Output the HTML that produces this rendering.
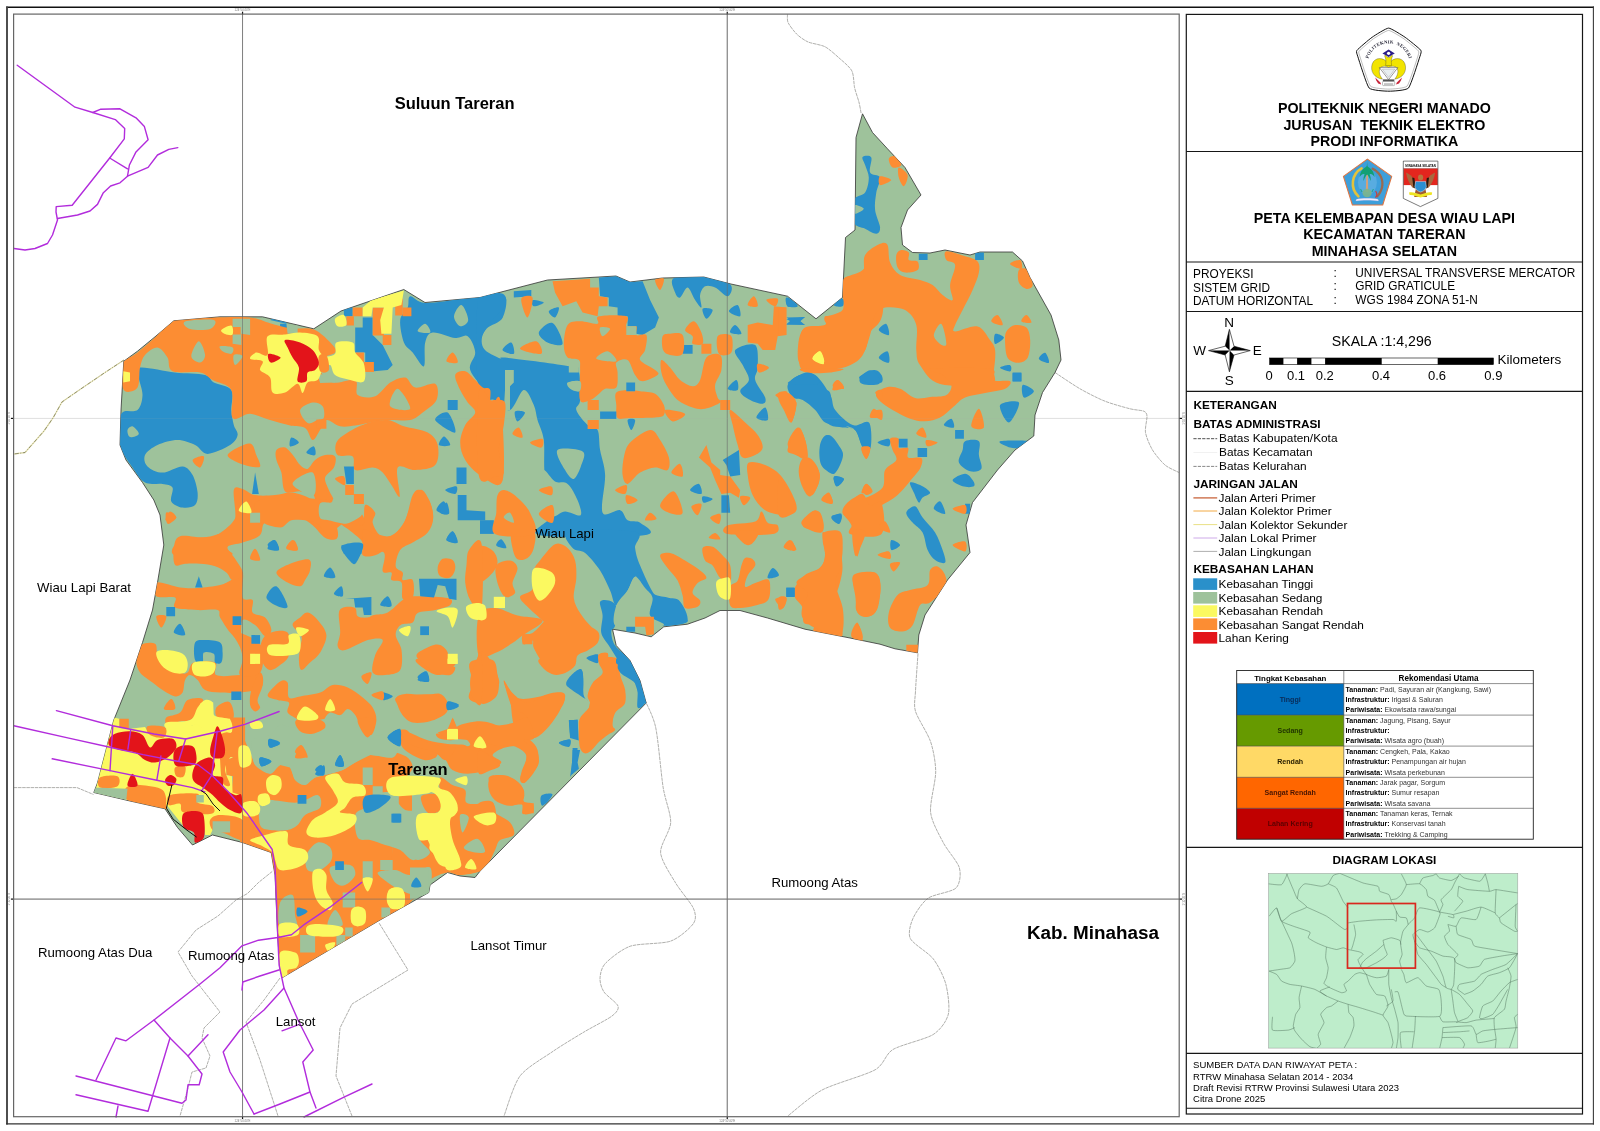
<!DOCTYPE html>
<html lang="id"><head><meta charset="utf-8"><title>Peta Kelembapan Desa Wiau Lapi</title>
<style>
html,body{margin:0;padding:0;background:#fff;}
body{width:1600px;height:1131px;position:relative;overflow:hidden;font-family:"Liberation Sans",sans-serif;color:#000;}
svg{position:absolute;left:0;top:0;will-change:transform;}
.t{position:absolute;white-space:pre;line-height:1;margin:0;padding:0;}
.b{font-weight:bold;}
.tl{position:absolute;left:0;top:0;width:1600px;height:1131px;will-change:transform;}
</style></head><body>
<svg width="1600" height="1131" viewBox="0 0 1600 1131">
<line x1="242.55" y1="14" x2="242.55" y2="1116.7" stroke="#959595" stroke-width="0.9"/>
<line x1="242.55" y1="11.7" x2="242.55" y2="14.6" stroke="#111" stroke-width="1.2"/>
<line x1="242.55" y1="1116.2" x2="242.55" y2="1119" stroke="#111" stroke-width="1.2"/>
<text x="242.55" y="11" font-family="Liberation Sans, sans-serif" font-size="2.9" fill="#777" text-anchor="middle">124°50'40"E</text>
<text x="242.55" y="1122" font-family="Liberation Sans, sans-serif" font-size="2.9" fill="#777" text-anchor="middle">124°50'40"E</text>
<line x1="727.25" y1="14" x2="727.25" y2="1116.7" stroke="#959595" stroke-width="0.9"/>
<line x1="727.25" y1="11.7" x2="727.25" y2="14.6" stroke="#111" stroke-width="1.2"/>
<line x1="727.25" y1="1116.2" x2="727.25" y2="1119" stroke="#111" stroke-width="1.2"/>
<text x="727.25" y="11" font-family="Liberation Sans, sans-serif" font-size="2.9" fill="#777" text-anchor="middle">124°50'40"E</text>
<text x="727.25" y="1122" font-family="Liberation Sans, sans-serif" font-size="2.9" fill="#777" text-anchor="middle">124°50'40"E</text>
<line x1="13" y1="418.4" x2="1179" y2="418.4" stroke="#e2e2e2" stroke-width="0.9"/>
<line x1="13" y1="899.1" x2="1179" y2="899.1" stroke="#808080" stroke-width="0.8"/>
<line x1="10.9" y1="418.4" x2="13.8" y2="418.4" stroke="#111" stroke-width="1.2"/>
<line x1="1179" y1="418.4" x2="1182" y2="418.4" stroke="#111" stroke-width="1.2"/>
<text transform="translate(10,418.4) rotate(-90)" font-family="Liberation Sans, sans-serif" font-size="2.9" fill="#888" text-anchor="middle">1°10'20"N</text>
<text transform="translate(1185,418.4) rotate(-90)" font-family="Liberation Sans, sans-serif" font-size="2.9" fill="#888" text-anchor="middle">1°10'20"N</text>
<line x1="10.9" y1="899.1" x2="13.8" y2="899.1" stroke="#111" stroke-width="1.2"/>
<line x1="1179" y1="899.1" x2="1182" y2="899.1" stroke="#111" stroke-width="1.2"/>
<text transform="translate(10,899.1) rotate(-90)" font-family="Liberation Sans, sans-serif" font-size="2.9" fill="#888" text-anchor="middle">1°10'20"N</text>
<text transform="translate(1185,899.1) rotate(-90)" font-family="Liberation Sans, sans-serif" font-size="2.9" fill="#888" text-anchor="middle">1°10'20"N</text>
<g fill="none" stroke="#6c6c66" stroke-width="0.55" stroke-dasharray="3.5 0.7">
<path d="M124,360L105,372.5L80,389.5L62,402L53,418L44,431L29,448L25,452.5L14,454" stroke="#e9e6b8" stroke-width="1.4" stroke-dasharray="none"/>
<path d="M124,360L105,372.5L80,389.5L62,402L53,418L44,431L29,448L25,452.5L14,454" stroke="#55553a" stroke-width="0.6" stroke-dasharray="4 1.5 1 1.5"/>
<path d="M787.5,14.2C787.6,15.3 786.9,20 788.1,22.6C789.3,25.2 794,31.4 796.6,34C799.2,36.6 804.1,40.2 807.9,41.9C811.7,43.6 820.7,44.6 824.9,46.7C829.1,48.8 835.5,54.8 839.1,58C842.7,61.2 849.7,66.8 851.8,70.8C853.9,74.8 853.7,83.6 854.6,87.7C855.5,91.8 858,98.5 858.9,101.9C859.8,105.3 860.8,111.7 861.1,113.2"/>
<path d="M1055,372.5C1058.3,374.7 1073.3,384.9 1080,388.8C1086.7,392.6 1098.3,398.6 1105,401.2C1111.7,403.9 1124.8,407.4 1130,408.8C1135.2,410.1 1141.5,410.2 1143.8,411.2C1146,412.2 1146.8,413.4 1147,416.2C1147.2,419.1 1144.8,428 1145.5,432.5C1146.2,437 1149.9,445.7 1152.5,450C1155.1,454.3 1161.5,462 1165,465C1168.5,468 1177.1,471.5 1179,472.5"/>
<path d="M918,653.4C917.7,658.4 915.8,683.5 915.5,691.2C915.2,698.9 913.5,704.7 915.5,711.4C917.5,718.1 927.9,733.6 930.6,741.7C933.3,749.8 935.7,762.6 935.7,772C935.7,781.4 929.6,803 930.6,812.4C931.6,821.8 939.5,835.3 943.3,842.7C947.1,850.1 957.7,861.8 959.4,867.9C961.1,874 960.1,884.1 955.9,888.1C951.7,892.1 933.8,894.2 928.1,898.2C922.4,902.2 915.4,913 913,918.4C910.6,923.8 907.7,933.2 910.4,938.6C913.1,944 928.5,952.7 933.2,958.8C937.9,964.9 943.8,976.6 945.8,984C947.8,991.4 950,1007.6 948.3,1014.3C946.6,1021 940.6,1029.8 933.2,1034.5C925.8,1039.2 900.5,1044.9 892.8,1049.6C885.1,1054.3 884.5,1064.4 875.1,1069.8C865.7,1075.2 833.7,1083.8 822.1,1090C810.5,1096.2 792.4,1112.5 787.8,1116"/>
<path d="M642.9,696.3C644.6,700.3 652.8,714.5 655.5,726.6C658.2,738.7 661.1,774.4 663.1,787.2C665.1,800 671,813.8 670.7,822.5C670.4,831.2 659.9,844.7 660.6,852.8C661.3,860.9 671.3,875.7 675.7,883.1C680.1,890.5 691,902.9 693.4,908.3C695.8,913.7 696.4,919.1 693.4,923.5C690.4,927.9 679.1,938.1 670.7,941.1C662.3,944.1 639.1,943.2 630.3,946.2C621.5,949.2 609,959.4 605,963.8C601,968.2 600.1,975.2 600,979C599.9,982.8 601.6,988.4 604,992C606.4,995.6 616.9,1002.8 618,1006C619.1,1009.2 616.5,1012.5 612,1016C607.5,1019.5 592,1027.2 584,1032C576,1036.8 560.5,1046.1 552,1052C543.5,1057.9 526.4,1067.5 520,1076C513.6,1084.5 506.1,1110.7 504,1116"/>
<path d="M13.8,787.6L77,787.6L93.5,794.5"/>
<path d="M272.2,871.5L258.5,882.5L247.5,893.5L236,900L218,916L196,930L178,952L192,976L220,1012L204,1028L202,1038L210,1056L206,1068L192,1072L188,1088L180,1116"/>
<path d="M280,978L264,1000L246,1022L260,1060L278,1116"/>
<path d="M379.2,923.2L408,970L352,1004L340,1028L336,1076L352,1116"/>
</g>
<clipPath id="mapclip"><path d="M123.8,361.2L137.5,351.2L156,336L173.8,320.8L220,316.8L262.5,316.8L313.8,328.8L341,311L403.8,289.5L425,302.5L480,297.5L547.5,280L616,276L630,282L662.5,278L703.8,277L730,283.8L787.5,296.2L816,318.8L842.5,297.5L845.5,237.5L855,230L856,137.5L862.5,113.8L872.5,132.5L887.5,148.8L905,167.5L921,195L907.5,210L901,227.5L902.5,245L912.5,252.5L930,253L945,250L970,255L980,252L1012.5,252L1022.5,261L1030,277.5L1051,315L1058.8,340L1061,360L1055,372.5L1042.5,392.5L1035,415L1033.8,436L1015,450L997.5,470L972.5,502.5L966,525L970,552.5L947.5,580L925,615L918.8,635L917.5,652.8L895,648.8L880,644.2L850,638L805,629.2L767.5,618L740,610.5L720,610.5L705,618L687.5,624.2L663.8,626.8L651.2,636.8L635,633L612.5,629.2L616.2,645.5L630,660.5L640,680.5L646.2,703L480,871.2L475,877.5L460,876L447.5,872.5L430,885L428.8,892.5L380,920L282.5,977.5L280,970L277.5,932.5L275,875L271.2,852.5L242.5,842.5L212.5,835L192.5,845L177.5,827.5L165,808.8L130,801L93.8,792.5L97.5,782.8L113.8,720L130,680L142.5,642.5L152.5,610L157.5,582.5L163.8,545L160,515L153.8,500L142.5,482.5L126,460L120,445L121,410Z"/></clipPath>
<path d="M123.8,361.2L137.5,351.2L156,336L173.8,320.8L220,316.8L262.5,316.8L313.8,328.8L341,311L403.8,289.5L425,302.5L480,297.5L547.5,280L616,276L630,282L662.5,278L703.8,277L730,283.8L787.5,296.2L816,318.8L842.5,297.5L845.5,237.5L855,230L856,137.5L862.5,113.8L872.5,132.5L887.5,148.8L905,167.5L921,195L907.5,210L901,227.5L902.5,245L912.5,252.5L930,253L945,250L970,255L980,252L1012.5,252L1022.5,261L1030,277.5L1051,315L1058.8,340L1061,360L1055,372.5L1042.5,392.5L1035,415L1033.8,436L1015,450L997.5,470L972.5,502.5L966,525L970,552.5L947.5,580L925,615L918.8,635L917.5,652.8L895,648.8L880,644.2L850,638L805,629.2L767.5,618L740,610.5L720,610.5L705,618L687.5,624.2L663.8,626.8L651.2,636.8L635,633L612.5,629.2L616.2,645.5L630,660.5L640,680.5L646.2,703L480,871.2L475,877.5L460,876L447.5,872.5L430,885L428.8,892.5L380,920L282.5,977.5L280,970L277.5,932.5L275,875L271.2,852.5L242.5,842.5L212.5,835L192.5,845L177.5,827.5L165,808.8L130,801L93.8,792.5L97.5,782.8L113.8,720L130,680L142.5,642.5L152.5,610L157.5,582.5L163.8,545L160,515L153.8,500L142.5,482.5L126,460L120,445L121,410Z" fill="#9EC29B" stroke="#333" stroke-width="0.8"/>
<g clip-path="url(#mapclip)">
<path d="M140,367.6C146.1,366.7 164.2,371.3 175,372.6C185.9,373.8 198.6,373.4 205.1,375.1C211.5,376.7 209.4,380.1 213.8,382.6C218.2,385.1 228.4,385.5 231.3,390.1C234.3,394.7 230.9,404.3 231.3,410.1C231.7,415.9 232.8,420.9 233.8,425.1C234.9,429.3 238.2,431.8 237.6,435.1C237,438.4 235.1,442 230.1,445.1C225.1,448.2 213.4,453.9 207.6,453.9C201.7,453.9 200.1,447.4 195.1,445.1C190.1,442.8 183.8,440.1 177.5,440.1C171.3,440.1 163,442.6 157.5,445.1C152.1,447.6 146.7,451.6 145,455.1C143.4,458.7 144.6,463.5 147.5,466.4C150.4,469.3 156.7,472.6 162.5,472.6C168.4,472.6 177.5,466 182.6,466.4C187.6,466.8 190.1,470.8 192.6,475.1C195.1,479.5 197.1,487.6 197.6,492.6C198,497.6 197.6,502.6 195.1,505.1C192.6,507.6 186.5,508.3 182.6,507.6C178.6,507 173,504.7 171.3,501.4C169.6,498.1 174,490.6 172.5,487.6C171.1,484.7 167.1,484.7 162.5,483.9C158,483 150,485.3 145,482.6C140,479.9 136.7,473.9 132.5,467.6C128.4,461.4 121.9,454.1 120,445.1C118.1,436.1 118.3,419.7 121.3,413.8C124.2,408 134,413.2 137.5,410.1C141.1,407 142.3,400.5 142.5,395.1C142.7,389.7 139.2,382.2 138.8,377.6C138.4,373 134,368.4 140,367.6Z" fill="#2A90CA"/>
<path d="M410.2,296.3C413.1,295.5 416.4,302.6 425.2,303C434,303.4 449.8,300.3 462.7,298.8C475.7,297.2 496.1,290.6 502.8,293.8C509.4,296.9 505.5,311.7 502.8,317.5C500,323.4 490.5,324.2 486.5,328.8C482.5,333.4 479.8,339.8 479,345C478.2,350.3 477.9,355.9 481.5,360.1C485,364.2 496.7,363 500.3,370.1C503.8,377.2 504.8,398.8 502.8,402.6C500.7,406.3 493.2,398 487.7,392.6C482.3,387.2 472.3,376.7 470.2,370.1C468.1,363.4 475.7,358.2 475.2,352.6C474.8,346.9 471.1,338.7 467.7,336.3C464.4,333.9 461.1,338.7 455.2,338C449.4,337.4 437.7,331.8 432.7,332.5C427.7,333.3 426.7,336.9 425.2,342.5C423.7,348.2 426,364.6 424,366.3C421.9,368 416,356.5 412.7,352.6C409.4,348.6 406,348 403.9,342.5C401.9,337.1 399.6,325.9 400.2,320C400.8,314.2 406,311.5 407.7,307.5C409.4,303.6 407.3,297 410.2,296.3Z" fill="#2A90CA"/>
<path d="M362.7,317.5L372.7,317.5L372.7,335L382.7,345L392.7,365.1L387.7,370.1L373.9,371.3L365.2,362.6L365.2,352.6L355.2,352.6L355.2,327.5L362.7,327.5Z" fill="#2A90CA"/>
<path d="M343.9,307.5L352.7,307.5L352.7,316.3L343.9,316.3Z" fill="#2A90CA"/>
<path d="M232.6,327L240.6,327L240.6,334.5L232.6,334.5Z" fill="#2A90CA"/>
<path d="M280.1,323.8L287.6,323.8L287.6,333.8L280.1,333.8Z" fill="#2A90CA"/>
<path d="M270.1,320L286.4,323.8L286.4,321.3L272.6,318.8Z" fill="#2A90CA"/>
<path d="M255.1,472.6L258.8,493.9L252.1,493.9Z" fill="#2A90CA"/>
<path d="M478.7,297.5C482.9,281.9 499.6,294.6 503.8,296.3C507.9,297.9 506.1,303.2 503.8,307.5C501.5,311.9 493.6,317.5 490,322.5C486.4,327.5 482.8,333 482,337.6C481.2,342.1 481.6,346.4 485,350.1C488.4,353.7 499.2,358.3 502.5,359.6C505.8,360.8 493.8,356.4 505,357.6C516.3,358.7 557.8,364 570.1,366.3C582.4,368.6 577.1,365.7 578.8,371.3C580.5,377 580.5,393.6 580.1,400.1C579.6,406.6 575.1,405.9 576.3,410.1C577.6,414.3 584,421.8 587.6,425.1C591.1,428.4 595.5,425.9 597.6,430.1C599.7,434.3 598.8,442.6 600.1,450.1C601.3,457.6 604.7,464.7 605.1,475.1C605.5,485.6 600.1,506.8 602.6,512.7C605.1,518.5 615.9,508.9 620.1,510.2C624.3,511.4 624.3,518.1 627.6,520.2C630.9,522.3 637.4,520.2 640.1,522.7C642.8,525.2 660.5,533.1 643.9,535.2C627.2,537.3 555.3,538.5 540,535.2C524.8,531.8 550,522.7 552.5,515.2C555,507.7 556.3,496.8 555,490.2C553.8,483.5 546.9,483.5 545,475.1C543.2,466.8 545,449.3 543.8,440.1C542.5,430.9 539.2,425.9 537.5,420.1C535.9,414.3 536.1,410.1 533.8,405.1C531.5,400.1 527.7,389.3 523.8,390.1C519.8,390.9 514.8,408.4 510,410.1C505.2,411.8 500.2,403.4 495,400.1C489.8,396.8 481.5,407.2 478.7,390.1C476,373 474.6,313.2 478.7,297.5Z" fill="#2A90CA"/>
<path d="M598.8,277.5L616.3,276.3L630.1,282L642.6,281.3L650.1,300L658.9,317.5L655.1,327.5L642.6,335.1L636.3,333.8L636.3,326.3L627.6,326.3L627.6,316.3L617.6,316.3L617.6,307.5L608.8,306.3L608.8,297.5L600.1,296.3Z" fill="#2A90CA"/>
<path d="M673.9,278C678.7,275.4 694.5,275.9 703.9,277C713.3,278.1 726.2,281.3 730.2,284.5C734.1,287.7 730.2,295.8 727.7,296.3C725.2,296.8 718.9,289.2 715.1,287.5C711.4,285.9 707.6,285 705.1,286.3C702.6,287.5 700.8,291.5 700.1,295C699.5,298.6 702.2,306.7 701.4,307.5C700.6,308.4 697.4,303.4 695.1,300C692.8,296.7 690.1,287.9 687.6,287.5C685.1,287.1 682.2,296.7 680.1,297.5C678,298.4 676.2,295.8 675.1,292.5C674.1,289.3 669.1,280.6 673.9,278Z" fill="#2A90CA"/>
<path d="M862.6,157C863.6,155.8 870.1,155 871.3,157.5C872.6,160.1 868.6,169.2 870.1,172.5C871.5,175.9 879,174.2 880.1,177.5C881.1,180.9 877.1,187.1 876.3,192.6C875.5,198 874.4,204.2 875.1,210.1C875.7,215.9 879.9,223.6 880.1,227.6C880.3,231.5 878.8,233.6 876.3,233.8C873.8,234 868.8,230.7 865.1,228.8C861.3,227 855.7,227.4 853.8,222.6C851.9,217.8 851.9,205.1 853.8,200.1C855.7,195.1 862.6,196.3 865.1,192.6C867.6,188.8 868.8,182.1 868.8,177.5C868.8,173 866.1,168.5 865.1,165C864,161.6 861.5,158.3 862.6,157Z" fill="#2A90CA"/>
<path d="M790,382.5C790.8,379.2 796.3,376 800,375C803.8,374 809.2,374.2 812.5,376.3C815.9,378.3 817.1,384.8 820,387.5C822.9,390.2 827.9,388.8 830,392.5C832.1,396.3 830.4,404.8 832.5,410C834.6,415.2 838.8,420.7 842.5,423.8C846.3,426.9 850.9,428.8 855,428.8C859.2,428.8 865.1,421.1 867.6,423.8C870.1,426.5 870.9,441.3 870.1,445C869.2,448.8 865.1,448.8 862.6,446.3C860.1,443.8 858.4,433.2 855,430C851.7,426.9 846.7,428.4 842.5,427.5C838.4,426.7 833.8,427.1 830,425C826.3,422.9 822.9,418.8 820,415C817.1,411.3 816.7,405.9 812.5,402.5C808.4,399.2 798.8,398.4 795,395C791.3,391.7 789.2,385.8 790,382.5Z" fill="#2A90CA"/>
<path d="M570.1,531.7C580.5,529 624.3,529 635.1,531.7C645.9,534.5 634.3,542.4 635.1,548C635.9,553.6 636.8,557.6 640.1,565.5C643.4,573.4 650.1,588.9 655.1,595.5C660.1,602.2 665.9,602.6 670.1,605.5C674.3,608.5 677.2,610.3 680.1,613.1C683,615.8 689.3,619.7 687.6,621.8C686,623.9 674.1,625.1 670.1,625.6C666.2,626 667.2,626 663.9,624.3C660.5,622.6 652,619.9 650.1,615.6C648.2,611.2 653.9,603.5 652.6,598C651.4,592.6 645.5,586.6 642.6,583C639.7,579.5 637.6,575.5 635.1,576.8C632.6,578 630.7,585.7 627.6,590.5C624.5,595.3 619.3,605.5 616.3,605.5C613.4,605.5 612.8,596.4 610.1,590.5C607.4,584.7 604.2,576.8 600.1,570.5C595.9,564.3 589.7,556.8 585.1,553C580.5,549.3 575.1,551.6 572.6,548C570.1,544.5 559.6,534.5 570.1,531.7Z" fill="#2A90CA"/>
<path d="M600.1,601.8C601.1,599.3 606.1,599.7 608.8,600.5C611.5,601.4 615.3,602.6 616.3,606.8C617.4,611 615.9,621.4 615.1,625.6C614.3,629.7 611.3,628.5 611.3,631.8C611.3,635.1 612,640.8 615.1,645.6C618.2,650.4 625.9,654.7 630.1,660.6C634.3,666.4 637.4,673.5 640.1,680.6C642.8,687.7 646.4,700.2 646.4,703.1C646.4,706 642.4,702.3 640.1,698.1C637.8,693.9 635.9,683.9 632.6,678.1C629.3,672.3 624,668.5 620.1,663.1C616.1,657.7 612,650.6 608.8,645.6C605.7,640.6 602.4,638.1 601.3,633.1C600.3,628.1 602.8,620.8 602.6,615.6C602.4,610.3 599,604.3 600.1,601.8Z" fill="#2A90CA"/>
<path d="M637.5,572.6C639.8,568.7 646.3,588.5 651.3,592.6C656.3,596.8 662.7,596.2 667.5,597.6C672.3,599.1 676.7,597.6 680,601.4C683.4,605.1 688.8,616.2 687.5,620.2C686.3,624.1 677.9,624.4 672.5,625.2C667.1,625.9 660.8,626.1 655,624.7C649.2,623.2 640.4,625.1 637.5,616.4C634.6,607.7 635.2,576.6 637.5,572.6Z" fill="#2A90CA"/>
<path d="M122.5,363.1C125.2,358.9 131.9,357 137.5,352.6C143.2,348.1 150.2,341.6 156.3,336.3C162.3,331 164.2,323.9 173.8,320.8C183.4,317.7 201.1,318.1 213.8,317.5C226.5,317 240.7,316.6 250.1,317.5C259.5,318.5 263.4,321.5 270.1,323.3C276.8,325.1 282.8,327.2 290.1,328.3C297.4,329.3 306.8,326.7 313.9,329.5C321,332.3 329.1,341.2 332.6,345C336.2,348.9 336.4,350.5 335.1,352.6C333.9,354.6 327.6,354.6 325.1,357.6C322.6,360.5 318.9,365.9 320.1,370.1C321.4,374.2 326.8,380.9 332.6,382.6C338.5,384.2 351,378 355.2,380.1C359.3,382.2 354.3,392.4 357.7,395.1C361,397.8 369.8,398.4 375.2,396.3C380.6,394.2 385.2,385.7 390.2,382.6C395.2,379.4 401,376.7 405.2,377.6C409.4,378.4 410.2,386.5 415.2,387.6C420.2,388.6 431.7,381.7 435.2,383.8C438.8,385.9 438.5,395.3 436.5,400.1C434.4,404.9 427.1,409.3 422.7,412.6C418.3,415.9 416,418.8 410.2,420.1C404.4,421.3 394.8,419.6 387.7,420.1C380.6,420.6 373.1,422.2 367.7,423.1C362.2,424 359.7,425.1 355.2,425.6C350.6,426.1 344.9,427.3 340.2,426.3C335.4,425.4 329.7,419.5 326.4,420.1C323.1,420.7 322.4,426.8 320.1,430.1C317.8,433.4 315.1,440.4 312.6,440.1C310.1,439.8 308.9,430.5 305.1,428.1C301.4,425.7 296,426.9 290.1,425.6C284.3,424.3 276.8,422.1 270.1,420.1C263.4,418.1 256.3,414.2 250.1,413.8C243.8,413.5 235.7,422.1 232.6,418.1C229.5,414.1 234.7,396.4 231.3,390.1C228,383.7 217.8,383 212.6,380.1C207.4,377.2 206.7,374 200.1,372.6C193.4,371.1 178,373.8 172.5,371.3C167.1,368.8 170,361.5 167.5,357.6C165,353.6 161.3,348 157.5,347.5C153.8,347.1 147.9,351.7 145,355.1C142.1,358.4 141.3,362.1 140,367.6C138.8,373 140,383.6 137.5,387.6C135,391.5 127.7,393 125,391.3C122.3,389.7 121.7,382.3 121.3,377.6C120.8,372.9 119.8,367.2 122.5,363.1Z" fill="#FC8D33"/>
<path d="M403.9,426.3C410.6,428.4 422.1,429.5 427.7,432.6C433.3,435.7 436.5,439.7 437.7,445.1C439,450.5 439,461 435.2,465.1C431.5,469.3 421.5,469.7 415.2,470.1C408.9,470.5 400.3,463.2 397.7,467.6C395.1,472 400.7,493.5 399.7,496.4C398.6,499.3 394.3,489.1 391.4,485.1C388.6,481.2 385.8,475.5 382.7,472.6C379.5,469.7 377.3,468 372.7,467.6C368.1,467.2 358.5,472 355.2,470.1C351.8,468.2 355.6,458.9 352.7,456.4C349.7,453.9 340.4,457.4 337.6,455.1C334.9,452.8 334.7,446.4 336.4,442.6C338.1,438.9 342.4,435.9 347.7,432.6C352.9,429.3 361,425.2 367.7,423.1C374.3,421 381.6,419.6 387.7,420.1C393.7,420.6 397.3,424.3 403.9,426.3Z" fill="#FC8D33"/>
<path d="M455.2,375.1C456.1,371.9 461.9,370.5 465.2,371.3C468.6,372.1 472.3,377.4 475.2,380.1C478.2,382.8 480.2,385.9 482.7,387.6C485.2,389.2 489,386.3 490.2,390.1C491.5,393.8 488.6,408.4 490.2,410.1C491.9,411.8 498.2,388.4 500.3,400.1C502.3,411.8 506.1,467.6 502.8,480.1C499.4,492.6 486.5,478.5 480.2,475.1C474,471.8 468.6,465.5 465.2,460.1C461.9,454.7 460.2,448.4 460.2,442.6C460.2,436.8 462.7,430.1 465.2,425.1C467.7,420.1 474.8,416.3 475.2,412.6C475.7,408.8 470.2,406.3 467.7,402.6C465.2,398.8 462.3,394.7 460.2,390.1C458.1,385.5 454.4,378.2 455.2,375.1Z" fill="#FC8D33"/>
<path d="M192.6,460.1C193.2,458.2 202.6,455.1 203.8,456.4C205.1,457.6 201.9,467 200.1,467.6C198.2,468.2 191.9,462 192.6,460.1Z" fill="#FC8D33"/>
<path d="M165.5,520.2C164.5,519.1 168.3,511.8 170,511.4C171.8,511 177,516.2 176.3,517.7C175.5,519.1 166.6,521.2 165.5,520.2Z" fill="#FC8D33"/>
<path d="M227.6,455.1C228,452.4 236.1,448.2 240.1,446.4C244,444.5 248.6,442.4 251.3,443.9C254.1,445.3 254.9,451.4 256.3,455.1C257.8,458.9 261.1,464.5 260.1,466.4C259.1,468.2 253.8,467 250.1,466.4C246.3,465.7 241.3,464.5 237.6,462.6C233.8,460.7 227.2,457.8 227.6,455.1Z" fill="#FC8D33"/>
<path d="M276.4,450.1C277.8,448 282.2,446.6 285.1,447.6C288,448.7 291.4,453.4 293.9,456.4C296.4,459.3 297.8,463 300.1,465.1C302.4,467.2 305.1,469.7 307.6,468.9C310.1,468 312.2,462.4 315.1,460.1C318.1,457.8 321.8,455.7 325.1,455.1C328.5,454.5 333.7,454.3 335.1,456.4C336.6,458.5 335.6,464.1 333.9,467.6C332.2,471.2 326,473.9 325.1,477.6C324.3,481.4 327.4,486.2 328.9,490.1C330.4,494.1 334.5,499.1 333.9,501.4C333.3,503.7 328.1,503.9 325.1,503.9C322.2,503.9 318.5,503.1 316.4,501.4C314.3,499.7 315.3,495.6 312.6,493.9C309.9,492.2 304.7,491.8 300.1,491.4C295.5,491 288.2,494.5 285.1,491.4C282,488.3 282.8,477.8 281.4,472.6C279.9,467.4 277.2,463.9 276.4,460.1C275.5,456.4 274.9,452.2 276.4,450.1Z" fill="#FC8D33"/>
<path d="M233.8,490.1C235.1,484.9 239,488.1 242.6,488.9C246.1,489.7 249.7,494.1 255.1,495.1C260.5,496.2 268.9,495.6 275.1,495.1C281.4,494.7 286.4,491.8 292.6,492.6C298.9,493.5 308.5,497.2 312.6,500.1C316.8,503.1 314.3,506.8 317.6,510.2C321,513.5 329.3,516.8 332.6,520.2C336,523.5 337,527 337.6,530.2C338.3,533.3 338.5,537.7 336.4,538.9C334.3,540.2 329.1,540 325.1,537.7C321.2,535.4 316.8,528.5 312.6,525.2C308.5,521.8 303.9,518.5 300.1,517.7C296.4,516.8 293.5,518.9 290.1,520.2C286.8,521.4 284.3,524.7 280.1,525.2C275.9,525.6 268.4,521.4 265.1,522.7C261.8,523.9 262.6,530 260.1,532.7C257.6,535.4 253.4,538.5 250.1,538.9C246.8,539.3 244.3,536.2 240.1,535.2C235.9,534.1 230.1,532.5 225.1,532.7C220.1,532.9 215.1,535.6 210.1,536.4C205.1,537.3 200.1,537.3 195.1,537.7C190.1,538.1 183.4,536 180.1,538.9C176.7,541.8 166.7,552.5 175,555.2C183.4,557.9 221.7,556.8 230.1,555.2C238.4,553.5 224.2,551 225.1,545.2C225.9,539.3 233.6,529.3 235.1,520.2C236.5,511 232.6,495.3 233.8,490.1Z" fill="#FC8D33"/>
<path d="M412.7,495.1C415.2,490.1 417.3,488.9 420.2,490.1C423.1,491.4 428.1,497.6 430.2,502.6C432.3,507.6 434,515.6 432.7,520.2C431.5,524.7 428.1,527.2 422.7,530.2C417.3,533.1 406,534.7 400.2,537.7C394.4,540.6 391.8,544.8 387.7,547.7C383.5,550.6 379.3,553.9 375.2,555.2C371,556.4 364.7,557.3 362.7,555.2C360.6,553.1 364.3,546.4 362.7,542.7C361,538.9 356.4,536 352.7,532.7C348.9,529.3 340.6,524.7 340.2,522.7C339.7,520.6 346.4,520.2 350.2,520.2C353.9,520.2 360.2,525.2 362.7,522.7C365.2,520.2 363.1,506.8 365.2,505.1C367.3,503.5 373.9,509.7 375.2,512.7C376.4,515.6 371.8,518.9 372.7,522.7C373.5,526.4 376.8,533.1 380.2,535.2C383.5,537.3 388.5,537.7 392.7,535.2C396.9,532.7 401.9,526.8 405.2,520.2C408.5,513.5 410.2,500.1 412.7,495.1Z" fill="#FC8D33"/>
<path d="M552.5,281.3L590.1,278.8L590.1,287.5L598.8,287.5L598.8,296.3L607.6,297.5L607.6,306.3L598.8,306.3L597.6,316.3L582.6,312.5L576.3,301.3L562.6,306.3L555,292.5Z" fill="#FC8D33"/>
<path d="M567.6,325C570.3,321.1 575.1,321.5 580.1,321.3C585.1,321.1 594.4,324.6 597.6,323.8C600.7,323 594,317.5 598.8,316.3C603.6,315 621.8,314.6 626.3,316.3C630.9,318 624.7,324.6 626.3,326.3C628,328 634.7,324.8 636.3,326.3C638,327.8 634.7,333.6 636.3,335.1C638,336.5 644.9,332.6 646.4,335.1C647.8,337.6 646.1,345.9 645.1,350.1C644.1,354.2 638.4,356.7 640.1,360.1C641.8,363.4 652.2,367.6 655.1,370.1C658,372.6 659.7,373.2 657.6,375.1C655.5,377 646.4,381.3 642.6,381.3C638.8,381.3 637.6,378.6 635.1,375.1C632.6,371.5 630.7,362.2 627.6,360.1C624.5,358 618,360.5 616.3,362.6C614.7,364.7 617.6,368.4 617.6,372.6C617.6,376.7 618.4,384.9 616.3,387.6C614.3,390.3 608.2,387.6 605.1,388.8C602,390.1 600.1,393.2 597.6,395.1C595.1,397 593,399.3 590.1,400.1C587.2,400.9 581.7,405.1 580.1,400.1C578.4,395.1 580.3,376.7 580.1,370.1C579.9,363.4 580.9,362.2 578.8,360.1C576.7,358 570.1,360.1 567.6,357.6C565.1,355.1 563.8,350.5 563.8,345.1C563.8,339.6 564.8,329 567.6,325Z" fill="#FC8D33"/>
<path d="M616.3,392.6C618.6,390.1 626.1,390.3 630.1,390.1C634.1,389.9 635.9,390.7 640.1,391.3C644.3,392 651.1,391.5 655.1,393.8C659.1,396.1 662.4,401.6 663.9,405.1C665.3,408.6 665.3,413 663.9,415.1C662.4,417.2 660.7,417.1 655.1,417.6C649.5,418.1 636.3,418 630.1,418.1C623.8,418.2 619.9,420.3 617.6,418.1C615.3,415.9 616.5,409.3 616.3,405.1C616.1,400.8 614,395.1 616.3,392.6Z" fill="#FC8D33"/>
<path d="M661.4,360.1C662.8,359.2 667,364.2 670.1,367.6C673.2,370.9 676.4,377 680.1,380.1C683.9,383.2 689.3,386.3 692.6,386.3C696,386.3 697.8,384.9 700.1,380.1C702.4,375.3 703.1,361.7 706.4,357.6C709.7,353.4 717.6,353 720.2,355.1C722.7,357.2 722.2,365.1 721.4,370.1C720.6,375.1 715.8,380.5 715.1,385.1C714.5,389.7 716.8,394.7 717.6,397.6C718.5,400.5 722.2,400.7 720.2,402.6C718.1,404.5 709.7,408 705.1,408.8C700.6,409.7 697.2,409.1 692.6,407.6C688,406.1 682,403.8 677.6,400.1C673.2,396.3 669.1,389.7 666.4,385.1C663.7,380.5 662.2,376.7 661.4,372.6C660.5,368.4 659.9,360.9 661.4,360.1Z" fill="#FC8D33"/>
<path d="M844,278.8C847.3,275 856.3,275 862.7,270C869.2,265 879.4,241.7 882.8,248.7C886.1,255.8 884.8,298.6 882.8,312.5C880.7,326.5 873.2,326.3 870.2,332.6C867.3,338.8 867.7,345.5 865.2,350.1C862.7,354.6 860.2,356.9 855.2,360.1C850.2,363.2 841.9,366.9 835.2,368.8C828.6,370.7 820.6,371.5 815.2,371.3C809.8,371.1 805.6,370.3 802.7,367.6C799.8,364.9 797.7,361.3 797.7,355.1C797.7,348.8 798.1,335.1 802.7,330.1C807.3,325 821.5,327.3 825.2,325C829,322.8 822.3,317.8 825.2,316.3C828.1,314.8 839.8,320.3 842.7,316.3C845.6,312.3 842.5,298.8 842.7,292.5C842.9,286.3 840.6,282.5 844,278.8Z" fill="#FC8D33"/>
<path d="M845,277.6C848.4,274.7 859.2,278.9 862.6,275.1C865.9,271.4 862.1,260.3 865.1,255.1C868,249.9 876.3,245.5 880.1,243.8C883.8,242.2 885.9,242 887.6,245.1C889.2,248.2 888,257.6 890.1,262.6C892.2,267.6 895.1,272.2 900.1,275.1C905.1,278 914.7,278.4 920.1,280.1C925.5,281.8 928.8,282.6 932.6,285.1C936.3,287.6 939.3,292.6 942.6,295.1C945.9,297.6 951.4,301.8 952.6,300.1C953.9,298.5 949.7,291 950.1,285.1C950.5,279.3 955.7,269.3 955.1,265.1C954.5,260.9 947.8,262.4 946.4,260.1C944.9,257.8 943.2,252 946.4,251.3C949.5,250.7 959.9,254.7 965.1,256.3C970.3,258 975.3,258.6 977.6,261.4C979.9,264.1 979.7,267.8 978.9,272.6C978,277.4 975.3,283.9 972.6,290.1C969.9,296.4 965.5,304.3 962.6,310.1C959.7,316 956.4,321.6 955.1,325.1C953.9,328.7 951.4,331.2 955.1,331.4C958.9,331.6 971.8,324.9 977.6,326.4C983.5,327.9 987.2,336.2 990.1,340.2C993,344.1 994.5,345.2 995.1,350.2C995.8,355.2 994.7,364.5 993.9,370.2C993,375.8 999.1,381.6 990.1,383.9C981.2,386.2 951.8,387.1 940.1,383.9C928.4,380.8 924,370.8 920.1,365.2C916.1,359.5 917,356.8 916.3,350.2C915.7,343.5 918.2,331.8 916.3,325.1C914.5,318.5 910.3,313 905.1,310.1C899.9,307.2 890.1,306.8 885.1,307.6C880.1,308.5 877.6,310.5 875.1,315.1C872.6,319.7 872.1,328.5 870.1,335.1C868,341.8 865.9,350.2 862.6,355.2C859.2,360.2 855.5,362.7 850,365.2C844.6,367.7 837.5,369.1 830,370.2C822.5,371.2 810.2,373.1 805,371.4C799.8,369.8 799.6,365.4 798.8,360.2C797.9,355 799,345.6 800,340.2C801.1,334.7 800.8,330.1 805,327.6C809.2,325.1 821.7,326.8 825,325.1C828.4,323.5 822.1,320.1 825,317.6C827.9,315.1 839.6,314.3 842.5,310.1C845.5,306 842.1,298 842.5,292.6C843,287.2 841.7,280.5 845,277.6Z" fill="#FC8D33"/>
<path d="M876.3,393.8C877.6,391.4 883.6,387.8 887.6,387C891.5,386.2 895.5,386.9 900.1,388.8C904.7,390.6 910.1,396.6 915.1,398C920.1,399.4 924.9,397.5 930.1,397C935.3,396.5 942.8,397 946.4,395C949.9,393 952,388.3 951.4,385C950.7,381.7 946.1,377.7 942.6,375C939.1,372.3 922.2,369.8 930.1,368.7C938,367.7 979.7,366.9 990.1,368.7C1000.6,370.6 989.3,377.9 992.6,380C996,382.1 1008.1,379.8 1010.1,381.3C1012.2,382.7 1009.3,386.8 1005.1,388.8C1001,390.7 991.8,391.6 985.1,393C978.5,394.5 970.5,395.1 965.1,397.5C959.7,399.9 956.8,404.2 952.6,407.5C948.4,410.9 944.7,415.2 940.1,417.5C935.5,419.8 930.1,421.1 925.1,421.3C920.1,421.5 915.5,420.7 910.1,418.8C904.7,416.9 897.6,412.9 892.6,410C887.6,407.1 882.8,404 880.1,401.3C877.4,398.6 875.1,396.1 876.3,393.8Z" fill="#FC8D33"/>
<path d="M801.3,368.7C806.7,368 837.7,368.1 842.5,368.7C847.3,369.4 835.5,371.8 830,372.5C824.6,373.2 814.8,373.6 810,373C805.2,372.4 795.8,369.5 801.3,368.7Z" fill="#FC8D33"/>
<path d="M890.1,438.8C891.1,436.9 897.4,437.3 898.8,438.8C900.3,440.3 897.3,446.5 898.8,448C900.4,449.6 906.5,446.5 908.1,448C909.6,449.6 905.9,455.9 908.1,457.6C910.3,459.2 919.3,456.4 921.3,458.1C923.4,459.7 922,464.2 920.6,467.6C919.1,470.9 916.4,473.5 912.6,478.1C908.7,482.7 903,490.4 897.6,495.1C892.2,499.8 884.2,503.8 880.1,506.3C875.9,508.8 874.9,507.8 872.6,510.1C870.3,512.4 868,515.9 866.3,520.1C864.6,524.3 864,529.1 862.6,535.1C861.1,541.1 859,555.1 857.5,556.4C856.1,557.6 854.8,547.8 853.8,542.6C852.8,537.4 853.2,530.1 851.3,525.1C849.4,520.1 843.2,516.3 842.5,512.6C841.9,508.8 844.6,505.5 847.5,502.6C850.5,499.7 856.9,495.9 860.1,495.1C863.2,494.2 862.6,498.8 866.3,497.6C870.1,496.3 879.4,492.2 882.6,487.6C885.7,483 882.8,474.6 885.1,470.1C887.4,465.5 895.1,463.4 896.3,460.1C897.6,456.7 893.6,453.6 892.6,450.1C891.5,446.5 889,440.7 890.1,438.8Z" fill="#FC8D33"/>
<path d="M822.5,532.6C823.8,530.1 829.6,537.2 832.5,540.1C835.5,543 838.4,545.5 840,550.1C841.7,554.7 842.5,562.2 842.5,567.6C842.5,573 841.3,577.2 840,582.6C838.8,588.1 835.5,594.7 835,600.1C834.6,605.6 836.3,610.2 837.5,615.2C838.8,620.2 842.3,626.4 842.5,630.2C842.7,633.9 843.4,637.3 838.8,637.7C834.2,638.1 819.2,634.7 815,632.7C810.9,630.6 815.6,626.8 813.8,625.2C811.9,623.5 805.6,625.6 803.8,622.7C801.9,619.7 804,611.8 802.5,607.6C801.1,603.5 796.3,601 795,597.6C793.8,594.3 793.3,591.4 795,587.6C796.7,583.9 800.8,578.5 805,575.1C809.2,571.8 816.7,571 820,567.6C823.4,564.3 824.6,561 825,555.1C825.4,549.3 821.3,535.1 822.5,532.6Z" fill="#FC8D33"/>
<path d="M852.5,577.6C853.2,573.9 856.3,573.5 860.1,572.6C863.8,571.8 871.7,571 875.1,572.6C878.4,574.3 879.2,578.9 880.1,582.6C880.9,586.4 880.9,590.1 880.1,595.1C879.2,600.1 877.6,609.1 875.1,612.7C872.6,616.2 868.2,616.8 865.1,616.4C861.9,616 857.8,613.7 856.3,610.2C854.8,606.6 856.9,600.6 856.3,595.1C855.7,589.7 851.9,581.4 852.5,577.6Z" fill="#FC8D33"/>
<path d="M888.8,612.7C890.1,607.2 894,598.9 897.6,595.1C901.1,591.4 905.1,591.8 910.1,590.1C915.1,588.5 924.3,588.5 927.6,585.1C930.9,581.8 928.4,573.3 930.1,570.1C931.8,567 935.1,565.5 937.6,566.4C940.1,567.2 943.9,571.6 945.1,575.1C946.4,578.7 947.6,583 945.1,587.6C942.6,592.2 934.3,599.7 930.1,602.6C925.9,605.6 923,601.4 920.1,605.1C917.2,608.9 915.5,620.8 912.6,625.2C909.7,629.5 906.3,631 902.6,631.4C898.8,631.8 892.4,630.8 890.1,627.7C887.8,624.5 887.6,618.1 888.8,612.7Z" fill="#FC8D33"/>
<path d="M156.3,582.6C160.3,581.1 173.2,586.6 180.1,587.6C186.9,588.5 190.9,588.5 197.6,588.1C204.2,587.6 214.5,586.4 220.1,585.1C225.7,583.7 227.6,582.1 231.3,580.1C235.1,578 240.7,569.6 242.6,572.5C244.5,575.5 240.9,593 242.6,597.6C244.3,602.1 250.9,597.6 252.6,600.1C254.3,602.6 250.5,609.7 252.6,612.6C254.7,615.5 262,614.7 265.1,617.6C268.2,620.5 271.4,627 271.4,630.1C271.4,633.2 267.8,637.2 265.1,636.3C262.4,635.5 258.9,627.8 255.1,625.1C251.4,622.4 245.1,617.6 242.6,620.1C240.1,622.6 242.2,638 240.1,640.1C238,642.2 233.4,636.3 230.1,632.6C226.8,628.8 222.2,621.3 220.1,617.6C218,613.8 221.3,611.3 217.6,610.1C213.8,608.8 204.7,610.5 197.6,610.1C190.5,609.7 178.8,609.7 175.1,607.6C171.3,605.5 178.2,599.4 175.1,597.6C171.9,595.7 159.4,598.8 156.3,596.3C153.2,593.8 152.3,584 156.3,582.6Z" fill="#FC8D33"/>
<path d="M175.1,565C173.2,562.7 173,554.8 173.8,550C174.6,545.2 174,538.4 180.1,536.3C186.1,534.2 201.7,539.4 210.1,537.5C218.4,535.6 224.7,529.6 230.1,525C235.5,520.4 237.6,510.8 242.6,510C247.6,509.2 257.2,515.8 260.1,520C263,524.2 263,531.3 260.1,535C257.2,538.8 248,540.5 242.6,542.5C237.2,544.5 228.8,544.3 227.6,547C226.3,549.7 232.5,554.3 235.1,558.8C237.7,563.2 243.5,570.3 243.1,573.8C242.7,577.3 235.4,580.3 232.6,580.1C229.8,579.8 229.3,574.8 226.3,572.5C223.4,570.3 219.5,567.8 215.1,566.3C210.7,564.8 205.1,564.2 200.1,563.8C195.1,563.4 189.2,563.6 185.1,563.8C180.9,564 176.9,567.3 175.1,565Z" fill="#FC8D33"/>
<path d="M260.1,520C263.4,524.6 274.7,527.5 280.1,527.5C285.5,527.5 286.8,520.8 292.6,520C298.5,519.2 308.9,519.6 315.1,522.5C321.4,525.4 326.4,536.7 330.2,537.5C333.9,538.4 334.7,530 337.7,527.5C340.6,525 343.5,522.9 347.7,522.5C351.8,522.1 360.6,526.7 362.7,525C364.8,523.3 365.6,516.7 360.2,512.5C354.8,508.3 346.8,502.1 330.2,500C313.5,497.9 271.8,496.7 260.1,500C248.4,503.3 256.8,515.4 260.1,520Z" fill="#FC8D33"/>
<path d="M420.2,490C423.3,488.7 426.8,495.3 429,500C431.1,504.7 433.4,512.6 433.2,518C433,523.4 431.1,528.4 427.7,532.5C424.3,536.6 417.3,539.6 412.7,542.5C408.1,545.4 403,546.1 400.2,550C397.4,554 395.3,562.5 395.7,566.3C396.1,570 401.5,570.3 402.7,572.5C403.9,574.8 401,578.8 402.7,580.1C404.4,581.3 411,577.1 412.7,580.1C414.4,583 414.4,594.4 412.7,597.6C411,600.7 404.6,601.3 402.7,598.8C400.8,596.3 403.3,585.7 401.5,582.6C399.6,579.4 393.1,581.7 391.4,580.1C389.8,578.4 392.9,574 391.4,572.5C390,571.1 383.9,574.6 382.7,571.3C381.4,568 386.9,556.1 383.9,552.5C381,549 368.6,553.8 365.2,550C361.7,546.3 361.5,532.7 363.2,530C364.8,527.3 370.7,532.8 375.2,533.8C379.7,534.8 385.6,537.5 390.2,536C394.8,534.6 399.4,529.8 402.7,525C406,520.3 407.3,513.3 410.2,507.5C413.1,501.7 417.1,491.2 420.2,490Z" fill="#FC8D33"/>
<path d="M338.9,612.6C339.7,608.3 342.5,607.8 345.2,607.1C347.9,606.3 353.1,606.5 355.2,608.1C357.3,609.6 355.6,614.7 357.7,616.3C359.8,617.9 365,617.8 367.7,617.6C370.4,617.4 370.6,615.9 373.9,615.1C377.3,614.2 382.9,615.1 387.7,612.6C392.5,610.1 398.5,602.8 402.7,600.1C406.9,597.4 405.2,596.6 412.7,596.3C420.2,596 441.5,596.6 447.7,598.1C454,599.5 452.3,603.1 450.2,605.1C448.1,607.1 440.6,608.7 435.2,610.1C429.8,611.4 421.5,611 417.7,613.1C414,615.2 415.5,620.6 412.7,622.6C409.9,624.6 403.5,623 400.7,625.1C397.9,627.2 395.6,630.9 395.7,635.1C395.8,639.3 400.7,644.3 401.5,650.1C402.2,655.9 402.9,665.9 400.2,670.1C397.5,674.3 389.8,674.7 385.2,675.1C380.6,675.5 374.4,675.9 372.7,672.6C371,669.3 373.5,660.5 375.2,655.1C376.9,649.7 383.9,642.6 382.7,640.1C381.4,637.6 373.9,638.4 367.7,640.1C361.4,641.8 350.2,649.1 345.2,650.1C340.2,651.1 338.5,649.3 337.7,646.3C336.8,643.4 340,638.2 340.2,632.6C340.4,627 338.1,616.8 338.9,612.6Z" fill="#FC8D33"/>
<path d="M141.3,645.1C144.4,642.4 152.3,642.2 155,643.8C157.8,645.5 155.9,651.6 157.5,655.1C159.2,658.6 161.3,662.2 165.1,665.1C168.8,668 176.3,671.4 180.1,672.6C183.8,673.9 185.3,674.3 187.6,672.6C189.9,670.9 189.2,664.3 193.8,662.6C198.4,660.9 211.3,660.5 215.1,662.6C218.8,664.7 212.2,673 216.3,675.1C220.5,677.2 232.8,675.5 240.1,675.1C247.4,674.7 256.4,670.9 260.1,672.6C263.9,674.3 263.4,682.2 262.6,685.1C261.8,688 258.9,688.9 255.1,690.1C251.4,691.4 245.9,692.2 240.1,692.6C234.3,693 225.9,693 220.1,692.6C214.3,692.2 208.8,692.2 205.1,690.1C201.3,688 200.1,682.6 197.6,680.1C195.1,677.6 192.2,675.1 190.1,675.1C188,675.1 186.3,677.2 185.1,680.1C183.8,683 184.2,689.9 182.6,692.6C180.9,695.3 178.4,696.8 175.1,696.4C171.7,696 166.3,692.4 162.6,690.1C158.8,687.8 156.3,685.5 152.5,682.6C148.8,679.7 142.7,676.4 140,672.6C137.3,668.9 136.1,664.7 136.3,660.1C136.5,655.5 138.2,647.8 141.3,645.1Z" fill="#FC8D33"/>
<path d="M232.6,632.6C233,630.3 238.8,632.6 242.6,633.8C246.4,635.1 251.8,637.4 255.1,640.1C258.4,642.8 261.8,644.7 262.6,650.1C263.4,655.5 263.9,668.4 260.1,672.6C256.4,676.8 243,677.2 240.1,675.1C237.2,673 242.6,664.7 242.6,660.1C242.6,655.5 241.8,652.2 240.1,647.6C238.4,643 232.2,634.9 232.6,632.6Z" fill="#FC8D33"/>
<path d="M267.6,695.1C268,692 276.8,683.4 280.1,681.4C283.5,679.3 286.2,679.9 287.6,682.6C289.1,685.3 286.8,695.3 288.9,697.6C291,699.9 294.9,697.2 300.1,696.4C305.3,695.5 314.7,694.5 320.2,692.6C325.6,690.7 328.1,685.9 332.7,685.1C337.2,684.3 342.7,685.5 347.7,687.6C352.7,689.7 358.5,694.3 362.7,697.6C366.8,701 370.4,703.9 372.7,707.6C375,711.4 376.6,715.6 376.4,720.1C376.2,724.7 373.7,733.5 371.4,735.1C369.1,736.8 365.4,733.5 362.7,730.1C360,726.8 357.7,718.7 355.2,715.1C352.7,711.6 350.2,708.9 347.7,708.9C345.2,708.9 343.1,714.5 340.2,715.1C337.2,715.8 332.9,711.8 330.2,712.6C327.4,713.5 325.6,717.2 323.9,720.1C322.2,723.1 324.1,728.5 320.2,730.1C316.2,731.8 303.9,731.8 300.1,730.1C296.4,728.5 299.7,723.1 297.6,720.1C295.6,717.2 289.1,715.6 287.6,712.6C286.2,709.7 290.5,704.7 288.9,702.6C287.2,700.5 281.2,701.4 277.6,700.1C274.1,698.9 267.2,698.2 267.6,695.1Z" fill="#FC8D33"/>
<path d="M396.4,697.6C397.3,695.3 400.4,694.3 405.2,693.9C410,693.5 419.4,695.1 425.2,695.1C431.1,695.1 436.5,692.6 440.2,693.9C444,695.1 446.7,699.5 447.7,702.6C448.8,705.8 448.6,709.9 446.5,712.6C444.4,715.3 439.6,717.4 435.2,718.9C430.8,720.3 425.2,721.6 420.2,721.4C415.2,721.2 408.5,719.9 405.2,717.6C401.9,715.3 401.7,711 400.2,707.6C398.7,704.3 395.6,699.9 396.4,697.6Z" fill="#FC8D33"/>
<path d="M400.2,730.1C402.3,729.3 408.1,732.2 412.7,733.9C417.3,735.6 421.9,738.5 427.7,740.2C433.6,741.8 441.5,743.1 447.7,743.9C454,744.7 461.5,743.7 465.2,745.2C469,746.6 471.9,751 470.2,752.7C468.6,754.3 460.2,755.2 455.2,755.2C450.2,755.2 443.6,752.2 440.2,752.7C436.9,753.1 437.7,756.4 435.2,757.7C432.7,758.9 429,760.6 425.2,760.2C421.5,759.7 416.5,757.2 412.7,755.2C409,753.1 404.8,750.4 402.7,747.7C400.6,744.9 400.6,741.8 400.2,738.9C399.8,736 398.1,731 400.2,730.1Z" fill="#FC8D33"/>
<path d="M251.4,690.1C253,684.7 258.2,673.4 260.1,672.6C262,671.8 263,680.5 262.6,685.1C262.2,689.7 258,696.4 257.6,700.1C257.2,703.9 260.5,705.8 260.1,707.6C259.7,709.5 256.8,711.8 255.1,711.4C253.4,711 250.7,708.7 250.1,705.1C249.5,701.6 249.7,695.5 251.4,690.1Z" fill="#FC8D33"/>
<path d="M187.6,700.1C191.3,697.8 200.5,697.2 202.6,698.9C204.7,700.5 202.2,706.6 200.1,710.1C198,713.7 193.4,718.3 190.1,720.1C186.7,722 183.8,720.6 180.1,721.4C176.3,722.2 169.8,725.8 167.6,725.1C165.3,724.5 164.2,719.7 166.3,717.6C168.4,715.6 176.5,715.6 180.1,712.6C183.6,709.7 183.8,702.4 187.6,700.1Z" fill="#FC8D33"/>
<path d="M216.3,707.6C218,704.9 224.9,701.4 227.6,701.4C230.3,701.4 231.8,704.7 232.6,707.6C233.4,710.5 235.1,717.2 232.6,718.9C230.1,720.6 220.3,719.5 217.6,717.6C214.9,715.8 214.7,710.3 216.3,707.6Z" fill="#FC8D33"/>
<path d="M242.6,735L255.1,765L270.1,773.8L280.1,765L290.1,767.5L295.1,780L305.1,785L315.1,777.5L330.2,773.8L342.7,770L355.2,762.5L370.2,755L392.7,757.5L392.7,1005.2L240.1,1005.2L240.1,795L232.6,785L240.1,770Z" fill="#FC8D33"/>
<path d="M417.5,658.7C422.9,657.3 449.6,656.9 455,658.7C460.5,660.6 453,667.3 450,670C447.1,672.7 442.1,675.4 437.5,675C432.9,674.6 425.9,670.2 422.5,667.5C419.2,664.8 412.1,660.2 417.5,658.7Z" fill="#FC8D33"/>
<path d="M470.1,662.5C473.4,658.7 488,657.9 492.6,660C497.2,662.1 496.5,670.8 497.6,675C498.6,679.2 500.1,681.3 498.8,685C497.6,688.8 493.6,694.6 490.1,697.5C486.5,700.4 481.1,702.5 477.6,702.5C474,702.5 469.6,700.9 468.8,697.5C468,694.2 472.3,688.4 472.6,682.5C472.8,676.7 466.7,666.3 470.1,662.5Z" fill="#FC8D33"/>
<path d="M540.1,658.7C544.7,657.3 565.9,656.9 570.1,658.7C574.3,660.6 568,667.5 565.1,670C562.2,672.5 556.4,674.2 552.6,673.8C548.9,673.3 544.7,670 542.6,667.5C540.5,665 535.5,660.2 540.1,658.7Z" fill="#FC8D33"/>
<path d="M396.3,697.5C399.2,695.9 408.6,695.4 415,695C421.5,694.6 429.6,693.8 435,695C440.5,696.3 445.9,699.4 447.5,702.5C449.2,705.7 448,710.7 445,713.8C442.1,716.9 435.5,719.8 430,721.3C424.6,722.7 417.1,723.6 412.5,722.5C407.9,721.5 405,718 402.5,715C400,712.1 398.6,707.9 397.5,705C396.5,702.1 393.3,699.2 396.3,697.5Z" fill="#FC8D33"/>
<path d="M503.8,681.3C504.9,680.8 511.1,694.8 516.3,697.5C521.5,700.2 528.6,698.4 535.1,697.5C541.6,696.7 550.1,692.9 555.1,692.5C560.1,692.1 564.3,692.1 565.1,695C565.9,697.9 562.6,705 560.1,710C557.6,715 553.4,720.9 550.1,725C546.8,729.2 542.9,733 540.1,735C537.3,737.1 534.8,738.8 533.1,737.5C531.4,736.3 531,730.7 530.1,727.5C529.2,724.4 529.1,718.8 527.6,718.8C526.1,718.8 523.2,725.2 521.3,727.5C519.5,729.8 517.8,733.8 516.3,732.5C514.9,731.3 513.6,725.5 512.6,720C511.5,714.6 511.5,706.5 510.1,700C508.6,693.6 502.8,681.7 503.8,681.3Z" fill="#FC8D33"/>
<path d="M457.5,726.3C460.5,724 473,721.3 480.1,721.3C487.2,721.3 494,724.4 500.1,726.3C506.1,728.2 511.3,730.3 516.3,732.5C521.3,734.8 526.5,737.1 530.1,740.1C533.6,743 536.3,745.9 537.6,750.1C538.8,754.2 538.8,760.5 537.6,765.1C536.3,769.7 532.6,774.6 530.1,777.6C527.6,780.6 524.3,783.1 522.6,783.1C520.9,783.1 519.7,780.6 520.1,777.6C520.5,774.6 524,769.2 525.1,765.1C526.1,760.9 527.2,755.7 526.3,752.6C525.5,749.4 523.6,747.1 520.1,746.3C516.5,745.5 509.7,746.1 505.1,747.6C500.5,749 493.2,752.6 492.6,755.1C491.9,757.6 502.2,760.1 501.3,762.6C500.5,765.1 493.2,768.2 487.6,770.1C481.9,771.9 473.4,773.8 467.6,773.8C461.7,773.8 456.2,772.4 452.5,770.1C448.9,767.8 448.3,763.2 445.5,760.1C442.8,756.9 434.7,753.3 436.3,751.3C437.9,749.3 449.4,749.1 455,748.1C460.7,747 468.8,747.2 470.1,745.1C471.3,742.9 464.6,738.2 462.6,735C460.5,731.9 454.6,728.6 457.5,726.3Z" fill="#FC8D33"/>
<path d="M400,731.3C399.8,729.2 404.2,729.4 406.3,730C408.4,730.7 409,733 412.5,735C416.1,737.1 422.9,740.7 427.5,742.6C432.1,744.4 435.5,745.4 440,746.3C444.6,747.2 454.1,745.8 455,748.1C456,750.3 448.9,759.3 445.5,760.1C442.2,760.8 439.3,754.6 435,752.6C430.8,750.6 424.6,749.7 420,748.1C415.4,746.4 410.9,745.3 407.5,742.6C404.2,739.8 400.2,733.4 400,731.3Z" fill="#FC8D33"/>
<path d="M436.3,733.8C437.5,732.8 444.8,735 447.5,732.5C450.3,730 450.9,718.8 452.5,718.8C454.2,718.8 456.3,729.8 457.5,732.5C458.8,735.3 460.9,733.8 460.1,735C459.2,736.3 455.9,739.4 452.5,740.1C449.2,740.7 442.7,739.8 440,738.8C437.3,737.8 435,734.8 436.3,733.8Z" fill="#FC8D33"/>
<path d="M488.8,777.6C490.1,775.1 495.7,774.7 500.1,775.1C504.5,775.5 511.1,777.6 515.1,780.1C519,782.6 522.4,786.5 523.8,790.1C525.3,793.6 522.4,799 523.8,801.3C525.3,803.6 531.1,802 532.6,803.8C534.1,805.7 534.3,810.9 532.6,812.6C530.9,814.3 524.3,815.1 522.6,813.8C520.9,812.6 524.7,806.5 522.6,805.1C520.5,803.6 513.8,805.9 510.1,805.1C506.3,804.3 503,802.6 500.1,800.1C497.2,797.6 494.4,793.8 492.6,790.1C490.7,786.3 487.6,780.1 488.8,777.6Z" fill="#FC8D33"/>
<path d="M590.1,702.5C591.8,699.2 595.1,700.4 597.6,697.5C600.1,694.6 603.9,689.6 605.1,685C606.4,680.4 606,674.4 605.1,670C604.3,665.6 598.1,660.6 600.1,658.7C602.2,656.9 614.3,656 617.6,658.7C621,661.5 618.9,669.8 620.2,675C621.4,680.2 624.5,685.4 625.2,690C625.8,694.6 625.6,699.2 623.9,702.5C622.2,705.9 617,706.3 615.1,710C613.3,713.8 612.6,721.7 612.6,725C612.6,728.4 616,728.4 615.1,730C614.3,731.7 610.6,733 607.6,735C604.7,737.1 601,740.5 597.6,742.6C594.3,744.6 590.5,747.6 587.6,747.6C584.7,747.6 581.4,746.3 580.1,742.6C578.9,738.8 578.9,729.2 580.1,725C581.4,720.9 586,721.3 587.6,717.5C589.3,713.8 588.5,705.9 590.1,702.5Z" fill="#FC8D33"/>
<path d="M440,777.6C442.1,775.9 448.4,783 452.5,785.1C456.7,787.2 462.8,787.2 465.1,790.1C467.3,793 463.8,800.3 466.3,802.6C468.8,804.9 475.7,803.8 480.1,803.8C484.4,803.8 490.1,801.1 492.6,802.6C495.1,804 492.2,809.3 495.1,812.6C498,815.9 507,818.8 510.1,822.6C513.2,826.4 515.5,832.2 513.8,835.1C512.2,838 503.2,837.6 500.1,840.1C496.9,842.6 497.2,845.9 495.1,850.1C493,854.3 490.1,861.6 487.6,865.1C485.1,868.7 484.6,869.7 480.1,871.4C475.5,873 465.5,874.9 460.1,875.1C454.6,875.3 452.5,871.8 447.5,872.6C442.5,873.5 435.9,875.6 430,880.1C424.2,884.7 418.8,894.7 412.5,900.2C406.3,905.6 395.8,921.8 392.5,912.7C389.2,903.5 392.1,856.8 392.5,845.1C392.9,833.4 392.5,841.8 395,842.6C397.5,843.4 403.8,847.2 407.5,850.1C411.3,853 413.8,859.7 417.5,860.1C421.3,860.5 429.6,856 430,852.6C430.4,849.3 422.1,844.7 420,840.1C417.9,835.5 416.9,828.4 417.5,825.1C418.1,821.8 420,822.6 423.8,820.1C427.5,817.6 437.3,814.3 440,810.1C442.7,805.9 440,800.5 440,795.1C440,789.7 438,779.2 440,777.6Z" fill="#FC8D33"/>
<path d="M392.5,755.1C392.9,750.5 392.5,752.1 395,752.6C397.5,753 404.6,755.1 407.5,757.6C410.4,760.1 412.9,764.2 412.5,767.6C412.1,770.9 408.4,775.5 405,777.6C401.7,779.7 394.6,783.8 392.5,780.1C390.4,776.3 392.1,759.6 392.5,755.1Z" fill="#FC8D33"/>
<path d="M398.8,795.1L412,795.1L412,810.8L398.8,810.8Z" fill="#FC8D33"/>
<path d="M421.3,796.3C423.2,793.4 435.7,792.8 438.8,795.1C441.9,797.4 441.9,807.2 440,810.1C438.2,813 430.7,814.9 427.5,812.6C424.4,810.3 419.4,799.3 421.3,796.3Z" fill="#FC8D33"/>
<path d="M407.5,813.8L417.5,813.8L417.5,832.1L407.5,832.1Z" fill="#FC8D33"/>
<path d="M478.7,548C481,543 489.4,548 492.5,550.5C495.6,553 497.9,558.8 497.5,563C497.1,567.2 493.1,572.6 490,575.5C486.9,578.4 480.6,585.1 478.7,580.5C476.9,575.9 476.5,553 478.7,548Z" fill="#FC8D33"/>
<path d="M496.3,565.5C498.3,561.8 506.5,560.1 510,560.5C513.6,560.9 517.1,564.3 517.5,568C517.9,571.8 512.9,578.9 512.5,583C512.1,587.2 516.3,590.7 515,593C513.8,595.3 507.9,598.5 505,596.8C502.1,595.1 499,588.2 497.5,583C496.1,577.8 494.2,569.3 496.3,565.5Z" fill="#FC8D33"/>
<path d="M512.5,531.7C516.1,529 530.2,529 533.8,531.7C537.3,534.5 534.8,543.6 533.8,548C532.7,552.4 530.2,556.1 527.5,558C524.8,559.9 520,560.9 517.5,559.3C515,557.6 513.4,552.6 512.5,548C511.7,543.4 509,534.5 512.5,531.7Z" fill="#FC8D33"/>
<path d="M520,596.8C520.7,593.7 530.2,593.7 532.5,589.3C534.8,584.9 532.5,575.3 533.8,570.5C535,565.7 536.5,564.9 540,560.5C543.6,556.1 550.5,546.3 555,544.3C559.6,542.2 564.2,545.3 567.6,548C570.9,550.7 573.6,555.5 575.1,560.5C576.5,565.5 576.5,571.8 576.3,578C576.1,584.3 573.2,592.2 573.8,598C574.4,603.9 577.4,608.5 580.1,613.1C582.8,617.6 586.9,622.2 590.1,625.6C593.2,628.9 597.6,630.1 598.8,633.1C600.1,636 599.4,640.2 597.6,643.1C595.7,646 590.9,648.5 587.6,650.6C584.2,652.7 579.6,653.1 577.6,655.6C575.5,658.1 577.1,662.7 575.1,665.6C573,668.5 568.8,671.6 565.1,673.1C561.3,674.5 556.3,676 552.5,674.3C548.8,672.7 545.7,667.5 542.5,663.1C539.4,658.7 535.5,651.8 533.8,648.1C532.1,644.3 534.2,641.2 532.5,640.6C530.9,639.9 525.4,645.2 523.8,644.3C522.1,643.5 521.1,637.4 522.5,635.6C524,633.7 529.2,635.1 532.5,633.1C535.9,631 540.9,625.1 542.5,623.1C544.2,621 544.8,623.1 542.5,620.6C540.2,618.1 532.5,612 528.8,608C525,604.1 519.4,599.9 520,596.8Z" fill="#FC8D33"/>
<path d="M478.7,615.6C481.5,607.6 488.5,608 495,608C501.5,608 509.6,613.5 517.5,615.6C525.4,617.6 541.7,617.2 542.5,620.6C543.4,623.9 527.5,631.8 522.5,635.6C517.5,639.3 517.1,640.2 512.5,643.1C507.9,646 500.6,651 495,653.1C489.4,655.2 481.5,661.8 478.7,655.6C476,649.3 476,623.5 478.7,615.6Z" fill="#FC8D33"/>
<path d="M478.7,653.1C481,646.8 489.2,658.1 492.5,663.1C495.8,668.1 498.3,677.3 498.8,683.1C499.2,688.9 498.3,695.2 495,698.1C491.7,701 481.5,708.1 478.7,700.6C476,693.1 476.5,659.3 478.7,653.1Z" fill="#FC8D33"/>
<path d="M503.8,680.6C503.8,678.1 508.6,689.3 512.5,693.1C516.5,696.9 522.1,702.7 527.5,703.1C532.9,703.5 539.2,697.3 545,695.6C550.9,693.9 559.4,691.8 562.6,693.1C565.7,694.4 565.5,698.9 563.8,703.1C562.1,707.3 556.9,713.1 552.5,718.1C548.2,723.1 540.9,729.8 537.5,733.1C534.2,736.5 534,740.2 532.5,738.1C531.1,736 530.4,724.8 528.8,720.6C527.1,716.4 525.2,715.2 522.5,713.1C519.8,711 515.6,713.5 512.5,708.1C509.4,702.7 503.8,683.1 503.8,680.6Z" fill="#FC8D33"/>
<path d="M478.7,723.1C481.5,721 489.4,725.6 495,725.6C500.6,725.6 507.1,724.4 512.5,723.1C517.9,721.9 524,715.6 527.5,718.1C531.1,720.6 534.4,734.4 533.8,738.1C533.2,741.9 523.4,738.5 523.8,740.6C524.2,742.7 533.8,746.9 536.3,750.6C538.8,754.4 539.4,759.4 538.8,763.1C538.2,766.9 535,769.8 532.5,773.2C530,776.5 525.7,783.2 523.8,783.2C521.9,783.2 520.9,777.7 521.3,773.2C521.7,768.6 527.7,760.2 526.3,755.6C524.8,751.1 517.7,747.3 512.5,745.6C507.3,744 500.6,746.9 495,745.6C489.4,744.4 481.5,741.9 478.7,738.1C476,734.4 476,725.2 478.7,723.1Z" fill="#FC8D33"/>
<path d="M478.7,750.6C481,748.1 489,755.6 492.5,758.1C496.1,760.6 500.4,763.6 500,765.6C499.6,767.7 493.6,769.4 490,770.6C486.5,771.9 480.6,776.5 478.7,773.2C476.9,769.8 476.5,753.1 478.7,750.6Z" fill="#FC8D33"/>
<path d="M488.8,780.7C490,777.7 494,776.3 497.5,775.7C501.1,775 506.1,775.2 510,776.9C514,778.6 519,782.1 521.3,785.7C523.6,789.2 525.2,794.8 523.8,798.2C522.3,801.5 516.9,805 512.5,805.7C508.1,806.3 501.3,804 497.5,801.9C493.8,799.8 491.5,796.7 490,793.2C488.5,789.6 487.5,783.6 488.8,780.7Z" fill="#FC8D33"/>
<path d="M478.7,803.2C481,800.7 489.8,799.6 492.5,801.9C495.2,804.2 497.3,814.4 495,816.9C492.7,819.4 481.5,819.2 478.7,816.9C476,814.6 476.5,805.7 478.7,803.2Z" fill="#FC8D33"/>
<path d="M230.1,717.5L245.1,717.5L245.1,797.5L231.3,795L233.1,776.3L226.3,775L225.6,760L233.1,757.5Z" fill="#FC8D33"/>
<path d="M113.8,717.5L119.4,718.7L119.4,728.1L130,728.8L145,726.9L148.8,733.1L165.1,735L166.3,727.5L177.6,726.3L193.8,725L197.6,715L200.1,703.7L206.3,700L213.2,702.5L213.8,717.5L230.1,718.7L232,730L231.3,740L232.6,757.5L225.7,760L226.3,775L232,776.3L232.6,792.5L240.1,795L242.6,820.1L230.1,825.1L212.6,830.1L210.1,835.1L205.1,835.1L202.6,815.1L185.1,815.1L182.6,825.1L167.6,806.3L127.5,800.1L95,792.5L102.5,760L110,730Z" fill="#FBF960"/>
<path d="M119.4,718.7L128.8,718.7L128.8,728L119.4,728.1Z" fill="#FC8D33"/>
<path d="M100,777.5C102.9,775.7 114.6,774.8 117.5,776.3C120.4,777.7 120.4,784.4 117.5,786.3C114.6,788.2 102.9,789 100,787.5C97.1,786.1 97.1,779.4 100,777.5Z" fill="#FC8D33"/>
<path d="M126.3,787.5C128.4,785 134,784.6 140,785C146.1,785.5 158.2,786.5 162.6,790C166.9,793.6 166.3,803.2 166.3,806.3C166.3,809.4 169,809.8 162.6,808.8C156.1,807.8 133.6,803.6 127.5,800.1C121.5,796.5 124.2,790 126.3,787.5Z" fill="#FC8D33"/>
<path d="M170.1,795C174.9,793.2 193,792.5 197.6,793.8C202.2,795 195.1,800.5 197.6,802.6C200.1,804.6 210.3,804.4 212.6,806.3C214.9,808.2 216.1,812.8 211.3,813.8C206.5,814.9 189,814.2 183.8,812.6C178.6,810.9 182.6,805.1 180.1,803.8C177.6,802.6 170.5,806.5 168.8,805.1C167.1,803.6 165.3,796.9 170.1,795Z" fill="#FC8D33"/>
<path d="M175.1,767.5C176.5,765.9 183.6,764.8 185.1,766.3C186.5,767.7 185.3,774.6 183.8,776.3C182.4,778 177.8,777.7 176.3,776.3C174.9,774.8 173.6,769.2 175.1,767.5Z" fill="#FC8D33"/>
<path d="M220.1,735C223.4,730.8 237.2,731.3 240.1,735C243,738.8 239.3,753.8 237.6,757.5C235.9,761.3 232.2,755.4 230.1,757.5C228,759.6 225.1,765.4 225.1,770C225.1,774.6 230.5,783 230.1,785C229.7,787.1 224.3,786.7 222.6,782.5C220.9,778.4 220.5,767.9 220.1,760C219.7,752.1 216.8,739.2 220.1,735Z" fill="#FC8D33"/>
<path d="M147.5,726.3C150,725 162.3,725.6 165.1,727.5C167.8,729.4 166.3,736.3 163.8,737.5C161.3,738.8 152.8,736.9 150,735C147.3,733.1 145,727.5 147.5,726.3Z" fill="#FC8D33"/>
<path d="M210.1,820.1C211.3,817.6 214.7,815.1 220.1,815.1C225.5,815.1 238.6,815.9 242.6,820.1C246.6,824.2 247.2,838 243.9,840.1C240.5,842.2 227.8,834.2 222.6,832.6C217.4,830.9 214.7,832.2 212.6,830.1C210.5,828 208.8,822.6 210.1,820.1Z" fill="#FC8D33"/>
<path d="M127.5,430.1C127.9,428.3 130.6,425.7 132.5,426.3C134.4,427 139.2,432.1 138.8,433.9C138.4,435.6 131.9,437.7 130,437.1C128.1,436.5 127.1,431.9 127.5,430.1Z" fill="#9EC29B"/>
<path d="M461.5,305C463.9,305.6 468.4,316.5 468.2,320C468,323.6 462.6,326.9 460.2,326.3C457.8,325.7 453.8,319.8 454,316.3C454.2,312.7 459.1,304.4 461.5,305Z" fill="#9EC29B"/>
<path d="M425.2,323.8C427.3,324 431.5,331.3 430.2,332.5C429,333.8 418.5,332.7 417.7,331.3C416.9,329.8 423.1,323.6 425.2,323.8Z" fill="#9EC29B"/>
<path d="M185.1,321.5C189,320 209.7,318.8 213.8,320C218,321.3 214,327.5 210.1,329C206.1,330.5 194.2,330.3 190.1,329C185.9,327.8 181.1,323 185.1,321.5Z" fill="#9EC29B"/>
<path d="M198.8,341.3C201.1,341.1 204.9,351.5 205.1,355.1C205.3,358.6 202.4,362.3 200.1,362.6C197.8,362.8 191.5,359.8 191.3,356.3C191.1,352.8 196.5,341.5 198.8,341.3Z" fill="#9EC29B"/>
<path d="M220.1,346.3C221.7,345.7 230.7,346.3 232.6,347.5C234.5,348.8 233,353.2 231.3,353.8C229.7,354.4 224.5,352.6 222.6,351.3C220.7,350.1 218.4,346.9 220.1,346.3Z" fill="#9EC29B"/>
<path d="M232.6,318.8L250.1,318.8L250.1,335L241.3,333.8L241.3,345L232.6,343.8L232.6,334.5L240.6,334.5L240.6,327L232.6,327Z" fill="#9EC29B"/>
<path d="M233.8,355.1C235.1,353.6 242.4,354.6 242.6,356.3C242.8,358 236.5,365.3 235.1,365.1C233.6,364.9 232.6,356.5 233.8,355.1Z" fill="#9EC29B"/>
<path d="M300.1,410.1C301,406.7 308.9,403.2 312.6,402.6C316.4,402 320.8,403.8 322.6,406.3C324.5,408.8 324.7,415.3 323.9,417.6C323.1,419.9 320.3,419.2 317.6,420.1C314.9,421 310.5,424.8 307.6,423.1C304.7,421.4 299.3,413.5 300.1,410.1Z" fill="#9EC29B"/>
<path d="M397.7,388.8C401,389.2 411.4,405.9 410.2,408.8C408.9,411.8 392.3,409.7 390.2,406.3C388.1,403 394.4,388.4 397.7,388.8Z" fill="#9EC29B"/>
<path d="M317.6,374.6L335.1,373.8L335.1,382.6L320.1,383.1Z" fill="#9EC29B"/>
<path d="M286.4,323.8L297.6,325.5L297.6,333.8L287.6,333.8Z" fill="#9EC29B"/>
<path d="M292.6,483.9C292.4,480.1 309.1,470.8 312.6,472.6C316.2,474.5 317.2,493.3 313.9,495.1C310.5,497 292.8,487.6 292.6,483.9Z" fill="#9EC29B"/>
<path d="M557.5,450.1C560.5,447 578.6,448.9 582.6,451.4C586.5,453.9 582.8,460.5 581.3,465.1C579.9,469.7 576.5,478.1 573.8,478.9C571.1,479.7 567.8,474.9 565.1,470.1C562.3,465.3 554.6,453.3 557.5,450.1Z" fill="#9EC29B"/>
<path d="M543.8,470.1C545.5,468.9 551.1,479.1 555,481.4C559,483.7 563.8,480.8 567.6,483.9C571.3,487 575.4,494.9 577.6,500.2C579.7,505.4 582.6,513.3 580.6,515.2C578.5,517 569.7,511.3 565.1,511.4C560.4,511.5 554.6,518.6 552.5,515.7C550.5,512.7 553.9,498.4 552.5,493.9C551.2,489.4 546,492.9 544.5,488.9C543.1,484.9 542,471.4 543.8,470.1Z" fill="#9EC29B"/>
<path d="M505,370.1L513.8,370.1L513.8,382.6L510,386.3L510,410.1L503.8,410.1L505,390.1Z" fill="#9EC29B"/>
<path d="M568.8,363.1L578.8,363.1L578.8,372.6L568.8,372.6Z" fill="#9EC29B"/>
<path d="M567.6,382.6C569.2,381.3 578.1,379.9 580.1,381.3C582.1,382.8 581.2,390.1 579.6,391.3C577.9,392.6 572.1,390.3 570.1,388.8C568.1,387.4 565.9,383.8 567.6,382.6Z" fill="#9EC29B"/>
<path d="M596.3,358.8C594.9,357.2 604.2,350.9 607.6,351.3C610.9,351.7 618.2,360.1 616.3,361.3C614.5,362.6 597.8,360.5 596.3,358.8Z" fill="#9EC29B"/>
<path d="M600.1,327.5C601.3,326.3 609.7,327.3 610.1,328.8C610.5,330.3 604.2,336.5 602.6,336.3C600.9,336.1 598.8,328.8 600.1,327.5Z" fill="#9EC29B"/>
<path d="M626.3,326.3L636.3,326.3L636.3,335.1L626.3,335.1Z" fill="#9EC29B"/>
<path d="M626.3,382.6L635.1,382.6L635.1,391.3L626.3,391.3Z" fill="#9EC29B"/>
<path d="M854.5,205.1C856.1,204.2 863.8,207.4 863.8,208.8C863.8,210.3 856.1,214.4 854.5,213.8C853,213.2 853,205.9 854.5,205.1Z" fill="#9EC29B"/>
<path d="M933.8,335.1C934.1,331.8 939.3,322.4 941.4,323.9C943.4,325.3 946.6,340.6 946.4,343.9C946.1,347.2 942.2,345.4 940.1,343.9C938,342.4 933.6,338.5 933.8,335.1Z" fill="#9EC29B"/>
<path d="M93.8,787.5L127.5,788.8L126.3,800.1L93.8,793Z" fill="#9EC29B"/>
<path d="M212.6,821.3L230.1,821.3L230.1,832.6L212.6,832.6Z" fill="#9EC29B"/>
<path d="M196.3,795L203.8,795L203.8,802.6L196.3,802.6Z" fill="#9EC29B"/>
<path d="M252.6,740C255.5,737.1 265.5,737.5 270.1,735C274.7,732.5 276,726.3 280.1,725C284.3,723.8 287.6,728.5 295.1,727.5C302.6,726.5 315.1,720.2 325.2,718.7C335.2,717.3 347.7,716 355.2,718.7C362.7,721.5 364.8,732.3 370.2,735C375.6,737.7 383.1,733.3 387.7,735C392.3,736.7 396.9,741.3 397.7,745C398.5,748.8 397.3,755.9 392.7,757.5C388.1,759.2 376.4,754.2 370.2,755C363.9,755.9 359.8,760 355.2,762.5C350.6,765 346.8,768.2 342.7,770C338.5,771.9 334.7,772.5 330.2,773.8C325.6,775 319.3,775.7 315.1,777.5C311,779.4 308.5,784.6 305.1,785C301.8,785.5 297.6,783 295.1,780C292.6,777.1 292.6,770 290.1,767.5C287.6,765 283.5,764 280.1,765C276.8,766.1 274.3,773.8 270.1,773.8C265.9,773.8 258,768.6 255.1,765C252.2,761.5 253,756.7 252.6,752.5C252.2,748.4 249.7,742.9 252.6,740Z" fill="#9EC29B"/>
<path d="M260.1,802.6C261.8,798.4 263.9,800.1 270.1,800.1C276.4,800.1 289.7,803.4 297.6,802.6C305.6,801.7 313.9,794.2 317.6,795C321.4,795.9 322.2,804.2 320.2,807.6C318.1,810.9 308.9,812.1 305.1,815.1C301.4,818 300.6,822.6 297.6,825.1C294.7,827.6 292.2,829.2 287.6,830.1C283,830.9 274.7,830.9 270.1,830.1C265.5,829.2 261.8,829.7 260.1,825.1C258.4,820.5 258.4,806.7 260.1,802.6Z" fill="#9EC29B"/>
<path d="M355.2,815.1C356.4,810.1 361.8,810.9 365.2,807.6C368.5,804.2 371,797.5 375.2,795C379.4,792.5 386.4,791.3 390.2,792.5C393.9,793.8 395.2,799.6 397.7,802.6C400.2,805.5 401.5,808 405.2,810.1C409,812.1 418.1,810.5 420.2,815.1C422.3,819.6 416.9,831.3 417.7,837.6C418.5,843.8 426,848.8 425.2,852.6C424.4,856.3 416.9,860.5 412.7,860.1C408.5,859.7 404.8,852.6 400.2,850.1C395.6,847.6 390.2,846.7 385.2,845.1C380.2,843.4 374.8,841.3 370.2,840.1C365.6,838.8 360.2,841.7 357.7,837.6C355.2,833.4 353.9,820.1 355.2,815.1Z" fill="#9EC29B"/>
<path d="M306.4,855.1C308.1,850.5 313.7,843.8 317.6,842.6C321.6,841.3 327.9,844.7 330.2,847.6C332.4,850.5 333.1,856.3 331.4,860.1C329.7,863.8 324.1,868.4 320.2,870.1C316.2,871.8 309.9,872.6 307.6,870.1C305.3,867.6 304.7,859.7 306.4,855.1Z" fill="#9EC29B"/>
<path d="M330.2,867.6C332.7,864.7 346,863.8 350.2,865.1C354.3,866.3 356,871.8 355.2,875.1C354.3,878.4 348.5,883.9 345.2,885.1C341.8,886.4 337.7,885.5 335.2,882.6C332.7,879.7 327.7,870.5 330.2,867.6Z" fill="#9EC29B"/>
<path d="M362.7,861.3L372.7,861.3L372.7,880.1L362.7,880.1Z" fill="#9EC29B"/>
<path d="M380.2,860.1L392.7,860.1L392.7,870.1L380.2,870.1Z" fill="#9EC29B"/>
<path d="M377.7,872.6C378.9,870.5 389.8,869.7 395.2,870.1C400.6,870.5 404.4,875.5 410.2,875.1C416,874.7 427.1,864.7 430.2,867.6C433.3,870.5 431.5,888 429,892.6C426.5,897.2 420,895.5 415.2,895.1C410.4,894.7 404.8,892.2 400.2,890.1C395.6,888 391.4,885.5 387.7,882.6C383.9,879.7 376.4,874.7 377.7,872.6Z" fill="#9EC29B"/>
<path d="M280.1,902.6C282.2,897.2 290.1,893 292.6,895.1C295.1,897.2 294.5,909.7 295.1,915.1C295.8,920.5 298.9,925.5 296.4,927.6C293.9,929.7 282.8,931.8 280.1,927.6C277.4,923.5 278,908 280.1,902.6Z" fill="#9EC29B"/>
<path d="M300.1,935.1L315.1,935.1L315.1,952.6L300.1,952.6Z" fill="#9EC29B"/>
<path d="M342.7,892.6L355.2,892.6L355.2,907.6L342.7,907.6Z" fill="#9EC29B"/>
<path d="M327.7,925.1C326.4,922.6 332.7,910.1 335.2,910.1C337.7,910.1 343.9,922.6 342.7,925.1C341.4,927.6 328.9,927.6 327.7,925.1Z" fill="#9EC29B"/>
<path d="M336.4,935.1L345.2,935.1L345.2,945.1L336.4,945.1Z" fill="#9EC29B"/>
<path d="M345.2,927.6L352.7,927.6L352.7,936.4L345.2,936.4Z" fill="#9EC29B"/>
<path d="M381.4,907.6L390.2,907.6L390.2,917.6L381.4,917.6Z" fill="#9EC29B"/>
<path d="M362.7,767.5L372.7,767.5L372.7,785L362.7,785Z" fill="#9EC29B"/>
<path d="M372.7,786.3L382.7,786.3L382.7,795L372.7,795Z" fill="#9EC29B"/>
<path d="M460.1,815.1C461.1,812.6 468.4,814.7 468.8,817.6C469.2,820.5 464,833 462.6,832.6C461.1,832.2 459,817.6 460.1,815.1Z" fill="#9EC29B"/>
<path d="M463.8,847.6C464.2,845.3 474,838.2 477.6,838.9C481.1,839.5 485.5,849.1 485.1,851.4C484.6,853.7 478.6,853.2 475.1,852.6C471.5,852 463.4,849.9 463.8,847.6Z" fill="#9EC29B"/>
<path d="M410,867.6L428.8,867.6L428.8,892.6L410,900.2Z" fill="#9EC29B"/>
<path d="M616.3,605.5C618.4,599.7 624.5,595.3 627.6,590.5C630.7,585.7 632.2,577.2 635.1,576.8C638,576.4 642.2,584.5 645.1,588C648,591.6 651.8,593.5 652.6,598C653.4,602.6 648.2,611.2 650.1,615.6C652,619.9 663,622.4 663.9,624.3C664.7,626.2 659.9,626.6 655.1,626.8C650.3,627 641.8,625.8 635.1,625.6C628.4,625.3 618.2,628.9 615.1,625.6C612,622.2 614.3,611.4 616.3,605.5Z" fill="#9EC29B"/>
<path d="M320,503.5C321.8,500.9 328.7,503.3 331,502.5C333.3,501.7 331.8,499.6 334,498.5C336.2,497.4 340.8,495 344,496C347.2,497 349.9,503 353,504.5C356.1,506 360.8,503.9 362.5,505C364.2,506.1 363.2,509.2 363,511C362.8,512.8 362.3,514.5 361,516C359.7,517.5 357.3,518.8 355,520C352.7,521.2 349.5,523 347,523.5C344.5,524 342.8,523.5 340,523C337.2,522.5 333.3,521.4 330,520.5C326.7,519.6 321.7,520.6 320,517.8C318.3,515 318.2,506.1 320,503.5Z" fill="#9EC29B"/>
<path d="M316.4,419.6L326.4,419.6L326.4,428.8L316.4,428.8Z" fill="#FC8D33"/>
<path d="M352.7,307.5L362.7,307.5L362.7,316.3L352.7,316.3Z" fill="#FC8D33"/>
<path d="M346.4,316.3L353.9,316.3L353.9,325.5L346.4,325.5Z" fill="#FC8D33"/>
<path d="M395.2,298.8L402.7,298.8L402.7,315.5L395.2,315.5Z" fill="#FC8D33"/>
<path d="M402.7,307.5L411.4,307.5L411.4,316.3L402.7,316.3Z" fill="#FC8D33"/>
<path d="M372.7,307.5L383.9,307.5L383.9,335L391.4,335L391.4,345L382.7,345L382.7,335.5L372.7,335.5Z" fill="#FC8D33"/>
<path d="M355.2,352.6L363.9,352.6L363.9,362.1L355.2,362.1Z" fill="#FC8D33"/>
<path d="M363.9,362.1L373.9,362.1L373.9,372.1L363.9,372.1Z" fill="#FC8D33"/>
<path d="M446.5,361.3C445.6,359.6 450.8,352.3 452.7,352.6C454.6,352.8 458.8,361.1 457.7,362.6C456.7,364 447.3,363 446.5,361.3Z" fill="#FC8D33"/>
<path d="M291.4,437.6C292.8,437 299.1,441.1 298.9,442.6C298.7,444.1 291.4,447.2 290.1,446.4C288.9,445.5 289.9,438.2 291.4,437.6Z" fill="#2A90CA"/>
<path d="M313.9,446.4C315.3,446.8 316.4,454.1 315.1,455.1C313.9,456.2 306.6,454.1 306.4,452.6C306.2,451.2 312.4,445.9 313.9,446.4Z" fill="#2A90CA"/>
<path d="M343.9,466.4L353.9,466.4L353.9,483.9L346.4,483.9Z" fill="#2A90CA"/>
<path d="M335.1,478.9C335,477.4 342.3,475.3 343.9,476.4C345.5,477.4 346.1,484.7 344.7,485.1C343.2,485.6 335.3,480.3 335.1,478.9Z" fill="#FC8D33"/>
<path d="M345.2,485.1L353.9,485.1L353.9,495.1L345.2,495.1Z" fill="#FC8D33"/>
<path d="M353.9,493.9L363.9,493.9L363.9,503.9L353.9,503.9Z" fill="#FC8D33"/>
<path d="M250.1,512.7L260.1,512.7L260.1,522.7L250.1,522.7Z" fill="#9EC29B"/>
<path d="M267.6,545.2C267,543.5 273.2,539.3 275.1,540.2C277,541 280.1,549.3 278.9,550.2C277.6,551 268.2,546.8 267.6,545.2Z" fill="#2A90CA"/>
<path d="M286.4,547.7C285.7,546 292,539.8 293.9,540.2C295.7,540.6 298.9,548.9 297.6,550.2C296.4,551.4 287,549.3 286.4,547.7Z" fill="#FC8D33"/>
<path d="M341.4,545.2L362.7,543.9L361.4,553.9L343.9,553.9Z" fill="#2A90CA"/>
<path d="M447.7,400.1L457.7,400.1L457.7,410.1L447.7,410.1Z" fill="#2A90CA"/>
<path d="M435.2,420.1C434,416.8 444.4,410.5 447.7,412.6C451.1,414.7 457.3,431.4 455.2,432.6C453.1,433.9 436.5,423.4 435.2,420.1Z" fill="#2A90CA"/>
<path d="M439,445.1C437.9,443.7 442.1,436.4 444,436.4C445.8,436.4 451.1,443.7 450.2,445.1C449.4,446.6 440,446.6 439,445.1Z" fill="#2A90CA"/>
<path d="M456.5,467.6L466.5,467.6L466.5,483.9L456.5,483.9Z" fill="#2A90CA"/>
<path d="M445.2,490.1C445.4,488.9 454.8,485.8 456.5,486.4C458.1,487 457.1,493.3 455.2,493.9C453.3,494.5 445,491.4 445.2,490.1Z" fill="#2A90CA"/>
<path d="M457.7,495.1L466.5,495.1L466.5,510.2L485.2,511.4L485.2,520.2L457.7,520.2Z" fill="#2A90CA"/>
<path d="M436.5,510.2C435.8,508.1 442.1,500.8 444,501.4C445.8,502 449,512.4 447.7,513.9C446.5,515.4 437.1,512.2 436.5,510.2Z" fill="#2A90CA"/>
<path d="M446.5,540.2C445.6,538.3 450.8,531 452.7,531.4C454.6,531.8 458.8,541.2 457.7,542.7C456.7,544.1 447.3,542 446.5,540.2Z" fill="#2A90CA"/>
<path d="M485.2,522.7L495.2,522.7L495.2,532.7L485.2,532.7Z" fill="#2A90CA"/>
<path d="M538.8,332.6C539.6,329.3 548.6,321.2 552.5,323C556.5,324.9 563.4,340.6 562.6,343.8C561.7,347.1 551.5,344.4 547.5,342.6C543.6,340.7 538,335.8 538.8,332.6Z" fill="#2A90CA"/>
<path d="M502.5,350.1C502.1,348.2 509.4,341.9 511.3,342.6C513.1,343.2 515.2,352.6 513.8,353.8C512.3,355.1 502.9,351.9 502.5,350.1Z" fill="#2A90CA"/>
<path d="M548.8,311.3C549.4,309.6 557.8,306.5 558.8,307.5C559.8,308.6 556.7,316.9 555,317.5C553.4,318.2 548.2,313 548.8,311.3Z" fill="#2A90CA"/>
<path d="M532.5,300C534.2,299.4 543.6,301.5 543.8,302.5C544,303.6 535.7,306.7 533.8,306.3C531.9,305.9 530.9,300.7 532.5,300Z" fill="#2A90CA"/>
<path d="M513.8,291.3L531.3,290L531.3,296.3L513.8,297.5Z" fill="#2A90CA"/>
<path d="M735.2,350.1C737.2,346.7 751.4,342.1 755.2,345.1C758.9,348 757.7,361.7 757.7,367.6C757.7,373.4 753.9,375.1 755.2,380.1C756.4,385.1 763.9,393.6 765.2,397.6C766.4,401.6 765.2,403.4 762.7,403.8C760.2,404.3 753.9,402.2 750.2,400.1C746.4,398 740.4,394.7 740.2,391.3C740,388 748.5,384.5 748.9,380.1C749.3,375.7 745,370.1 742.7,365.1C740.4,360.1 733.1,353.4 735.2,350.1Z" fill="#2A90CA"/>
<path d="M728.9,311.3C728.5,309.4 735.8,304.2 737.7,305C739.5,305.9 741.6,315.2 740.2,316.3C738.7,317.3 729.3,313.2 728.9,311.3Z" fill="#2A90CA"/>
<path d="M730.2,332.6C729.1,331.1 733.3,324.8 735.2,325C737,325.3 742.2,332.6 741.4,333.8C740.6,335.1 731.2,334 730.2,332.6Z" fill="#2A90CA"/>
<path d="M702.6,308.8C703.7,307.3 712,308.4 712.6,310C713.3,311.7 708.1,319 706.4,318.8C704.7,318.6 701.6,310.2 702.6,308.8Z" fill="#2A90CA"/>
<path d="M727.7,388.8C727.4,387.2 734.7,379.9 736.4,380.1C738.1,380.3 739.1,388.6 737.7,390.1C736.2,391.5 727.9,390.5 727.7,388.8Z" fill="#2A90CA"/>
<path d="M756.4,417.6C756,415.5 763.3,407.2 765.2,407.6C767.1,408 769.1,418.4 767.7,420.1C766.2,421.8 756.8,419.7 756.4,417.6Z" fill="#2A90CA"/>
<path d="M787.7,385.1C788.9,381.3 795.6,376.7 800.2,375.1C804.8,373.4 810.2,371.7 815.2,375.1C820.2,378.4 826.9,389.3 830.2,395.1C833.6,400.9 831.5,405.1 835.2,410.1C839,415.1 847.1,423 852.7,425.1C858.4,427.2 866,418.9 869,422.6C872,426.4 871.8,443.5 870.7,447.6C869.7,451.8 865.3,450.5 862.7,447.6C860.2,444.7 859,433.9 855.2,430.1C851.5,426.4 845.2,426.4 840.2,425.1C835.2,423.9 829.4,425.1 825.2,422.6C821,420.1 819,413.9 815.2,410.1C811.5,406.3 806.5,402.2 802.7,400.1C798.9,398 795.2,400.1 792.7,397.6C790.2,395.1 786.4,388.8 787.7,385.1Z" fill="#2A90CA"/>
<path d="M820.2,447.6C821.3,442.6 825.6,435.1 829,435.1C832.3,435.1 837.9,443.9 840.2,447.6C842.5,451.4 843.8,453.3 842.7,457.6C841.7,462 837.3,472.6 834,473.9C830.6,475.1 825,469.5 822.7,465.1C820.4,460.8 819.2,452.6 820.2,447.6Z" fill="#2A90CA"/>
<path d="M786.4,317.5L805.2,317L800.2,321.3L805.2,325L786.4,324.5L791.4,321Z" fill="#2A90CA"/>
<path d="M786.4,297.5C788.1,297.5 797.5,304.8 797.7,306.3C797.9,307.7 789.6,307.7 787.7,306.3C785.8,304.8 784.8,297.5 786.4,297.5Z" fill="#2A90CA"/>
<path d="M835.2,301.3C835.2,300 841.5,297.9 842.7,298.8C844,299.6 844,305.9 842.7,306.3C841.5,306.7 835.2,302.5 835.2,301.3Z" fill="#2A90CA"/>
<path d="M859,377.6C859.6,375.5 870.2,370.5 874,370.1C877.7,369.7 880.3,373 881.5,375.1C882.8,377.2 883.4,381.3 881.5,382.6C879.6,383.8 874,383.4 870.2,382.6C866.5,381.7 858.4,379.7 859,377.6Z" fill="#2A90CA"/>
<path d="M690.1,490.2C689.7,488.5 697,483.3 698.9,483.9C700.8,484.5 702.8,492.9 701.4,493.9C699.9,494.9 690.5,491.8 690.1,490.2Z" fill="#2A90CA"/>
<path d="M702.6,496.4C704.1,495.8 712.4,497.9 712.6,498.9C712.9,499.9 705.6,503.1 703.9,502.7C702.2,502.2 701.2,497 702.6,496.4Z" fill="#2A90CA"/>
<path d="M721.4,495.2L728.9,495.2L730.2,512.7L721.4,512.7Z" fill="#2A90CA"/>
<path d="M722.7,460.1L738.9,450.1L740.2,475.1L730.2,476.4L726.4,465.1Z" fill="#2A90CA"/>
<path d="M834,476.4C835.2,475.1 843.6,477.2 844,478.9C844.4,480.6 838.1,486.8 836.5,486.4C834.8,486 832.7,477.6 834,476.4Z" fill="#2A90CA"/>
<path d="M831.5,516.4C831.9,515 840.2,513.9 841.5,515.2C842.7,516.4 840.6,523.7 839,523.9C837.3,524.1 831.1,517.9 831.5,516.4Z" fill="#2A90CA"/>
<path d="M682.6,345.1L692.6,345.1L692.6,353.8L682.6,353.8Z" fill="#2A90CA"/>
<path d="M626.3,382.6L635.1,382.6L635.1,391.3L626.3,391.3Z" fill="#2A90CA"/>
<path d="M600.1,411.4L616.3,411.4L616.3,418.9L600.1,418.9Z" fill="#2A90CA"/>
<path d="M627.6,420.1C628.2,418.4 634.5,418.4 635.1,420.1C635.7,421.8 632.6,430.1 631.3,430.1C630.1,430.1 627,421.8 627.6,420.1Z" fill="#2A90CA"/>
<path d="M515,411.4C516.3,409.9 524.6,410.9 525,412.6C525.4,414.3 519.2,421.6 517.5,421.4C515.9,421.1 513.8,412.8 515,411.4Z" fill="#2A90CA"/>
<path d="M480,520.2L493.8,520.2L493.8,533.9L480,533.9Z" fill="#2A90CA"/>
<path d="M587.6,400.1L598.8,400.1L598.8,410.1L587.6,410.1Z" fill="#FC8D33"/>
<path d="M587.6,420.1L598.8,420.1L598.8,428.9L587.6,428.9Z" fill="#FC8D33"/>
<path d="M662.6,336.3C663.8,333.6 666.8,334 670.1,333.8C673.5,333.6 680.5,331.7 682.6,335.1C684.7,338.4 684.7,350.5 682.6,353.8C680.5,357.2 673.4,355.7 670.1,355.1C666.9,354.4 664.4,353.2 663.1,350.1C661.9,346.9 661.4,339 662.6,336.3Z" fill="#FC8D33"/>
<path d="M685.1,330.1C685.3,327.5 691.2,320.9 693.9,321.3C696.6,321.7 699.9,328.8 701.4,332.6C702.8,336.3 704.1,341.9 702.6,343.8C701.2,345.7 694.3,345.1 692.6,343.8C691,342.6 693.9,338.6 692.6,336.3C691.4,334 684.9,332.6 685.1,330.1Z" fill="#FC8D33"/>
<path d="M701.4,343.8L711.4,343.8L711.4,353.8L701.4,353.8Z" fill="#FC8D33"/>
<path d="M717.6,336.3C719.5,333.2 727.7,333.6 730.2,335.1C732.7,336.5 732.7,341.9 732.7,345.1C732.7,348.2 732.4,352.4 730.2,353.8C727.9,355.3 721,356.7 718.9,353.8C716.8,350.9 715.8,339.4 717.6,336.3Z" fill="#FC8D33"/>
<path d="M720.2,400.1L730.2,400.1L730.2,410.1L720.2,410.1Z" fill="#FC8D33"/>
<path d="M747.7,325L757.7,322.5L772.7,325L773.9,306.3L786.4,307.5L786.4,335.1L777.7,336.3L775.2,350.1L762.7,350.1L757.7,343.8L747.7,342.6Z" fill="#FC8D33"/>
<path d="M747.7,305C747,303.4 752.3,296.1 753.9,296.3C755.6,296.5 758.7,304.8 757.7,306.3C756.6,307.7 748.3,306.7 747.7,305Z" fill="#FC8D33"/>
<path d="M766.4,300C766.8,298.8 776.2,297.7 777.7,298.8C779.1,299.8 777.1,306.1 775.2,306.3C773.3,306.5 766,301.3 766.4,300Z" fill="#FC8D33"/>
<path d="M757.7,363.8C759.3,363 768.7,366.1 768.9,367.6C769.1,369 760.8,373.2 758.9,372.6C757,372 756,364.7 757.7,363.8Z" fill="#FC8D33"/>
<path d="M665.1,410.1C667.2,408.8 683.9,412 685.1,413.9C686.4,415.7 676,422 672.6,421.4C669.3,420.7 663,411.4 665.1,410.1Z" fill="#FC8D33"/>
<path d="M630.1,442.6C634.5,438 645.1,430.5 650.1,430.1C655.1,429.7 657,435.5 660.1,440.1C663.2,444.7 667.6,452.6 668.9,457.6C670.1,462.6 669.9,468.5 667.6,470.1C665.3,471.8 659.7,467.2 655.1,467.6C650.5,468.1 644.7,469.9 640.1,472.6C635.5,475.3 630.5,483.5 627.6,483.9C624.7,484.3 623.2,479.5 622.6,475.1C622,470.8 622.6,463 623.8,457.6C625.1,452.2 625.7,447.2 630.1,442.6Z" fill="#FC8D33"/>
<path d="M730.2,410.1C732.2,409.7 740.6,418.4 745.2,422.6C749.8,426.8 754.8,430.9 757.7,435.1C760.6,439.3 763.1,444.3 762.7,447.6C762.3,451 758.5,453.5 755.2,455.1C751.8,456.8 745.6,459.3 742.7,457.6C739.7,456 739.3,450.5 737.7,445.1C736,439.7 733.9,430.9 732.7,425.1C731.4,419.3 728.1,410.5 730.2,410.1Z" fill="#FC8D33"/>
<path d="M748.9,462.6C751.8,461 760,463 765.2,465.1C770.4,467.2 775.6,470.1 780.2,475.1C784.8,480.1 790,489.3 792.7,495.2C795.4,501 797.7,506.8 796.4,510.2C795.2,513.5 790.4,515.2 785.2,515.2C780,515.2 770.6,513.5 765.2,510.2C759.8,506.8 755.6,501 752.7,495.2C749.8,489.3 748.3,480.6 747.7,475.1C747,469.7 746,464.3 748.9,462.6Z" fill="#FC8D33"/>
<path d="M787.7,445.1C787.3,440.1 794.8,428.4 797.7,427.6C800.6,426.8 803.5,435.1 805.2,440.1C806.9,445.1 808.5,454.7 807.7,457.6C806.9,460.5 803.5,459.7 800.2,457.6C796.9,455.5 788.1,450.1 787.7,445.1Z" fill="#FC8D33"/>
<path d="M798.9,470.1C799.8,465.1 804.6,458 807.7,457.6C810.8,457.2 815.8,463.5 817.7,467.6C819.6,471.8 820.2,477.9 819,482.6C817.7,487.4 812.9,495.6 810.2,496.4C807.5,497.2 804.6,492 802.7,487.6C800.8,483.3 798.1,475.1 798.9,470.1Z" fill="#FC8D33"/>
<path d="M698.9,457.6L706.4,445.1L711.4,462.6L720.2,470.1L720.2,475.1L730.2,476.4L740.2,490.2L738.9,497.7L730.2,492.7L721.4,493.9L715.1,480.1L710.1,467.6Z" fill="#FC8D33"/>
<path d="M660.1,505.2C660.7,501.5 670.1,490.2 673.9,491.4C677.6,492.7 683.3,509 682.6,512.7C682,516.3 673.9,514.4 670.1,513.2C666.4,511.9 659.5,508.8 660.1,505.2Z" fill="#FC8D33"/>
<path d="M671.4,472.6C671,470.6 678.2,463.3 680.1,463.9C682,464.5 684.1,474.9 682.6,476.4C681.2,477.9 671.8,474.7 671.4,472.6Z" fill="#FC8D33"/>
<path d="M520,348.8C519.2,346.7 532.7,340.5 536.3,341.3C539.8,342.1 544,352.6 541.3,353.8C538.6,355.1 520.9,350.9 520,348.8Z" fill="#FC8D33"/>
<path d="M521.3,298.8C522.1,295.4 531.5,294.4 532.5,297.5C533.6,300.7 529.4,317.3 527.5,317.5C525.7,317.8 520.4,302.1 521.3,298.8Z" fill="#FC8D33"/>
<path d="M512.5,433.9C511.9,432.2 517.1,427 518.8,427.6C520.4,428.2 523.6,436.6 522.5,437.6C521.5,438.7 513.1,435.5 512.5,433.9Z" fill="#FC8D33"/>
<path d="M530,442.6C530.2,441.2 540.7,438 542.5,438.9C544.4,439.7 543.4,447 541.3,447.6C539.2,448.2 529.8,444.1 530,442.6Z" fill="#FC8D33"/>
<path d="M538.8,490.2C538.8,488.7 549.2,485.6 551.3,486.4C553.4,487.2 553.4,494.5 551.3,495.2C549.2,495.8 538.8,491.6 538.8,490.2Z" fill="#FC8D33"/>
<path d="M538.8,513.9C538.8,511 550.3,503.7 552.5,505.2C554.8,506.6 554.8,521.2 552.5,522.7C550.3,524.1 538.8,516.8 538.8,513.9Z" fill="#FC8D33"/>
<path d="M615.1,490.2C615.3,488.7 624.7,484.5 626.3,485.1C628,485.8 627,493.1 625.1,493.9C623.2,494.7 614.9,491.6 615.1,490.2Z" fill="#FC8D33"/>
<path d="M626.3,495.2C628,494.5 637.4,498.7 637.6,500.2C637.8,501.6 629.5,504.7 627.6,503.9C625.7,503.1 624.7,495.8 626.3,495.2Z" fill="#FC8D33"/>
<path d="M645.1,520.2C644.1,519.1 648.2,512.9 650.1,512.7C652,512.5 657.2,517.7 656.4,518.9C655.5,520.2 646.1,521.2 645.1,520.2Z" fill="#FC8D33"/>
<path d="M691.4,506.4C692,504.5 700.3,502.4 701.4,503.9C702.4,505.4 699.3,514.7 697.6,515.2C696,515.6 690.8,508.3 691.4,506.4Z" fill="#FC8D33"/>
<path d="M710.1,517.7C710.4,516 718.7,512.9 720.2,513.9C721.6,515 720.6,523.3 718.9,523.9C717.2,524.5 709.9,519.3 710.1,517.7Z" fill="#FC8D33"/>
<path d="M740.2,496.4C741.2,495.2 749.5,496.2 750.2,497.7C750.8,499.1 745.6,505.4 743.9,505.2C742.2,505 739.1,497.7 740.2,496.4Z" fill="#FC8D33"/>
<path d="M775.2,395.1C775.4,393.6 784.8,390.5 786.4,391.3C788.1,392.2 787.1,399.5 785.2,400.1C783.3,400.7 775,396.5 775.2,395.1Z" fill="#FC8D33"/>
<path d="M786.4,405.1C787.3,401.8 795.6,399.7 796.4,402.6C797.3,405.5 793.1,422.2 791.4,422.6C789.8,423 785.6,408.4 786.4,405.1Z" fill="#FC8D33"/>
<path d="M832.7,386.3C831.7,384.9 835.8,379.7 837.7,380.1C839.6,380.5 844.8,387.8 844,388.8C843.1,389.9 833.8,387.8 832.7,386.3Z" fill="#FC8D33"/>
<path d="M822.7,500.2C822.1,498.7 827.3,493.5 829,493.9C830.6,494.3 833.8,501.6 832.7,502.7C831.7,503.7 823.3,501.6 822.7,500.2Z" fill="#FC8D33"/>
<path d="M861.5,492.7C860.7,491.4 864.8,484.1 866.5,483.9C868.2,483.7 872.3,489.9 871.5,491.4C870.7,492.9 862.3,493.9 861.5,492.7Z" fill="#FC8D33"/>
<path d="M861.5,448.9C862.1,447 869.4,446 870.2,447.6C871.1,449.3 868,458.7 866.5,458.9C865,459.1 860.9,450.8 861.5,448.9Z" fill="#FC8D33"/>
<path d="M871.5,412.6C871.5,410.9 879.8,408.8 881.5,410.1C883.2,411.4 883.2,419.7 881.5,420.1C879.8,420.5 871.5,414.3 871.5,412.6Z" fill="#FC8D33"/>
<path d="M875.2,392.6C875.2,390.9 880.5,388.8 881.5,390.1C882.5,391.3 882.5,399.7 881.5,400.1C880.5,400.5 875.2,394.3 875.2,392.6Z" fill="#FC8D33"/>
<path d="M655.1,280C655.7,278.1 663,277.1 663.9,278.8C664.7,280.4 661.6,289.8 660.1,290C658.7,290.2 654.5,281.9 655.1,280Z" fill="#FC8D33"/>
<path d="M478.7,392.6C480.6,380.1 487.3,398.8 490,400.1C492.7,401.3 492.5,399.7 495,400.1C497.5,400.5 503.6,398.4 505,402.6C506.5,406.8 504.8,417.2 503.8,425.1C502.7,433 498.8,442.2 498.8,450.1C498.8,458 504.4,468.3 503.8,472.6C503.1,477 499.2,476 495,476.4C490.8,476.8 481.5,489.1 478.7,475.1C476,461.2 476.9,405.1 478.7,392.6Z" fill="#FC8D33"/>
<path d="M497.5,495.2C499,491.4 501.7,489.7 505,490.2C508.4,490.6 513.4,493.9 517.5,497.7C521.7,501.4 527.3,506.6 530,512.7C532.7,518.7 539.6,530.4 533.8,533.9C527.9,537.5 501.3,537.5 495,533.9C488.8,530.4 495.8,519.1 496.3,512.7C496.7,506.2 496.1,498.9 497.5,495.2Z" fill="#FC8D33"/>
<path d="M802.7,525.2C802.7,521.8 811.9,510.2 815.2,510.2C818.5,510.2 822.7,521.8 822.7,525.2C822.7,528.5 818.5,530.2 815.2,530.2C811.9,530.2 802.7,528.5 802.7,525.2Z" fill="#FC8D33"/>
<path d="M842.7,512.7C842.7,508.9 849.4,503.3 852.7,500.2C856.1,497 859.8,493.1 862.7,493.9C865.7,494.7 867.1,503.7 870.2,505.2C873.4,506.6 879.6,497.9 881.5,502.7C883.4,507.5 886.7,528.7 881.5,533.9C876.3,539.1 855,535.8 850.2,533.9C845.4,532.1 854,526.2 852.7,522.7C851.5,519.1 842.7,516.4 842.7,512.7Z" fill="#FC8D33"/>
<path d="M727.7,525.2C732.2,523.1 749.5,523.7 755.2,521.4C760.8,519.1 759.3,511.2 761.4,511.4C763.5,511.6 765,520.4 767.7,522.7C770.4,525 776.9,523.3 777.7,525.2C778.5,527 781,532.5 772.7,533.9C764.3,535.4 735.2,535.4 727.7,533.9C720.2,532.5 723.1,527.3 727.7,525.2Z" fill="#FC8D33"/>
<path d="M918.8,253.8L927.6,253.8L927.6,260.1L918.8,260.1Z" fill="#2A90CA"/>
<path d="M975.1,252.6L983.9,252.6L983.9,260.1L975.1,260.1Z" fill="#2A90CA"/>
<path d="M787.5,297.6C789.2,297.5 797.5,304.2 797.5,305.6C797.5,307.1 789.2,307.7 787.5,306.4C785.8,305 785.8,297.7 787.5,297.6Z" fill="#2A90CA"/>
<path d="M833.8,305.1C833.8,303.9 840.5,298.7 841.8,298.9C843.1,299.1 843.1,305.3 841.8,306.4C840.5,307.4 833.8,306.4 833.8,305.1Z" fill="#2A90CA"/>
<path d="M786.3,318.9L803.8,317.6L800,321.1L803.8,324.4L786.3,324.4L790,321.1Z" fill="#2A90CA"/>
<path d="M878.8,330.1C878.4,328.3 884.6,323.1 886.3,323.9C888,324.7 890.1,334.1 888.8,335.1C887.6,336.2 879.2,332 878.8,330.1Z" fill="#2A90CA"/>
<path d="M878.8,357.7C878.6,355.8 885.9,350.6 887.6,351.4C889.2,352.2 890.3,361.6 888.8,362.7C887.4,363.7 879,359.5 878.8,357.7Z" fill="#2A90CA"/>
<path d="M860.1,377.7C861.3,375.4 866.7,370.6 870.1,370.2C873.4,369.8 878.6,372.9 880.1,375.2C881.5,377.5 881.7,382.5 878.8,383.9C875.9,385.4 865.7,385 862.6,383.9C859.4,382.9 858.8,380 860.1,377.7Z" fill="#2A90CA"/>
<path d="M791.3,380.2C793.8,378.3 801.1,373.5 805,372.7C809,371.8 812.9,373.3 815,375.2C817.1,377 821.7,382.5 817.5,383.9C813.4,385.4 794.4,384.6 790,383.9C785.6,383.3 788.8,382.1 791.3,380.2Z" fill="#2A90CA"/>
<path d="M995.1,333.9C996.6,332.9 1003.9,336 1003.9,337.6C1003.9,339.3 996.6,344.5 995.1,343.9C993.7,343.3 993.7,334.9 995.1,333.9Z" fill="#2A90CA"/>
<path d="M1038.9,358.9C1038.3,357.2 1043.5,352 1045.2,352.7C1046.8,353.3 1050,361.6 1048.9,362.7C1047.9,363.7 1039.5,360.6 1038.9,358.9Z" fill="#2A90CA"/>
<path d="M1000.1,367.7C1000.1,366.6 1008.5,364.5 1010.1,365.2C1011.8,365.8 1011.8,371 1010.1,371.4C1008.5,371.8 1000.1,368.7 1000.1,367.7Z" fill="#2A90CA"/>
<path d="M1012.6,373.2L1021.4,373.2L1021.4,381.4L1012.6,381.4Z" fill="#2A90CA"/>
<path d="M888.8,158.8C889.2,156.9 893,155.2 895.1,156.3C897.2,157.3 901.7,163.2 901.3,165C900.9,166.9 894.7,168.6 892.6,167.5C890.5,166.5 888.4,160.7 888.8,158.8Z" fill="#FC8D33"/>
<path d="M898.8,167.5C900.3,167.1 906.7,171.9 907.6,175C908.4,178.2 905.3,185.9 903.8,186.3C902.4,186.7 899.7,180.7 898.8,177.5C898,174.4 897.4,168 898.8,167.5Z" fill="#FC8D33"/>
<path d="M880.1,176.3C881.9,175.5 891.3,178.6 891.3,180.1C891.3,181.5 881.9,185.7 880.1,185.1C878.2,184.4 878.2,177.1 880.1,176.3Z" fill="#FC8D33"/>
<path d="M896.3,255.1C896.9,252.2 899.2,250.5 901.3,250.1C903.4,249.7 907.6,250.9 908.8,252.6C910.1,254.3 907.4,258.6 908.8,260.1C910.3,261.6 916.1,259.7 917.6,261.4C919,263 919.7,268.2 917.6,270.1C915.5,272 908.4,273 905.1,272.6C901.7,272.2 899,270.5 897.6,267.6C896.1,264.7 895.7,258 896.3,255.1Z" fill="#FC8D33"/>
<path d="M1010.1,263.9C1009.9,262.4 1018.3,259.3 1020.2,260.1C1022,260.9 1023.1,268.2 1021.4,268.9C1019.7,269.5 1010.4,265.3 1010.1,263.9Z" fill="#FC8D33"/>
<path d="M1018.9,270.1C1020.4,268 1025.4,267.6 1027.7,270.1C1029.9,272.6 1032.9,282 1032.7,285.1C1032.4,288.2 1028.7,289.3 1026.4,288.9C1024.1,288.5 1020.2,285.7 1018.9,282.6C1017.6,279.5 1017.4,272.2 1018.9,270.1Z" fill="#FC8D33"/>
<path d="M991.4,321.4C990.5,319.7 995.8,314.5 997.6,315.1C999.5,315.8 1003.7,324.1 1002.6,325.1C1001.6,326.2 992.2,323.1 991.4,321.4Z" fill="#FC8D33"/>
<path d="M1021.4,321.4C1020.6,320.1 1024.7,314.9 1026.4,315.1C1028.1,315.3 1032.2,321.6 1031.4,322.6C1030.6,323.7 1022.2,322.6 1021.4,321.4Z" fill="#FC8D33"/>
<path d="M1006.4,331.4C1008.1,328.5 1011.8,325.8 1015.1,325.1C1018.5,324.5 1023.9,325.1 1026.4,327.6C1028.9,330.1 1029.9,335.1 1030.2,340.2C1030.4,345.2 1029.7,353.9 1027.7,357.7C1025.6,361.4 1021,362.7 1017.6,362.7C1014.3,362.7 1009.7,361 1007.6,357.7C1005.6,354.3 1005.3,347 1005.1,342.7C1004.9,338.3 1004.7,334.3 1006.4,331.4Z" fill="#FC8D33"/>
<path d="M778.7,307.6L786.3,307.6L786.3,335.1L778.7,335.1Z" fill="#FC8D33"/>
<path d="M860.1,377.5C860.9,375.6 869.2,370.6 872.6,371.3C875.9,371.9 880.9,379.4 880.1,381.3C879.2,383.1 870.9,383.1 867.6,382.5C864.2,381.9 859.2,379.4 860.1,377.5Z" fill="#2A90CA"/>
<path d="M1012.6,372.5L1021.4,372.5L1021.4,381.3L1012.6,381.3Z" fill="#2A90CA"/>
<path d="M1022.7,385C1024.3,384 1033.7,389.2 1033.9,391.3C1034.1,393.3 1025.8,398.6 1023.9,397.5C1022,396.5 1021,386.1 1022.7,385Z" fill="#2A90CA"/>
<path d="M1000.1,405C1001.8,401.7 1017.4,399.6 1018.9,402.5C1020.4,405.4 1012,422.1 1008.9,422.5C1005.8,422.9 998.5,408.4 1000.1,405Z" fill="#2A90CA"/>
<path d="M820,445C821.1,440 824.2,434.2 827.5,435C830.9,435.9 837.7,446.3 840,450.1C842.3,453.8 842.3,453.8 841.3,457.6C840.2,461.3 837.1,471.3 833.8,472.6C830.4,473.8 823.6,469.6 821.3,465.1C819,460.5 819,450.1 820,445Z" fill="#2A90CA"/>
<path d="M833.8,477.6C834.8,476.3 843.2,477.4 843.8,478.8C844.4,480.3 839.2,486.5 837.5,486.3C835.9,486.1 832.7,478.8 833.8,477.6Z" fill="#2A90CA"/>
<path d="M877.6,442.5C877.6,441.3 886.9,438.2 888.8,438.8C890.7,439.4 890.7,445.7 888.8,446.3C886.9,446.9 877.6,443.8 877.6,442.5Z" fill="#2A90CA"/>
<path d="M898.8,438.8L907.6,438.8L907.6,447.5L898.8,447.5Z" fill="#2A90CA"/>
<path d="M917.6,448L927.1,448L927.1,457.1L917.6,457.1Z" fill="#2A90CA"/>
<path d="M943.9,425C943.4,423.6 949.7,418.4 951.4,418.8C953,419.2 955.1,426.5 953.9,427.5C952.6,428.6 944.3,426.5 943.9,425Z" fill="#2A90CA"/>
<path d="M955.1,430L963.9,430L963.9,438.8L955.1,438.8Z" fill="#2A90CA"/>
<path d="M965.1,441.3C967.8,439.8 976.6,439 978.9,441.3C981.2,443.6 978.5,450.5 978.9,455.1C979.3,459.6 982.8,466.1 981.4,468.8C979.9,471.5 973.9,472.4 970.1,471.3C966.4,470.3 960.1,466.1 958.9,462.6C957.6,459 961.6,453.6 962.6,450.1C963.7,446.5 962.4,442.8 965.1,441.3Z" fill="#2A90CA"/>
<path d="M952.6,480.1C953,478 961.8,473.8 965.1,473.8C968.5,473.8 971.2,478 972.6,480.1C974.1,482.2 975.5,485.3 973.9,486.3C972.2,487.4 966.2,487.4 962.6,486.3C959.1,485.3 952.2,482.2 952.6,480.1Z" fill="#2A90CA"/>
<path d="M1000.1,441.3C1003.5,440.3 1026.8,440.3 1030.2,441.3C1033.5,442.3 1023.5,446.5 1020.2,447.5C1016.8,448.6 1013.5,448.6 1010.1,447.5C1006.8,446.5 996.8,442.3 1000.1,441.3Z" fill="#2A90CA"/>
<path d="M910.1,482.6C911.1,481.3 916.8,483.4 920.1,485.1C923.4,486.7 929.7,490.5 930.1,492.6C930.5,494.7 924.5,495.9 922.6,497.6C920.7,499.2 920.3,503.4 918.8,502.6C917.4,501.7 915.3,495.9 913.8,492.6C912.4,489.2 909,483.8 910.1,482.6Z" fill="#2A90CA"/>
<path d="M933.8,508.8C933,506.8 938.2,500.5 940.1,501.3C942,502.2 946.1,512.6 945.1,513.8C944.1,515.1 934.7,510.9 933.8,508.8Z" fill="#2A90CA"/>
<path d="M906.3,512.6C906.7,509.9 912.4,505.5 915.1,506.3C917.8,507.2 919.3,513.2 922.6,517.6C925.9,522 931.8,527.2 935.1,532.6C938.4,538 940.9,545.1 942.6,550.1C944.3,555.1 946.4,561 945.1,562.6C943.9,564.3 938,562.2 935.1,560.1C932.2,558 929.7,554.7 927.6,550.1C925.5,545.5 925.1,537.2 922.6,532.6C920.1,528 915.3,525.9 912.6,522.6C909.9,519.3 905.9,515.3 906.3,512.6Z" fill="#2A90CA"/>
<path d="M965.1,503.8L970.1,503.8L970.1,513.8L965.1,513.8Z" fill="#2A90CA"/>
<path d="M831.3,517.6C831.7,515.9 840,512.8 841.3,513.8C842.5,514.9 840.5,523.2 838.8,523.8C837.1,524.5 830.9,519.3 831.3,517.6Z" fill="#2A90CA"/>
<path d="M891.3,540.1C892.8,539.3 900.1,543.4 900.1,545.1C900.1,546.8 892.8,550.9 891.3,550.1C889.9,549.3 889.9,540.9 891.3,540.1Z" fill="#2A90CA"/>
<path d="M786.3,587.6L794.5,587.6L794.5,597.1L786.3,597.1Z" fill="#2A90CA"/>
<path d="M832.5,390C831.5,388.8 835.7,380.4 837.5,380C839.4,379.6 844.6,385.8 843.8,387.5C843,389.2 833.6,391.3 832.5,390Z" fill="#FC8D33"/>
<path d="M778.7,392.5C780.2,391.3 784.6,390.8 787.5,392.5C790.4,394.2 795.6,397.5 796.3,402.5C796.9,407.5 793.3,421.3 791.3,422.5C789.2,423.8 785.8,413.8 783.8,410C781.7,406.3 779.6,402.9 778.7,400C777.9,397.1 777.3,393.8 778.7,392.5Z" fill="#FC8D33"/>
<path d="M870.1,417.5C868.8,416.3 871.9,409 873.8,408.8C875.7,408.6 881.9,414.8 881.3,416.3C880.7,417.7 871.3,418.8 870.1,417.5Z" fill="#FC8D33"/>
<path d="M971.4,426.3C970.5,423.2 976.8,408.6 978.9,408.8C981,409 985.1,424.6 983.9,427.5C982.6,430.5 972.2,429.4 971.4,426.3Z" fill="#FC8D33"/>
<path d="M916.3,433.8C915.7,432.1 920.9,426.9 922.6,427.5C924.3,428.2 927.4,436.5 926.3,437.5C925.3,438.6 917,435.5 916.3,433.8Z" fill="#FC8D33"/>
<path d="M926.3,440C928,439.4 937.4,441.5 937.6,442.5C937.8,443.6 929.5,446.7 927.6,446.3C925.7,445.9 924.7,440.7 926.3,440Z" fill="#FC8D33"/>
<path d="M787.5,450.1C787.7,446.9 791.7,438.7 793.8,435C795.8,431.4 797.9,426.4 800,428C802.1,429.7 805.6,440.3 806.3,445C806.9,449.8 806.1,454.8 803.8,456.3C801.5,457.8 795.2,454.8 792.5,453.8C789.8,452.8 787.3,453.2 787.5,450.1Z" fill="#FC8D33"/>
<path d="M803.8,457.6C806.3,456.5 811.1,460.7 813.8,463.8C816.5,466.9 820.2,471.1 820,476.3C819.8,481.5 815.2,493.4 812.5,495.1C809.8,496.7 806.1,490.5 803.8,486.3C801.5,482.2 798.8,474.9 798.8,470.1C798.8,465.3 801.3,458.6 803.8,457.6Z" fill="#FC8D33"/>
<path d="M861.3,447.5C861.9,445.7 869.2,445.7 870.1,447.5C870.9,449.4 867.8,458.8 866.3,458.8C864.8,458.8 860.7,449.4 861.3,447.5Z" fill="#FC8D33"/>
<path d="M862.6,490.1C862.6,488.2 864.6,483.6 866.3,483.8C868,484 872.6,489.4 872.6,491.3C872.6,493.2 868,495.3 866.3,495.1C864.6,494.9 862.6,492 862.6,490.1Z" fill="#FC8D33"/>
<path d="M778.7,480.1C780.2,475.9 784.8,485.9 787.5,490.1C790.2,494.2 794.2,501.1 795,505.1C795.8,509 795.2,512.2 792.5,513.8C789.8,515.5 781,520.7 778.7,515.1C776.5,509.5 777.3,484.2 778.7,480.1Z" fill="#FC8D33"/>
<path d="M821.3,500.1C820.7,498.2 826.9,492 828.8,492.6C830.7,493.2 833.8,502.6 832.5,503.8C831.3,505.1 821.9,502 821.3,500.1Z" fill="#FC8D33"/>
<path d="M801.3,522.6C801.7,519.5 809.4,513 812.5,511.3C815.6,509.7 818.1,510.3 820,512.6C821.9,514.9 823.6,521.8 823.8,525.1C824,528.4 823.6,531.8 821.3,532.6C819,533.4 813.4,531.8 810,530.1C806.7,528.4 800.8,525.7 801.3,522.6Z" fill="#FC8D33"/>
<path d="M783.8,547.6C782.7,545.9 787.9,539.7 790,540.1C792.1,540.5 797.3,548.9 796.3,550.1C795.2,551.4 784.8,549.3 783.8,547.6Z" fill="#FC8D33"/>
<path d="M878.8,527.6C878,525.7 883.2,520.5 885.1,521.3C886.9,522.2 891.1,531.6 890.1,532.6C889,533.6 879.6,529.5 878.8,527.6Z" fill="#FC8D33"/>
<path d="M877.6,555.1C877.4,553.9 886.7,550.7 888.8,551.4C890.9,552 891.9,558.2 890.1,558.9C888.2,559.5 877.8,556.4 877.6,555.1Z" fill="#FC8D33"/>
<path d="M890.1,563.9C891.1,562.4 899.4,561.4 900.1,562.6C900.7,563.9 895.5,571.2 893.8,571.4C892.2,571.6 889,565.3 890.1,563.9Z" fill="#FC8D33"/>
<path d="M952.6,508.8C952.6,507.4 963,504.3 965.1,505.1C967.2,505.9 967.2,513.2 965.1,513.8C963,514.5 952.6,510.3 952.6,508.8Z" fill="#FC8D33"/>
<path d="M952.6,545.1C952.6,543.4 963,540.3 965.1,541.4C967.2,542.4 967.2,550.7 965.1,551.4C963,552 952.6,546.8 952.6,545.1Z" fill="#FC8D33"/>
<path d="M851.3,635.2C850.5,632 855.7,621.6 857.5,622.7C859.4,623.7 863.6,639.3 862.6,641.4C861.5,643.5 852.1,638.3 851.3,635.2Z" fill="#FC8D33"/>
<path d="M906.3,644.7L918.8,644.7L918.8,653.9L906.3,653.9Z" fill="#FC8D33"/>
<path d="M778.7,597.6C780,595.8 785.4,596 786.3,597.6C787.1,599.3 785,605.8 783.8,607.6C782.5,609.5 779.6,610.6 778.7,608.9C777.9,607.2 777.5,599.5 778.7,597.6Z" fill="#FC8D33"/>
<path d="M437.7,567.5C438.1,564.6 440.2,560 442.7,558.8C445.2,557.5 450.6,558.4 452.7,560C454.8,561.7 455.7,565.9 455.2,568.8C454.8,571.7 452.7,576.3 450.2,577.5C447.7,578.8 442.3,578 440.2,576.3C438.1,574.6 437.3,570.5 437.7,567.5Z" fill="#FC8D33"/>
<path d="M469,550C471.5,546.5 479.4,533.8 481.5,543.8C483.6,553.8 483.4,600.7 481.5,610.1C479.6,619.4 473,604.6 470.2,600.1C467.5,595.5 465.9,588.4 465.2,582.6C464.6,576.7 465.9,570.5 466.5,565C467.1,559.6 466.5,553.6 469,550Z" fill="#FC8D33"/>
<path d="M276.4,572.5C276.8,569.4 284.7,566 290.1,563.8C295.6,561.6 305.6,558.5 308.9,559.5C312.2,560.6 310.8,566.6 310.1,570C309.5,573.5 306.8,577.3 305.1,580.1C303.5,582.8 303.1,585.9 300.1,586.3C297.2,586.7 291.6,584.8 287.6,582.6C283.7,580.3 276,575.7 276.4,572.5Z" fill="#FC8D33"/>
<path d="M292.6,625.1C292.4,622 297.6,619.7 300.1,617.6C302.6,615.5 304.7,612.2 307.6,612.6C310.6,613 314.5,616.3 317.6,620.1C320.8,623.8 326,629.7 326.4,635.1C326.8,640.5 322.9,648 320.2,652.6C317.4,657.2 313.3,659.7 310.1,662.6C307,665.5 303.3,670.5 301.4,670.1C299.5,669.7 299.1,663.9 298.9,660.1C298.7,656.3 299.7,651.6 300.1,647.6C300.6,643.6 302.6,640.1 301.4,636.3C300.1,632.6 292.8,628.2 292.6,625.1Z" fill="#FC8D33"/>
<path d="M267.6,633.8C272.2,631.3 284.1,629 287.6,632.6C291.2,636.1 290.1,649.7 288.9,655.1C287.6,660.5 283.3,662.6 280.1,665.1C277,667.6 273,670.5 270.1,670.1C267.2,669.7 264.3,666.4 262.6,662.6C260.9,658.8 259.3,652.4 260.1,647.6C260.9,642.8 263,636.3 267.6,633.8Z" fill="#FC8D33"/>
<path d="M195.1,642.6C196.7,639.3 200.9,640.1 205.1,640.1C209.2,640.1 217.2,640.5 220.1,642.6C223,644.7 222.4,649.3 222.6,652.6C222.8,655.9 222.6,660.9 221.3,662.6C220.1,664.3 216.3,664.1 215.1,662.6C213.8,661.1 215.7,655.5 213.8,653.8C212,652.2 205.7,651.1 203.8,652.6C202,654.1 204,661.4 202.6,662.6C201.1,663.9 196.3,663.4 195.1,660.1C193.8,656.8 193.4,645.9 195.1,642.6Z" fill="#2A90CA"/>
<path d="M251.4,635.1L260.1,635.1L260.1,643.8L251.4,643.8Z" fill="#2A90CA"/>
<path d="M232.6,616.3L241.4,616.3L241.4,625.1L232.6,625.1Z" fill="#2A90CA"/>
<path d="M166.3,607.1L175.1,607.1L175.1,616.3L166.3,616.3Z" fill="#2A90CA"/>
<path d="M231.3,691.4L241.4,691.4L241.4,700.1L231.3,700.1Z" fill="#2A90CA"/>
<path d="M173.8,632.6C173,630.7 178.2,623.4 180.1,623.8C181.9,624.2 186.1,633.6 185.1,635.1C184,636.5 174.6,634.5 173.8,632.6Z" fill="#2A90CA"/>
<path d="M266.4,597.6C266.2,594.2 272.8,584.8 276.4,586.3C279.9,587.8 287.4,603 287.6,606.3C287.8,609.7 281.2,607.8 277.6,606.3C274.1,604.9 266.6,600.9 266.4,597.6Z" fill="#2A90CA"/>
<path d="M267.6,548.8C266.8,547.1 272,539.8 273.9,540C275.7,540.2 279.9,548.6 278.9,550C277.8,551.5 268.5,550.4 267.6,548.8Z" fill="#2A90CA"/>
<path d="M323.9,576.3C323.1,574.6 328.3,567.3 330.2,567.5C332,567.8 336.2,576.1 335.2,577.5C334.1,579 324.7,578 323.9,576.3Z" fill="#2A90CA"/>
<path d="M341.4,546.3C343.5,543.4 360.2,541.1 362.7,543.8C365.2,546.5 358.5,559.6 356.4,562.5C354.3,565.5 352.7,564 350.2,561.3C347.7,558.6 339.3,549.2 341.4,546.3Z" fill="#2A90CA"/>
<path d="M333.9,593.8C333.7,592.1 340,585.9 341.4,586.3C342.9,586.7 343.9,595.1 342.7,596.3C341.4,597.6 334.1,595.5 333.9,593.8Z" fill="#2A90CA"/>
<path d="M345.2,598.8L371.4,597.1L371.4,615.1L363.9,615.1L362.7,607.6L355.2,607.6L353.9,598.8Z" fill="#2A90CA"/>
<path d="M380.2,605.1C379.6,603.4 385.8,596.1 387.7,596.3C389.6,596.5 392.7,604.9 391.4,606.3C390.2,607.8 380.8,606.7 380.2,605.1Z" fill="#2A90CA"/>
<path d="M419,578.8L456.5,578.8L456.5,600.1L449,598.8L445.2,586.3L437.7,585.1L434,597.6L420.2,596.3Z" fill="#2A90CA"/>
<path d="M420.2,626.3L429,626.3L429,635.1L420.2,635.1Z" fill="#2A90CA"/>
<path d="M417.7,680.1C417.1,678.4 423.3,671.1 425.2,671.4C427.1,671.6 430.2,679.9 429,681.4C427.7,682.8 418.3,681.8 417.7,680.1Z" fill="#2A90CA"/>
<path d="M440.2,512.5C439.8,510.6 445,502.3 446.5,502.5C447.9,502.7 450,512.1 449,513.8C447.9,515.4 440.6,514.4 440.2,512.5Z" fill="#2A90CA"/>
<path d="M446.5,540C445.9,538.4 451.1,531.1 452.7,531.3C454.4,531.5 457.5,539.8 456.5,541.3C455.4,542.7 447.1,541.7 446.5,540Z" fill="#2A90CA"/>
<path d="M382.7,692.6C384.4,692 392.7,695.1 392.7,696.4C392.7,697.6 384.4,700.8 382.7,700.1C381,699.5 381,693.2 382.7,692.6Z" fill="#2A90CA"/>
<path d="M447.7,701.4C449.6,700.5 459,703.7 459,705.1C459,706.6 449.6,710.8 447.7,710.1C445.9,709.5 445.9,702.2 447.7,701.4Z" fill="#2A90CA"/>
<path d="M387.7,737.6C387.9,734.9 398.3,727.6 400.2,728.9C402.1,730.1 401,743.7 398.9,745.2C396.9,746.6 387.5,740.4 387.7,737.6Z" fill="#2A90CA"/>
<path d="M268.9,738.9C270.5,738.1 279.9,741.2 280.1,742.7C280.3,744.1 272,748.3 270.1,747.7C268.2,747 267.2,739.7 268.9,738.9Z" fill="#2A90CA"/>
<path d="M260.1,757.7C261.8,756.8 271.2,760 271.4,761.4C271.6,762.9 263.2,767 261.4,766.4C259.5,765.8 258.4,758.5 260.1,757.7Z" fill="#2A90CA"/>
<path d="M315.1,773.9C315.1,772.3 322.4,765 323.9,765.2C325.4,765.4 325.4,773.7 323.9,775.2C322.4,776.6 315.1,775.6 315.1,773.9Z" fill="#2A90CA"/>
<path d="M335.2,765.2C334.5,763.5 338.7,755.2 340.2,755.2C341.6,755.2 344.7,763.5 343.9,765.2C343.1,766.8 335.8,766.8 335.2,765.2Z" fill="#2A90CA"/>
<path d="M198.8,576.3L202.6,587.6L195.1,587.6Z" fill="#2A90CA"/>
<path d="M250.1,558.8C249.3,556.9 253.4,548.6 255.1,548.8C256.8,549 260.9,558.4 260.1,560C259.3,561.7 250.9,560.7 250.1,558.8Z" fill="#FC8D33"/>
<path d="M286.4,548.8C285.5,547.1 290.8,539.8 292.6,540C294.5,540.2 298.7,548.6 297.6,550C296.6,551.5 287.2,550.4 286.4,548.8Z" fill="#FC8D33"/>
<path d="M166.3,512.5C167.8,511.5 176.1,515.6 176.3,517.5C176.5,519.4 169.2,524.6 167.6,523.8C165.9,522.9 164.8,513.6 166.3,512.5Z" fill="#FC8D33"/>
<path d="M361.4,676.4C362.1,674.5 370.4,671.4 371.4,672.6C372.5,673.9 369.3,683.2 367.7,683.9C366,684.5 360.8,678.2 361.4,676.4Z" fill="#FC8D33"/>
<path d="M163.8,708.9C163.2,707.2 169.4,698.9 171.3,698.9C173.2,698.9 176.3,707.2 175.1,708.9C173.8,710.5 164.4,710.5 163.8,708.9Z" fill="#FC8D33"/>
<path d="M156.3,616.3C157.1,614.4 165.5,614.4 166.3,616.3C167.1,618.2 163,627.6 161.3,627.6C159.6,627.6 155.5,618.2 156.3,616.3Z" fill="#FC8D33"/>
<path d="M295.1,757.7C294.3,756 299.5,746.6 301.4,746.4C303.3,746.2 307.4,754.5 306.4,756.4C305.3,758.3 296,759.3 295.1,757.7Z" fill="#FC8D33"/>
<path d="M371.4,695.1C371.4,693.7 380.8,690.5 382.7,691.4C384.6,692.2 384.6,699.5 382.7,700.1C380.8,700.8 371.4,696.6 371.4,695.1Z" fill="#FC8D33"/>
<path d="M416.5,655.1C417.3,652 426.3,648 430.2,646.3C434.2,644.7 437.3,644 440.2,645.1C443.1,646.1 446.5,649.3 447.7,652.6C449,655.9 446.5,662.6 447.7,665.1C449,667.6 454.8,665.9 455.2,667.6C455.7,669.3 453.6,674.3 450.2,675.1C446.9,675.9 439.4,674.3 435.2,672.6C431.1,670.9 428.3,668 425.2,665.1C422.1,662.2 415.6,658.2 416.5,655.1Z" fill="#FC8D33"/>
<path d="M476.5,660.1C478.4,655.9 480.7,648 481.5,655.1C482.3,662.2 483,695.5 481.5,702.6C480,709.7 474.6,701.4 472.7,697.6C470.9,693.9 469.6,686.4 470.2,680.1C470.9,673.9 474.6,664.3 476.5,660.1Z" fill="#FC8D33"/>
<path d="M437.7,732.6L447.7,728.9L452.7,717.6L457.7,728.9L470.2,725.1L462.7,735.1L470.2,740.2L457.7,738.9L447.7,738.9Z" fill="#FC8D33"/>
<path d="M296.4,720C299.7,718.1 315.4,718.7 320.2,720C324.9,721.3 326.4,725.2 325.2,727.5C323.9,729.8 316.8,733.1 312.6,733.8C308.5,734.4 302.8,733.6 300.1,731.3C297.4,729 293,721.9 296.4,720Z" fill="#FC8D33"/>
<path d="M357.7,720C358.9,717.1 373.5,717.1 375.2,720C376.9,722.9 370.6,737.5 367.7,737.5C364.8,737.5 356.4,722.9 357.7,720Z" fill="#FC8D33"/>
<path d="M295.1,752.5C294.1,750.4 299.3,744.2 301.4,745C303.5,745.8 308.7,756.3 307.6,757.5C306.6,758.8 296.2,754.6 295.1,752.5Z" fill="#FC8D33"/>
<path d="M268.9,740C270.5,739.4 279.9,742.5 280.1,743.8C280.3,745 272,748.1 270.1,747.5C268.2,746.9 267.2,740.6 268.9,740Z" fill="#2A90CA"/>
<path d="M260.1,757.5C261.8,756.7 271.2,759.8 271.4,761.3C271.6,762.7 263.2,766.9 261.4,766.3C259.5,765.7 258.4,758.4 260.1,757.5Z" fill="#2A90CA"/>
<path d="M315.1,770C314.7,768.4 319.9,764.2 321.4,765C322.9,765.9 324.9,774.2 323.9,775C322.9,775.9 315.6,771.7 315.1,770Z" fill="#2A90CA"/>
<path d="M335.2,765C334.5,763.2 338.7,754.8 340.2,755C341.6,755.2 344.7,764.6 343.9,766.3C343.1,767.9 335.8,766.9 335.2,765Z" fill="#2A90CA"/>
<path d="M387.7,737.5C387.5,734.8 396.9,728.5 398.9,730C401,731.5 402.1,745 400.2,746.3C398.3,747.5 387.9,740.2 387.7,737.5Z" fill="#2A90CA"/>
<path d="M297.6,795L306.4,795L306.4,803.8L297.6,803.8Z" fill="#2A90CA"/>
<path d="M365.2,796.3C369.3,793.6 387.7,794.4 390.2,796.3C392.7,798.2 384.4,804.8 380.2,807.6C376,810.3 367.7,814.4 365.2,812.6C362.7,810.7 361,799 365.2,796.3Z" fill="#2A90CA"/>
<path d="M391.4,813.8L400.2,813.8L400.2,822.6L391.4,822.6Z" fill="#2A90CA"/>
<path d="M335.2,861.3L343.9,861.3L343.9,870.1L335.2,870.1Z" fill="#2A90CA"/>
<path d="M297.6,907.6C299.3,906.8 307.6,909.9 307.6,911.4C307.6,912.8 299.3,917 297.6,916.4C296,915.7 296,908.5 297.6,907.6Z" fill="#2A90CA"/>
<path d="M417.5,677.5C417.1,675.8 424.4,670.6 426.3,671.3C428.2,671.9 430.2,680.2 428.8,681.3C427.3,682.3 417.9,679.2 417.5,677.5Z" fill="#2A90CA"/>
<path d="M447.5,702.5C449.2,701.9 458.6,705 458.8,706.3C459,707.5 450.7,710.7 448.8,710C446.9,709.4 445.9,703.2 447.5,702.5Z" fill="#2A90CA"/>
<path d="M387.5,737.5C387.5,735 396.9,728.8 398.8,730C400.6,731.3 400.6,743.8 398.8,745.1C396.9,746.3 387.5,740.1 387.5,737.5Z" fill="#2A90CA"/>
<path d="M566.4,683.8C567.4,680.4 578.7,668.5 581.4,670C584.1,671.5 583.7,689.2 582.6,692.5C581.6,695.9 577.8,691.5 575.1,690C572.4,688.6 565.3,687.1 566.4,683.8Z" fill="#2A90CA"/>
<path d="M616.4,658.7C617.6,656.5 624.5,656 627.7,658.7C630.8,661.5 632.2,668.1 635.2,675C638.1,681.9 644.7,694.6 645.2,700C645.6,705.4 639.1,710 637.7,707.5C636.2,705 639.3,690.9 636.4,685C633.5,679.2 623.5,676.9 620.2,672.5C616.8,668.1 615.1,661 616.4,658.7Z" fill="#2A90CA"/>
<path d="M568.9,720L577.6,720L577.6,737.5L570.1,736.3Z" fill="#2A90CA"/>
<path d="M558.9,742.6C558.9,741.5 567.2,739.4 568.9,740.1C570.5,740.7 570.5,745.9 568.9,746.3C567.2,746.7 558.9,743.6 558.9,742.6Z" fill="#2A90CA"/>
<path d="M572.6,750.1L580.1,750.1L577.6,762.6L578.9,768.8L571.4,775.1Z" fill="#2A90CA"/>
<path d="M541.4,796.3C542.4,794.9 550.7,793.8 551.4,795.1C552,796.3 546.8,803.6 545.1,803.8C543.4,804 540.3,797.8 541.4,796.3Z" fill="#2A90CA"/>
<path d="M392.5,813.8L401.3,813.8L401.3,822.6L392.5,822.6Z" fill="#2A90CA"/>
<path d="M411.3,886.4C410.4,884.9 414.6,877.6 416.3,877.6C417.9,877.6 422.1,884.9 421.3,886.4C420.4,887.9 412.1,887.9 411.3,886.4Z" fill="#2A90CA"/>
<path d="M566.3,683.1C566.5,678.7 578.4,667.3 581.3,669.3C584.2,671.4 582.6,690.4 583.8,695.6C585.1,700.8 589.4,700.6 588.8,700.6C588.2,700.6 583.8,698.5 580.1,695.6C576.3,692.7 566.1,687.5 566.3,683.1Z" fill="#2A90CA"/>
<path d="M586.3,658.1C586.3,656.6 595.7,653.5 597.6,654.3C599.4,655.2 599.4,662.5 597.6,663.1C595.7,663.7 586.3,659.5 586.3,658.1Z" fill="#2A90CA"/>
<path d="M626.3,626.8L635.1,626.8L635.1,631.8L626.3,631.8Z" fill="#2A90CA"/>
<path d="M568.8,720.6L577.6,719.4L578.8,740.6L570.1,738.1Z" fill="#2A90CA"/>
<path d="M558.8,743.1C559,741.9 568.4,738.8 570.1,739.4C571.7,740 570.7,746.3 568.8,746.9C566.9,747.5 558.6,744.4 558.8,743.1Z" fill="#2A90CA"/>
<path d="M572.6,748.1L577.6,748.1L576.3,768.1L570.1,776.9L572.6,758.1Z" fill="#2A90CA"/>
<path d="M541.3,795.7C543,793.8 552.3,792.7 552.5,794.4C552.8,796.1 544.4,805.5 542.5,805.7C540.7,805.9 539.6,797.5 541.3,795.7Z" fill="#2A90CA"/>
<path d="M496.3,545.5C495.4,544 499.6,538.8 501.3,539.3C502.9,539.7 507.1,547 506.3,548C505.4,549.1 497.1,547 496.3,545.5Z" fill="#2A90CA"/>
<path d="M767.7,578C766.6,576.8 770.8,568.4 772.7,568C774.6,567.6 779.8,573.9 778.9,575.5C778.1,577.2 768.7,579.3 767.7,578Z" fill="#2A90CA"/>
<path d="M786.4,588L794.7,588L794.7,596.8L786.4,596.8Z" fill="#2A90CA"/>
<path d="M522.5,803.2L533.8,803.2L533.8,813.2L522.5,813.2Z" fill="#FC8D33"/>
<path d="M598.8,654.3C600.3,652.7 605.9,651.6 607.6,653.1C609.2,654.5 607.2,661.2 608.8,663.1C610.5,665 616.3,662.2 617.6,664.3C618.8,666.4 615.3,671.6 616.3,675.6C617.4,679.5 622.4,683.5 623.8,688.1C625.3,692.7 626.5,698.9 625.1,703.1C623.6,707.3 617.6,708.9 615.1,713.1C612.6,717.3 612.6,723.5 610.1,728.1C607.6,732.7 603.8,736.5 600.1,740.6C596.3,744.8 590.9,751.9 587.6,753.1C584.2,754.4 581.5,752.3 580.1,748.1C578.6,744 578.8,733.1 578.8,728.1C578.8,723.1 578.2,721.9 580.1,718.1C581.9,714.4 588.8,709.4 590.1,705.6C591.3,701.9 587.2,699.4 587.6,695.6C588,691.8 590.1,686.8 592.6,683.1C595.1,679.3 601.5,676.4 602.6,673.1C603.6,669.8 599.4,666.2 598.8,663.1C598.2,660 597.4,656 598.8,654.3Z" fill="#FC8D33"/>
<path d="M522.5,634.3L532.5,634.3L532.5,644.3L522.5,644.3Z" fill="#FC8D33"/>
<path d="M635.1,616.8L653.9,616.8L653.9,634.3L646.4,635.6L645.1,626.8L635.1,626.8Z" fill="#FC8D33"/>
<path d="M660.1,555.5C660.5,553 665.9,552.2 670.1,553C674.3,553.8 680.1,557.6 685.1,560.5C690.1,563.4 696.6,567.6 700.1,570.5C703.7,573.4 706.8,575.9 706.4,578C706,580.1 699.9,580.5 697.6,583C695.3,585.5 692.2,590.1 692.6,593C693,596 699.3,598.2 700.1,600.5C701,602.8 700.1,605.5 697.6,606.8C695.1,608 687.6,609.9 685.1,608C682.6,606.2 683.9,600.1 682.6,595.5C681.4,591 680.1,585.1 677.6,580.5C675.1,575.9 670.5,572.2 667.6,568C664.7,563.9 659.7,558 660.1,555.5Z" fill="#FC8D33"/>
<path d="M702.6,548C703.9,545.7 709.3,545.5 712.6,546.8C716,548 719.7,552.4 722.7,555.5C725.6,558.6 728.9,560.9 730.2,565.5C731.4,570.1 731.8,580.9 730.2,583C728.5,585.1 723.1,580.9 720.2,578C717.2,575.1 715.1,568.4 712.6,565.5C710.1,562.6 706.8,563.4 705.1,560.5C703.5,557.6 701.4,550.3 702.6,548Z" fill="#FC8D33"/>
<path d="M741.4,565.5C742.7,561.8 743.3,559.1 745.2,558C747,557 751,558 752.7,559.3C754.3,560.5 756,562.8 755.2,565.5C754.3,568.2 749.3,572 747.7,575.5C746,579.1 743.9,585.5 745.2,586.8C746.4,588 751.4,584.3 755.2,583C758.9,581.8 765.2,578.4 767.7,579.3C770.2,580.1 770.2,584.5 770.2,588C770.2,591.6 770.2,597.6 767.7,600.5C765.2,603.5 759.8,604.3 755.2,605.5C750.6,606.8 744.3,608 740.2,608C736,608 731.8,609.1 730.2,605.5C728.5,602 728.9,591 730.2,586.8C731.4,582.6 735.8,584.1 737.7,580.5C739.5,577 740.2,569.3 741.4,565.5Z" fill="#FC8D33"/>
<path d="M775.2,599.3C775.8,597.6 785.2,596.6 786.4,598C787.7,599.5 784.6,607.8 782.7,608C780.8,608.3 774.6,601 775.2,599.3Z" fill="#FC8D33"/>
<path d="M796.4,583C796,580.1 801.2,578 805.2,575.5C809.2,573 816.9,571.4 820.2,568C823.5,564.7 824.8,560.1 825.2,555.5C825.6,550.9 822.7,544.5 822.7,540.5C822.7,536.5 822.3,533.2 825.2,531.7C828.1,530.3 837.3,529 840.2,531.7C843.1,534.5 842.7,542 842.7,548C842.7,554.1 841.5,562.2 840.2,568C839,573.9 834.8,576.4 835.2,583C835.6,589.7 841.5,600.1 842.7,608C844,616 844,626.4 842.7,630.6C841.5,634.7 839.8,633.5 835.2,633.1C830.6,632.6 820.6,630.6 815.2,628.1C809.8,625.6 804.8,621.8 802.7,618.1C800.6,614.3 801.9,609.7 802.7,605.5C803.5,601.4 808.7,596.8 807.7,593C806.7,589.3 796.9,585.9 796.4,583Z" fill="#FC8D33"/>
<path d="M852.7,578C853.6,574.3 856.5,573.9 860.2,573C864,572.2 871.9,571.4 875.2,573C878.6,574.7 879.8,577.2 880.3,583C880.7,588.9 879.8,602.4 877.7,608C875.7,613.7 871.1,616 867.7,616.8C864.4,617.6 859.8,616.6 857.7,613.1C855.7,609.5 856.1,601.4 855.2,595.5C854.4,589.7 851.9,581.8 852.7,578Z" fill="#FC8D33"/>
<path d="M852.7,531.7C854.4,527.8 864,529 865.2,531.7C866.5,534.5 861.9,544 860.2,548C858.6,552 856.5,558.2 855.2,555.5C854,552.8 851.1,535.7 852.7,531.7Z" fill="#FC8D33"/>
<path d="M851.5,636.8C850.6,634.5 855.9,624.1 857.7,624.3C859.6,624.5 863.8,636 862.7,638.1C861.7,640.2 852.3,639.1 851.5,636.8Z" fill="#FC8D33"/>
<path d="M735.2,531.7C737.2,529.7 754.8,529.9 757.7,531.7C760.6,533.6 754.8,540.9 752.7,543C750.6,545.1 748.1,546.1 745.2,544.3C742.2,542.4 733.1,533.8 735.2,531.7Z" fill="#FC8D33"/>
<path d="M708.9,538C708.1,537 713.3,532.8 715.1,533C717,533.2 721.2,538.4 720.2,539.3C719.1,540.1 709.7,539 708.9,538Z" fill="#FC8D33"/>
<path d="M785.2,548C784.6,546.3 789.8,540.1 791.4,540.5C793.1,540.9 796.2,549.3 795.2,550.5C794.2,551.8 785.8,549.7 785.2,548Z" fill="#FC8D33"/>
<path d="M503.8,517.7C503.1,516 508.4,511.8 510,512.7C511.7,513.5 514.8,521.8 513.8,522.7C512.7,523.5 504.4,519.3 503.8,517.7Z" fill="#9EC29B"/>
<path d="M267.6,336.3C270.5,332.9 279.7,335.2 285.1,334.5C290.5,333.9 294.7,332.2 300.1,332.5C305.5,332.8 314.5,333.4 317.6,336.3C320.8,339.2 317.6,346.7 318.9,350.1C320.1,353.4 322.4,355.7 325.1,356.3C327.9,356.9 333.3,356.1 335.1,353.8C337,351.5 333.5,344.4 336.4,342.5C339.3,340.7 349.5,340.9 352.7,342.5C355.8,344.2 353.3,349 355.2,352.6C357,356.1 362.5,359 363.9,363.8C365.4,368.6 366.2,378.6 363.9,381.3C361.6,384 355,381.1 350.2,380.1C345.4,379 338.5,377.6 335.1,375.1C331.8,372.6 332.2,365.9 330.1,365.1C328.1,364.2 324.7,367.6 322.6,370.1C320.6,372.6 320.1,378 317.6,380.1C315.1,382.2 310.1,380.4 307.6,382.6C305.1,384.7 304.3,392.9 302.6,393.1C301,393.3 300.5,383.9 297.6,383.8C294.7,383.7 289.3,391.1 285.1,392.6C280.9,394 275.1,395.1 272.6,392.6C270.1,390.1 272.2,381.3 270.1,377.6C268,373.8 261.4,372.8 260.1,370.1C258.8,367.4 264.3,363.2 262.6,361.3C260.9,359.4 251.1,360.3 250.1,358.8C249.1,357.3 253.4,353.2 256.3,352.6C259.3,351.9 265.7,357.8 267.6,355.1C269.5,352.3 264.7,339.7 267.6,336.3Z" fill="#FBF960"/>
<path d="M221.3,330C222.4,328.6 229.5,324.8 231.3,325.5C233.2,326.3 233.6,333.1 232.6,334.5C231.5,336 227,334.8 225.1,334C223.2,333.3 220.3,331.5 221.3,330Z" fill="#FBF960"/>
<path d="M371.4,300L403.9,290.5L401.4,305L392.7,307.5L391.4,333.8L381.4,333.8L380.2,320L383.9,307.5L372.7,307.5L371.4,316.3L362.7,316.3L362.7,307.5Z" fill="#FBF960"/>
<path d="M335.1,318.8C336.2,316.9 342,314 343.9,315C345.8,316.1 347.4,323.2 346.4,325C345.4,326.9 339.5,327.3 337.6,326.3C335.8,325.2 334.1,320.7 335.1,318.8Z" fill="#FBF960"/>
<path d="M123.3,371.3L130,372.6L130,381.3L123.3,382.6Z" fill="#FBF960"/>
<path d="M238.8,510.7C238,508.8 244.3,501.1 246.3,501.4C248.4,501.7 252.6,511.1 251.3,512.7C250.1,514.2 239.7,512.5 238.8,510.7Z" fill="#FBF960"/>
<path d="M812.7,358.8C812.1,356.9 818.3,350.7 820.2,351.3C822.1,351.9 825.2,361.3 824,362.6C822.7,363.8 813.3,360.7 812.7,358.8Z" fill="#FBF960"/>
<path d="M812.5,358.9C811.9,356.8 818.1,350.6 820,351.4C821.9,352.2 825,362.7 823.8,363.9C822.5,365.2 813.1,361 812.5,358.9Z" fill="#FBF960"/>
<path d="M156.3,652.6C157.3,650.1 163.2,649.9 167.6,650.1C171.9,650.3 179.2,651.8 182.6,653.8C185.9,655.9 187.2,659.5 187.6,662.6C188,665.7 187.6,670.9 185.1,672.6C182.6,674.3 176.5,673.9 172.6,672.6C168.6,671.4 164,668.4 161.3,665.1C158.6,661.8 155.3,655.1 156.3,652.6Z" fill="#FBF960"/>
<path d="M193.8,662.6C197.2,660.7 210.5,660.9 213.8,662.6C217.2,664.3 215.3,670.3 213.8,672.6C212.4,674.9 208.4,676.2 205.1,676.4C201.7,676.6 195.7,676.2 193.8,673.9C191.9,671.6 190.5,664.5 193.8,662.6Z" fill="#FBF960"/>
<path d="M268.9,645.1C271.8,643.2 284.3,645.5 287.6,643.8C291,642.2 287,636.5 288.9,635.1C290.8,633.6 297,632.6 298.9,635.1C300.8,637.6 301.2,646.8 300.1,650.1C299.1,653.4 297.6,654.3 292.6,655.1C287.6,655.9 274.1,656.8 270.1,655.1C266.2,653.4 265.9,647 268.9,645.1Z" fill="#FBF960"/>
<path d="M296.4,627.6C297.8,626.5 308.3,628.6 308.9,630.1C309.5,631.5 302.2,636.8 300.1,636.3C298.1,635.9 294.9,628.6 296.4,627.6Z" fill="#FBF960"/>
<path d="M250.1,653.8L260.1,653.8L260.1,663.9L250.1,663.9Z" fill="#FBF960"/>
<path d="M436.5,611.3C436.5,609.9 444.2,607.8 447.7,607.6C451.3,607.4 456.9,606.7 457.7,610.1C458.6,613.4 454.4,626.5 452.7,627.6C451.1,628.6 450.4,619 447.7,616.3C445,613.6 436.5,612.8 436.5,611.3Z" fill="#FBF960"/>
<path d="M466.5,606.3C468.4,604 479,601.7 481.5,603.8C484,605.9 483.4,616.5 481.5,618.8C479.6,621.1 472.7,619.7 470.2,617.6C467.7,615.5 464.6,608.6 466.5,606.3Z" fill="#FBF960"/>
<path d="M398.9,630.1C399.4,628.4 408.7,625.3 410.2,626.3C411.7,627.4 409.6,635.7 407.7,636.3C405.8,637 398.5,631.7 398.9,630.1Z" fill="#FBF960"/>
<path d="M447.7,653.8L457.7,653.8L457.7,663.9L447.7,663.9Z" fill="#FBF960"/>
<path d="M447.7,728.9L457.7,728.9L457.7,738.9L447.7,738.9Z" fill="#FBF960"/>
<path d="M297.6,715.1C298.7,712.8 301.8,706.4 305.1,706.4C308.5,706.4 316,712.8 317.6,715.1C319.3,717.4 318.3,719.3 315.1,720.1C312,721 301.8,721 298.9,720.1C296,719.3 296.6,717.4 297.6,715.1Z" fill="#FBF960"/>
<path d="M325.2,710.1C324.3,708.3 328.5,698.9 330.2,698.9C331.8,698.9 336,708.3 335.2,710.1C334.3,712 326,712 325.2,710.1Z" fill="#FBF960"/>
<path d="M197.6,707.6C200.1,704.3 202.6,701 205.1,700.1C207.6,699.3 211.1,700.1 212.6,702.6C214,705.1 210.9,712.2 213.8,715.1C216.8,718.1 227.2,717.2 230.1,720.1C233,723.1 233,731 231.3,732.6C229.7,734.3 223.6,729.7 220.1,730.1C216.5,730.6 213.8,736 210.1,735.1C206.3,734.3 201.7,726.4 197.6,725.1C193.4,723.9 190.1,727 185.1,727.6C180.1,728.3 170.7,729.7 167.6,728.9C164.4,728.1 162.6,724.1 166.3,722.6C170.1,721.2 184.9,722.6 190.1,720.1C195.3,717.6 195.1,711 197.6,707.6Z" fill="#FBF960"/>
<path d="M325.2,777.5C326,774.8 334.3,772.9 337.7,773.8C341,774.6 341,780.7 345.2,782.5C349.3,784.4 359.3,783 362.7,785C366,787.1 366.8,793 365.2,795C363.5,797.1 356,795.5 352.7,797.5C349.3,799.6 347.3,805.1 345.2,807.6C343.1,810.1 338.5,811.3 340.2,812.6C341.8,813.8 352.9,813 355.2,815.1C357.5,817.1 357.3,821.7 353.9,825.1C350.6,828.4 341.6,833 335.2,835.1C328.7,837.2 319.9,838 315.1,837.6C310.4,837.2 306.8,835.5 306.4,832.6C306,829.7 309.5,823.4 312.6,820.1C315.8,816.7 321,815.5 325.2,812.6C329.3,809.6 336.4,806.3 337.7,802.6C338.9,798.8 334.7,794.2 332.7,790C330.6,785.9 324.3,780.2 325.2,777.5Z" fill="#FBF960"/>
<path d="M266.4,780C267.2,777.3 270.3,775.5 272.6,775C274.9,774.6 278.7,775.5 280.1,777.5C281.6,779.6 282.2,784.6 281.4,787.5C280.5,790.5 277.4,794.4 275.1,795C272.8,795.7 269.1,793.8 267.6,791.3C266.2,788.8 265.5,782.7 266.4,780Z" fill="#FBF960"/>
<path d="M258.9,795C260.4,793.6 265.7,792.5 267.6,793.8C269.5,795 271,800.5 270.1,802.6C269.3,804.6 264.6,806.3 262.6,806.3C260.6,806.3 258.7,804.4 258.1,802.6C257.5,800.7 257.3,796.5 258.9,795Z" fill="#FBF960"/>
<path d="M243.9,802.6C245.9,801.1 252.4,800.5 255.1,801.3C257.8,802.1 259.7,805.3 260.1,807.6C260.5,809.8 260.1,813.6 257.6,815.1C255.1,816.5 247.6,817.1 245.1,816.3C242.6,815.5 242.8,812.3 242.6,810.1C242.4,807.8 241.8,804 243.9,802.6Z" fill="#FBF960"/>
<path d="M250.1,840.1C250.9,838.4 260.1,836.5 265.1,835.1C270.1,833.6 276.4,831.7 280.1,831.3C283.9,830.9 286.2,830.3 287.6,832.6C289.1,834.9 286,842.2 288.9,845.1C291.8,848 302,847.6 305.1,850.1C308.3,852.6 308.9,857.2 307.6,860.1C306.4,863 302.2,865.9 297.6,867.6C293,869.3 283.9,871.3 280.1,870.1C276.4,868.8 276.4,863 275.1,860.1C273.9,857.2 275.1,855.1 272.6,852.6C270.1,850.1 263.9,847.2 260.1,845.1C256.4,843 249.3,841.7 250.1,840.1Z" fill="#FBF960"/>
<path d="M391.4,780C393.1,777.1 396.2,777.7 402.7,777.5C409.2,777.3 424.4,777.1 430.2,778.8C436.1,780.5 434.4,784.8 437.7,787.5C441.1,790.3 446.9,791.3 450.2,795C453.6,798.8 457.7,805.9 457.7,810.1C457.7,814.2 451.1,815.1 450.2,820.1C449.4,825.1 451.1,833.4 452.7,840.1C454.4,846.7 459.8,855.5 460.2,860.1C460.7,864.7 458.6,866.8 455.2,867.6C451.9,868.4 444,867.6 440.2,865.1C436.5,862.6 434.8,856.8 432.7,852.6C430.6,848.4 430.2,844.7 427.7,840.1C425.2,835.5 419,829.2 417.7,825.1C416.5,820.9 416.9,817.1 420.2,815.1C423.5,813 434.4,814.6 437.7,812.6C441.1,810.5 441.1,805.9 440.2,802.6C439.4,799.2 436.9,794 432.7,792.5C428.6,791.1 421.9,793.4 415.2,793.8C408.5,794.2 396.7,797.3 392.7,795C388.7,792.8 389.8,783 391.4,780Z" fill="#FBF960"/>
<path d="M312.6,872.6C313.7,868.6 317.9,868.4 320.2,868.8C322.4,869.3 325.4,871.6 326.4,875.1C327.4,878.6 325.4,885.5 326.4,890.1C327.4,894.7 332,899.3 332.7,902.6C333.3,905.9 332.2,909.7 330.2,910.1C328.1,910.5 322.9,908 320.2,905.1C317.4,902.2 315.1,898 313.9,892.6C312.6,887.2 311.6,876.6 312.6,872.6Z" fill="#FBF960"/>
<path d="M362.7,878.8C363.5,876.8 371.8,876.8 372.7,878.8C373.5,880.9 369.3,891.4 367.7,891.4C366,891.4 361.8,880.9 362.7,878.8Z" fill="#FBF960"/>
<path d="M387.7,892.6C388.9,889.9 392.5,887.6 395.2,887.6C397.9,887.6 402.5,889.7 404,892.6C405.4,895.5 405.4,902.4 404,905.1C402.5,907.8 397.9,909.1 395.2,908.9C392.5,908.7 388.9,906.6 387.7,903.9C386.4,901.2 386.4,895.3 387.7,892.6Z" fill="#FBF960"/>
<path d="M351.4,910.1C352.5,907.4 355.4,906.4 357.7,906.4C360,906.4 363.9,907.4 365.2,910.1C366.4,912.8 366.4,919.9 365.2,922.6C363.9,925.3 360,926.4 357.7,926.4C355.4,926.4 352.5,925.3 351.4,922.6C350.4,919.9 350.4,912.8 351.4,910.1Z" fill="#FBF960"/>
<path d="M306.4,927.6C307.2,925.7 309.5,924.1 315.1,923.9C320.8,923.7 335.6,924.9 340.2,926.4C344.7,927.8 343.5,931 342.7,932.6C341.8,934.3 340.6,935.9 335.2,936.4C329.7,936.9 314.9,937.1 310.1,935.6C305.3,934.2 305.6,929.6 306.4,927.6Z" fill="#FBF960"/>
<path d="M278.9,925.1C280.1,922.8 284.5,922.6 287.6,922.6C290.8,922.6 296,923 297.6,925.1C299.3,927.2 300.6,933.3 297.6,935.1C294.7,937 283.3,938.1 280.1,936.4C277,934.7 277.6,927.4 278.9,925.1Z" fill="#FBF960"/>
<path d="M325.2,945.1C326,943.5 334.3,941.4 335.2,942.6C336,943.9 331.8,952.2 330.2,952.6C328.5,953.1 324.3,946.8 325.2,945.1Z" fill="#FBF960"/>
<path d="M280.1,952.6C282.6,948.5 292,951.4 295.1,952.6C298.3,953.9 298.7,957.6 298.9,960.2C299.1,962.7 298.3,966 296.4,967.7C294.5,969.3 289.1,968.5 287.6,970.2C286.2,971.8 288.9,976.4 287.6,977.7C286.4,978.9 281.4,981.8 280.1,977.7C278.9,973.5 277.6,956.8 280.1,952.6Z" fill="#FBF960"/>
<path d="M238.8,747.5C240.1,744.2 245.5,745 247.6,746.3C249.7,747.5 250.9,751.9 251.4,755C251.8,758.1 252,763.2 250.1,765C248.2,766.9 242,769.2 240.1,766.3C238.2,763.4 237.6,750.9 238.8,747.5Z" fill="#FBF960"/>
<path d="M250.1,722.5C251.4,721.3 258,720.4 260.1,721.3C262.2,722.1 263.9,726.3 262.6,727.5C261.4,728.8 254.7,729.6 252.6,728.8C250.5,727.9 248.9,723.8 250.1,722.5Z" fill="#FBF960"/>
<path d="M447,729.5L458,729.5L458,739.5L447,739.5Z" fill="#FBF960"/>
<path d="M391.3,777.6C399,774.7 429.6,775.9 437.5,777.6C445.5,779.2 436.7,785.1 438.8,787.6C440.9,790.1 446.9,789.7 450,792.6C453.2,795.5 456.7,801.3 457.5,805.1C458.4,808.8 457.1,812.6 455,815.1C453,817.6 446.9,817.2 445,820.1C443.2,823 442.5,828.4 443.8,832.6C445,836.8 449.8,840.5 452.5,845.1C455.3,849.7 458.8,856.4 460.1,860.1C461.3,863.9 462.1,866 460.1,867.6C458,869.3 450.5,871.4 447.5,870.1C444.6,868.9 445.5,863.5 442.5,860.1C439.6,856.8 432.1,853.5 430,850.1C427.9,846.8 431.9,842 430,840.1C428.2,838.2 420.9,843 418.8,838.9C416.7,834.7 414,819.5 417.5,815.1C421.1,810.7 436.3,815.1 440,812.6C443.8,810.1 440.7,803.8 440,800.1C439.4,796.3 438.8,791.1 436.3,790.1C433.8,789 432.5,793 425,793.8C417.5,794.7 396.9,797.8 391.3,795.1C385.6,792.4 383.5,780.5 391.3,777.6Z" fill="#FBF960"/>
<path d="M473.8,816.3C475.3,814.3 490.3,811.6 493.8,812.6C497.4,813.6 496.5,820.5 495.1,822.6C493.6,824.7 488.6,826.1 485.1,825.1C481.5,824.1 472.3,818.4 473.8,816.3Z" fill="#FBF960"/>
<path d="M455,780.1C455,778.6 464.4,775.5 466.3,776.3C468.2,777.2 468.2,784.5 466.3,785.1C464.4,785.7 455,781.5 455,780.1Z" fill="#FBF960"/>
<path d="M473.8,746.3C472.8,744.4 478,736.1 480.1,736.3C482.1,736.5 487.4,745.9 486.3,747.6C485.3,749.2 474.9,748.2 473.8,746.3Z" fill="#FBF960"/>
<path d="M465.1,867.6C464.2,866 469.4,858.7 471.3,858.9C473.2,859.1 477.4,867.4 476.3,868.9C475.3,870.3 465.9,869.3 465.1,867.6Z" fill="#FBF960"/>
<path d="M388.8,890.1C390.8,887 400,886.2 402.5,888.9C405,891.6 405.8,903.3 403.8,906.4C401.7,909.5 392.5,910.4 390,907.7C387.5,904.9 386.7,893.3 388.8,890.1Z" fill="#FBF960"/>
<path d="M447.5,658.7L457.5,658.7L457.5,663.8L447.5,663.8Z" fill="#FBF960"/>
<path d="M532.5,570.5C533.8,567.2 536.7,567.6 540,568C543.4,568.4 550,570.5 552.5,573C555,575.5 555.9,579.3 555,583C554.2,586.8 550.3,592.6 547.5,595.5C544.8,598.5 541.3,601.8 538.8,600.5C536.3,599.3 533.6,593 532.5,588C531.5,583 531.3,573.9 532.5,570.5Z" fill="#FBF960"/>
<path d="M493.8,596.8L505,596.8L505,608L493.8,608Z" fill="#FBF960"/>
<path d="M478.7,605.5C479.8,603.3 483.8,603.5 485,605.5C486.3,607.6 487.3,615.8 486.3,618.1C485.2,620.3 480,621.4 478.7,619.3C477.5,617.2 477.7,607.8 478.7,605.5Z" fill="#FBF960"/>
<path d="M716.4,581.8C717.4,579.3 721.6,578.4 723.9,578C726.2,577.6 729.1,575.9 730.2,579.3C731.2,582.6 731.4,594.8 730.2,598C728.9,601.3 724.7,599.4 722.7,598.5C720.6,597.7 718.7,595.8 717.6,593C716.6,590.2 715.4,584.3 716.4,581.8Z" fill="#FBF960"/>
<path d="M318.9,356.3C319.9,353.6 324.7,352.8 326.4,355.1C328.1,357.3 329.9,367.4 328.9,370.1C327.9,372.8 321.8,373.6 320.1,371.3C318.5,369 317.8,359 318.9,356.3Z" fill="#FC8D33"/>
<path d="M285.1,340C287.2,339.2 295.5,340.9 300.1,342.5C304.7,344.2 309.5,346.7 312.6,350.1C315.8,353.4 318.5,359.2 318.9,362.6C319.3,365.9 317,368.4 315.1,370.1C313.3,371.7 309.1,370.7 307.6,372.6C306.2,374.4 308,379.9 306.4,381.3C304.7,382.8 298.9,383.6 297.6,381.3C296.4,379 299.7,371.5 298.9,367.6C298,363.6 294.5,360.9 292.6,357.6C290.7,354.2 288.9,350.5 287.6,347.5C286.4,344.6 283,340.9 285.1,340Z" fill="#E3141A"/>
<path d="M268.9,353.8C270.8,353.3 280,356.1 280.6,357.6C281.2,359 274.6,362.1 272.6,362.6C270.6,363.1 269.5,362 268.9,360.6C268.2,359.1 266.9,354.3 268.9,353.8Z" fill="#E3141A"/>
<path d="M108.8,740C109.6,737.9 111.5,735.2 115,733.8C118.6,732.3 125.4,731 130,731.3C134.6,731.5 139.2,732.3 142.5,735C145.9,737.7 147.5,746.7 150,747.5C152.5,748.4 153.8,741.5 157.5,740C161.3,738.6 169.4,737.5 172.6,738.8C175.7,740 177.1,744.4 176.3,747.5C175.5,750.6 171.1,755 167.6,757.5C164,760 158.8,762.1 155,762.5C151.3,762.9 148.4,761.7 145,760C141.7,758.4 139.2,754.2 135,752.5C130.9,750.9 124.2,751.1 120,750C115.9,749 111.9,747.9 110,746.3C108.1,744.6 107.9,742.1 108.8,740Z" fill="#E3141A"/>
<path d="M173.8,752.5C174.6,749.4 176.9,747.3 180.1,746.3C183.2,745.2 189.9,744.8 192.6,746.3C195.3,747.7 195.9,752.1 196.3,755C196.7,757.9 196.9,761.9 195.1,763.8C193.2,765.7 188.4,766.1 185.1,766.3C181.7,766.5 176.9,767.3 175.1,765C173.2,762.7 173,755.6 173.8,752.5Z" fill="#E3141A"/>
<path d="M210.1,750C210.3,746.3 212.6,739 213.8,735C215.1,731 216.1,725.8 217.6,726.3C219,726.7 221.3,733.6 222.6,737.5C223.8,741.5 225.1,746.7 225.1,750C225.1,753.4 224.7,756.3 222.6,757.5C220.5,758.8 214.7,758.8 212.6,757.5C210.5,756.3 209.9,753.8 210.1,750Z" fill="#E3141A"/>
<path d="M192.6,772.5C193.2,769.4 194.7,765 197.6,762.5C200.5,760 207.2,757.1 210.1,757.5C213,757.9 214.7,762.1 215.1,765C215.5,767.9 211.3,772.9 212.6,775C213.8,777.1 220.7,775.5 222.6,777.5C224.5,779.6 221.8,784.6 223.8,787.5C225.9,790.5 232.2,793.8 235.1,795C238,796.3 240.3,792.1 241.4,795C242.4,798 243.2,810.1 241.4,812.6C239.5,815.1 233.6,811.7 230.1,810.1C226.5,808.4 223,805.1 220.1,802.6C217.2,800.1 215.5,797.5 212.6,795C209.7,792.5 205.7,789.8 202.6,787.5C199.4,785.2 195.5,783.8 193.8,781.3C192.2,778.8 191.9,775.7 192.6,772.5Z" fill="#E3141A"/>
<path d="M165.1,780C165.5,778.3 168.2,775.2 170.1,775C171.9,774.8 175.7,777.1 176.3,778.8C176.9,780.5 175.3,783.9 173.8,785C172.3,786.2 169,786.4 167.6,785.5C166.1,784.7 164.6,781.8 165.1,780Z" fill="#E3141A"/>
<path d="M127.5,785.5C126.7,783.6 130.9,773.8 132.5,773.8C134.2,773.8 138.4,783.6 137.5,785.5C136.7,787.5 128.4,787.5 127.5,785.5Z" fill="#E3141A"/>
<path d="M182.6,815.1C183.6,812.3 186.9,811.7 190.1,811.3C193.2,810.9 198.9,811.1 201.3,812.6C203.7,814 203.9,815.9 204.3,820.1C204.7,824.2 205.4,833.8 203.8,837.6C202.3,841.3 196.7,843.4 195.1,842.6C193.4,841.7 195.7,835.1 193.8,832.6C191.9,830.1 185.7,830.5 183.8,827.6C181.9,824.6 181.5,817.8 182.6,815.1Z" fill="#E3141A"/>
</g>
<line x1="242.55" y1="14" x2="242.55" y2="1116" stroke="#6a6a6a" stroke-width="0.8" opacity="0.75"/>
<line x1="727.25" y1="14" x2="727.25" y2="1116" stroke="#6a6a6a" stroke-width="0.8" opacity="0.75"/>
<line x1="13" y1="418.4" x2="1179" y2="418.4" stroke="#aaa" stroke-width="0.6" opacity="0.2"/>
<line x1="13" y1="899.1" x2="1179" y2="899.1" stroke="#6a6a6a" stroke-width="0.8" opacity="0.75"/>
<g fill="none" stroke="#B22CDC" stroke-width="1.4" stroke-linejoin="round" stroke-linecap="round">
<path d="M17.2,65.2L75,107.2L92.8,112.5L115.3,119.6L124.7,128.4L124.3,138.8L109.7,158L72.2,205.3L56.2,206.6L56,212L57.5,220L52.5,235L47.5,243.5L35,248.5L25,250L14,248.5"/>
<path d="M92.8,112.5L100.3,109.3L120,108.8L136,117.8L144.4,126.6L148.1,139.7L136,151.9L129.4,165L127.5,176.2L120,182.8L110.6,186L103.1,193.1L97.5,204.4L90,211L77.5,215L57.5,218.5"/>
<path d="M109.7,158L127.5,168.8"/>
<path d="M127.5,176.2L148.1,167.4L157.5,155L168.8,149.4L177.8,147.6"/>
<path d="M56.4,710.6L112.8,725.8L154,734L185.6,739L220,731.2L244.8,724.4L279.1,711.5"/>
<path d="M13.8,725.8L68.8,738.1L110,747.2L143,754.6L176,761L198,764.8L211.8,775.2L228.2,791.8L247.5,813.8L272.2,849.5L275,866L276.4,899L277.8,937.5L279.1,965L284,988L298,1020L313.2,1050L302.8,1062L310,1092L316,1108"/>
<path d="M52.2,758.8L110,770.6L156.8,780.2L192.5,787.6L204.9,791.8"/>
<path d="M112.8,725.8L110,770.6"/>
<path d="M130.6,730.7L127.9,749.1"/>
<path d="M160.9,756L156.8,780.2"/>
<path d="M185.6,739L178.8,761"/>
<path d="M217.2,731.2L211.8,775.2L202,790.4"/>
<path d="M361.6,882.5L330,907.2L305.2,923.8L291.5,934.8L277.8,937.5L258.5,940.2L242,945.8L220,967.8L200,984L154,1020L126,1040.8L116,1038L96,1080"/>
<path d="M154,1020L170,1038L188,1056L202,1074L199.2,1084.8L188,1084.8L186,1100L182,1103.2L76,1076"/>
<path d="M170,1038L148,1111.2L76,1094.8"/>
<path d="M118,1106L116,1117"/>
<path d="M188,1056L208,1034.8"/>
<path d="M284,988L264,1010L240,1030L223.2,1052L230,1072L242,1092L254,1114"/>
<path d="M282,1030.8L298,1024.8"/>
<path d="M254,1114L280,1104L310,1092"/>
<path d="M304,1117L344,1097.2L372,1084"/>
<path d="M242,990L242.8,982L260,976L278.8,970"/>
</g>
<g fill="none" stroke="#111" stroke-width="1" stroke-linejoin="round">
<path d="M171.9,784.9L166.4,808.2L173.2,819.2L187,830.2L196.6,837.1"/>
<path d="M200.8,790.4L206.2,794L213.1,804.1L220,811"/>
</g>
<path d="M6.1,7.25H1594" stroke="#111" stroke-width="1.6" fill="none"/><path d="M7.0,6.5V1124.4" stroke="#454545" stroke-width="1.9" fill="none"/><path d="M1593.4,6.5V1124.4" stroke="#3a3a3a" stroke-width="1.1" fill="none"/><path d="M6.1,1123.9H1594" stroke="#333" stroke-width="1.1" fill="none"/>
<rect x="13.6" y="14.1" width="1165.6" height="1102.6" fill="none" stroke="#666" stroke-width="1.2"/>
<rect x="1186.3" y="14.4" width="396.2" height="1099.6" fill="none" stroke="#161616" stroke-width="1.2"/>
<line x1="1186.3" y1="151.5" x2="1582.5" y2="151.5" stroke="#161616" stroke-width="1.15"/>
<line x1="1186.3" y1="262.0" x2="1582.5" y2="262.0" stroke="#161616" stroke-width="1.15"/>
<line x1="1186.3" y1="311.5" x2="1582.5" y2="311.5" stroke="#161616" stroke-width="1.15"/>
<line x1="1186.3" y1="391.3" x2="1582.5" y2="391.3" stroke="#161616" stroke-width="1.15"/>
<line x1="1186.3" y1="847.4" x2="1582.5" y2="847.4" stroke="#161616" stroke-width="1.15"/>
<line x1="1186.3" y1="1053.4" x2="1582.5" y2="1053.4" stroke="#161616" stroke-width="1.15"/>
<line x1="1186.3" y1="1108.2" x2="1582.5" y2="1108.2" stroke="#161616" stroke-width="1.15"/>
<rect x="1269.7" y="358" width="223.7" height="6.6" fill="#fff" stroke="#000" stroke-width="0.6"/>
<rect x="1269.7" y="358" width="13.7" height="6.6" fill="#000"/>
<rect x="1297.1" y="358" width="14.3" height="6.6" fill="#000"/>
<rect x="1325.1" y="358" width="56.6" height="6.6" fill="#000"/>
<rect x="1437.7" y="358" width="55.7" height="6.6" fill="#000"/>
<path d="M1229.3999999999999,329.3L1234.0,346.20000000000005L1250.3,350.6L1234.0,355.0L1229.3999999999999,371.8L1225.1999999999998,355.0L1208.5,350.6L1225.1999999999998,346.20000000000005Z" fill="#fff" stroke="#000" stroke-width="0.6" stroke-linejoin="miter"/>
<path d="M1229.3999999999999,329.3L1229.6,350.6L1225.1999999999998,346.20000000000005Z M1250.3,350.6L1229.6,350.6L1234.0,346.20000000000005Z M1229.3999999999999,371.8L1229.6,350.6L1234.0,355.0Z M1208.5,350.6L1229.6,350.6L1225.1999999999998,355.0Z" fill="#000"/>
<line x1="1193.4" y1="438.7" x2="1217.2" y2="438.7" stroke="#222" stroke-width="0.8" stroke-dasharray="3.2 1.2"/>
<line x1="1193.4" y1="452.5" x2="1217.2" y2="452.5" stroke="#eee" stroke-width="0.8"/>
<line x1="1193.4" y1="466.4" x2="1217.2" y2="466.4" stroke="#555" stroke-width="0.7" stroke-dasharray="3.2 1.2"/>
<line x1="1193.4" y1="497.9" x2="1217.2" y2="497.9" stroke="#C8643C" stroke-width="1.3"/>
<line x1="1193.4" y1="511.0" x2="1217.2" y2="511.0" stroke="#F0A030" stroke-width="0.9"/>
<line x1="1193.4" y1="524.6" x2="1217.2" y2="524.6" stroke="#E6DC78" stroke-width="0.9"/>
<line x1="1193.4" y1="538.0" x2="1217.2" y2="538.0" stroke="#C8A0E6" stroke-width="0.9"/>
<line x1="1193.4" y1="551.4" x2="1217.2" y2="551.4" stroke="#999" stroke-width="0.8"/>
<rect x="1193.2" y="578.3" width="24" height="11.6" fill="#2A90CA"/>
<rect x="1193.2" y="592.0" width="24" height="11.6" fill="#9EC29B"/>
<rect x="1193.2" y="605.3" width="24" height="11.6" fill="#FBF960"/>
<rect x="1193.2" y="618.4" width="24" height="11.6" fill="#FC8D33"/>
<rect x="1193.2" y="632.0" width="24" height="11.6" fill="#E3141A"/>
<rect x="1236.7" y="683.6" width="107.1" height="31.5" fill="#0070C0"/>
<rect x="1236.7" y="715.1" width="107.1" height="31.0" fill="#669A00"/>
<rect x="1236.7" y="746.1" width="107.1" height="31.2" fill="#FFD966"/>
<rect x="1236.7" y="777.3" width="107.1" height="31.0" fill="#FF6600"/>
<rect x="1236.7" y="808.3" width="107.1" height="30.9" fill="#C00000"/>
<rect x="1236.7" y="670.5" width="296.6" height="168.7" fill="none" stroke="#222" stroke-width="0.9"/>
<line x1="1236.7" y1="683.6" x2="1533.3" y2="683.6" stroke="#444" stroke-width="0.6"/>
<line x1="1236.7" y1="715.1" x2="1533.3" y2="715.1" stroke="#444" stroke-width="0.6"/>
<line x1="1236.7" y1="746.1" x2="1533.3" y2="746.1" stroke="#444" stroke-width="0.6"/>
<line x1="1236.7" y1="777.3" x2="1533.3" y2="777.3" stroke="#444" stroke-width="0.6"/>
<line x1="1236.7" y1="808.3" x2="1533.3" y2="808.3" stroke="#444" stroke-width="0.6"/>
<line x1="1343.8" y1="670.5" x2="1343.8" y2="839.2" stroke="#444" stroke-width="0.6"/>
<rect x="1268.5" y="873.3" width="249.3" height="174.8" fill="#BEEDCB" stroke="#999" stroke-width="0.5"/>
<g fill="none" stroke="#4a6a55" stroke-width="0.45" clip-path="url(#locclip)">
<clipPath id="locclip"><rect x="1268.5" y="873.3" width="249.3" height="174.8"/></clipPath>
<path d="M1268.3,883.8C1269.4,883.9 1280,885.5 1281.6,884.6C1283.2,883.8 1286.9,874.7 1287.4,873.8"/>
<path d="M1286.6,873.8C1287.2,875.1 1292.3,887.5 1293.3,889.6C1294.2,891.7 1296.3,897.3 1297.4,898.8C1298.5,900.2 1307,905.8 1306.6,907.1C1306.1,908.3 1293.7,912.5 1291.6,913.7C1289.5,914.9 1282.9,921.7 1281.6,921.2C1280.4,920.7 1277.7,908.3 1276.6,907.9C1275.6,907.5 1269.8,915.5 1269.1,916.2"/>
<path d="M1297.4,898.8C1297.5,898 1298.4,890.9 1299.1,889.6C1299.7,888.4 1303,884.1 1304.9,883.8C1306.8,883.5 1319.6,886.3 1321.5,886.3C1323.5,886.3 1327.2,884.7 1328.2,883.8C1329.1,882.9 1332.2,876.4 1333.2,875.5C1334.1,874.6 1339.2,873.5 1339.8,873.3"/>
<path d="M1328.2,883.8C1328.9,884.1 1335.2,886.5 1336.5,888C1337.7,889.4 1342.2,899.6 1343.1,901.3C1344.1,902.9 1347.7,907.3 1348.1,907.9"/>
<path d="M1339.8,873.3C1341.7,874.1 1359.9,881.9 1363.1,883C1366.3,884 1376.7,885.6 1378,886.3C1379.4,887 1378.8,890.6 1379.7,891.3C1380.6,892 1387.9,893.8 1388.8,894.6C1389.8,895.4 1391,900.5 1391.3,901.3C1391.7,902 1392.9,903.5 1393,903.7"/>
<path d="M1306.6,907.1C1308.2,907.8 1323.7,914.6 1326.5,916.2C1329.3,917.8 1338.3,925.1 1339.8,926.2C1341.3,927.3 1344.1,929.4 1344.8,929.5C1345.5,929.7 1347.8,928 1348.1,927.9"/>
<path d="M1276.6,907.9C1277,909 1280.2,919.7 1281.6,921.2C1283,922.7 1290.9,925.3 1293.3,926.2C1295.6,927.1 1308.6,931 1309.9,932C1311.1,933 1307.7,936.9 1308.2,937.8C1308.8,938.7 1315,942.1 1316.5,942.8C1318,943.6 1324.8,946.4 1326.5,947C1328.2,947.5 1335.1,949.4 1336.5,949.5C1337.9,949.5 1342.2,947.8 1343.1,947.8C1344.1,947.8 1346.7,949.1 1348.1,949.5C1349.5,949.8 1358.5,951.5 1359.8,952C1361,952.4 1363.2,953.8 1363.1,954.5C1362.9,955.1 1358.4,958.6 1358.1,959.4C1357.8,960.3 1359.1,963.2 1359.8,964.4C1360.4,965.7 1365,973.3 1366.4,974.4C1367.8,975.5 1374.7,977.6 1376.4,977.7C1378,977.9 1385.3,976.8 1386.4,976.1C1387.4,975.4 1388.6,970 1388.8,969.4"/>
<path d="M1281.6,921.2C1282.4,923 1290.5,940.2 1291.6,942.8C1292.6,945.4 1293.8,951.3 1294.1,952.8C1294.4,954.3 1295.3,959.9 1294.9,961.1C1294.6,962.3 1291.2,967.1 1289.9,967.8C1288.7,968.4 1281.7,969.1 1280,969.4C1278.2,969.7 1270,970.9 1269.1,971.1"/>
<path d="M1269.1,971.1C1269.8,971.4 1275.6,973.6 1276.6,974.4C1277.7,975.2 1280.5,980.2 1281.6,981.1C1282.7,981.9 1288.3,984 1289.9,984.4C1291.6,984.8 1299.5,985.6 1301.6,986C1303.6,986.5 1312.8,988.5 1314.9,989.4C1316.9,990.2 1324.6,995 1326.5,996C1328.4,997 1336.3,1000.3 1338.1,1001C1339.9,1001.7 1346.3,1003.8 1348.1,1004.3C1349.9,1004.9 1357.7,1007 1359.8,1007.7C1361.8,1008.3 1371.1,1011.2 1373.1,1011.8C1375,1012.4 1382.2,1014.9 1383,1015.1"/>
<path d="M1326.5,947C1326.4,947.9 1325.5,956 1325.7,957.8C1325.8,959.5 1328.1,966.1 1328.2,967.8C1328.2,969.4 1326.8,976.4 1326.5,977.7C1326.2,979 1323.7,982.7 1324,983.5C1324.3,984.4 1328.4,986.9 1329.8,987.7C1331.3,988.5 1340.1,992.4 1341.5,992.7C1342.8,993 1346.2,991.7 1346.5,991C1346.7,990.3 1343.8,985.2 1344,984.4C1344.1,983.5 1347.2,981.9 1348.1,981.1C1349,980.2 1353.8,975.1 1354.8,974.4C1355.7,973.7 1358.8,972.7 1359.8,972.7C1360.7,972.7 1365.8,974.3 1366.4,974.4"/>
<path d="M1301.6,986C1301.4,987 1299.2,995.9 1299.1,997.7C1298.9,999.5 1300.2,1006.3 1299.9,1007.7C1299.6,1009 1296.3,1012.8 1295.7,1014.3C1295.2,1015.8 1293.3,1024.6 1293.3,1025.9C1293.2,1027.3 1294.2,1029.8 1294.9,1030.9C1295.6,1032 1300.3,1037.9 1301.6,1039.2C1302.8,1040.6 1308.6,1046 1309.9,1046.7C1311.1,1047.5 1316,1048.2 1316.5,1048.4"/>
<path d="M1272.5,1016.8C1272.5,1017.9 1271.2,1029 1272.5,1030.1C1273.8,1031.2 1286.4,1030.3 1288.3,1030.1C1290.1,1029.9 1294.4,1027.8 1294.9,1027.6"/>
<path d="M1326.5,996C1325.9,995.6 1319.6,991.8 1319.9,991C1320.1,990.3 1329,987.2 1329.8,986.9"/>
<path d="M1338.1,1001C1337.6,1001.4 1332.5,1005.4 1331.5,1006C1330.5,1006.5 1327.4,1007 1326.5,1007.7C1325.6,1008.3 1320.9,1013.1 1320.7,1014.3C1320.5,1015.5 1324.2,1021 1324,1022.6C1323.8,1024.3 1318.5,1032.4 1318.2,1034.3C1317.9,1036.1 1320.8,1043 1320.7,1044.2C1320.5,1045.4 1316.9,1048 1316.5,1048.4"/>
<path d="M1348.1,1004.3C1348.2,1005 1348.5,1011.5 1348.9,1012.6C1349.4,1013.7 1352.7,1016.5 1353.1,1017.6C1353.5,1018.7 1354.2,1024.3 1353.9,1025.9C1353.7,1027.6 1350.6,1035.7 1349.8,1037.6C1348.9,1039.4 1344.4,1047.5 1344,1048.4"/>
<path d="M1366.4,974.4C1366.7,975.2 1368.9,982.7 1369.7,984.4C1370.6,986 1375.1,993.4 1376.4,994.4C1377.6,995.3 1383.7,995 1384.7,996C1385.7,997 1388.2,1004.4 1388,1006C1387.9,1007.6 1383,1013.7 1383,1015.1C1383,1016.5 1387.3,1021 1388,1022.6C1388.7,1024.2 1390.9,1032.6 1391.3,1034.3C1391.8,1035.9 1393,1041.4 1393,1042.6C1393,1043.7 1391.5,1047.9 1391.3,1048.4"/>
<path d="M1388.8,969.4C1388.8,970.7 1388.6,982 1388.8,984.4C1389.1,986.7 1390.9,995.6 1391.3,997.7C1391.8,999.8 1394.1,1007.2 1394.7,1009.3C1395.2,1011.4 1397.7,1020.3 1398,1022.6C1398.3,1025 1398.1,1035.4 1398,1037.6C1397.8,1039.7 1396.5,1047.5 1396.3,1048.4"/>
<path d="M1391.3,989.4C1391.5,990.3 1393.4,999.6 1393,1001C1392.6,1002.4 1386.9,1005.6 1386.4,1006"/>
<path d="M1394.7,991.9C1394.9,991.9 1397.5,991.1 1398,991.9C1398.5,992.6 1400.1,999.4 1400.5,1001C1400.9,1002.6 1402.5,1009.7 1403,1011C1403.5,1012.2 1403.3,1015.5 1406.3,1016C1409.3,1016.4 1436.6,1017.5 1439.6,1016.3C1442.5,1015 1441.3,1003.2 1441.2,1001C1441.1,998.8 1440,990.6 1438.7,989.4C1437.5,988.1 1428,987 1426.3,986C1424.5,985.1 1419.6,978 1417.9,977.7C1416.3,977.4 1407.5,983 1406.3,982.7C1405.1,982.4 1404.2,975.5 1403.8,974.4C1403.4,973.3 1401.5,969.8 1401.3,969.4"/>
<path d="M1415.4,1016C1415.4,1017.2 1414.9,1028.2 1414.6,1030.9C1414.3,1033.6 1412.3,1046.9 1412.1,1048.4"/>
<path d="M1401.3,1048.4C1401.2,1047.1 1399.4,1034 1400.5,1032.6C1401.5,1031.2 1412.7,1031.8 1413.8,1031.8"/>
<path d="M1393,903.7C1393.3,904.4 1395.8,910.1 1396.3,911.2C1396.9,912.3 1398.8,916.5 1399.7,917C1400.5,917.6 1405.6,917.3 1406.3,917.9C1407,918.5 1408.2,923.4 1408,924.5C1407.7,925.6 1403.6,929.7 1403,931.2C1402.4,932.7 1400.6,940.9 1400.5,942.8C1400.4,944.8 1402.2,952.9 1402.1,954.5C1402.1,956 1399.7,960 1399.7,961.1C1399.6,962.2 1401.2,967.2 1401.3,967.8"/>
<path d="M1348.1,922.9C1349.1,922.7 1357.4,921.4 1359.8,921.2C1362.1,921 1373.6,920 1376.4,919.9C1379.1,919.7 1391.3,919.4 1393,919.5C1394.7,919.6 1396,921.9 1396.3,921.2C1396.6,920.5 1396.3,912.1 1396.3,911.2"/>
<path d="M1353.9,924.5C1354.1,925.4 1355.7,932.8 1355.6,934.5C1355.5,936.2 1353.4,943.2 1353.1,944.5C1352.8,945.7 1351.6,949 1351.4,949.5"/>
<path d="M1383,940.3C1383.7,940.1 1390,937.8 1391.3,937.8C1392.7,937.8 1398.8,939.8 1399.7,940.3C1400.5,940.9 1400.9,944.1 1401,944.5"/>
<path d="M1383,940.3C1383.2,940.9 1384.3,946.6 1384.7,947.8C1385,949 1387.3,953.6 1387.2,954.5C1387,955.4 1383.9,957.9 1383,958.6C1382.1,959.3 1377.8,962 1376.4,962.8C1375,963.5 1367.6,967.3 1366.4,967.8C1365.2,968.2 1361.8,968.5 1361.4,968.6"/>
<path d="M1383.9,944.5C1383.2,945 1377.8,949.9 1376.4,951.1C1374.9,952.3 1367.6,957.6 1366.4,958.6C1365.2,959.6 1362.8,962 1362.2,962.8C1361.7,963.5 1360,967.3 1359.8,967.8"/>
<path d="M1408,924.5C1408.5,924 1413.6,919.3 1414.6,917.9C1415.6,916.5 1417.5,908.4 1419.6,907.9C1421.7,907.4 1438,911.2 1439.6,912.1C1441.1,912.9 1439.1,916.6 1438.7,917.9C1438.3,919.2 1435.5,926.7 1434.6,927.9C1433.7,929 1429.2,931.9 1427.9,932C1426.7,932.1 1420.8,929.3 1419.6,929.5C1418.4,929.7 1413.4,933.5 1413,934.5C1412.5,935.5 1414.5,940.6 1414.6,941.2"/>
<path d="M1401.3,873.8C1401.7,874.7 1406.3,882.9 1406.3,884.6C1406.3,886.4 1402.1,893.4 1401.3,894.6C1400.5,895.8 1397.2,898.3 1396.3,898.8C1395.5,899.2 1391.8,899.5 1391.3,899.6"/>
<path d="M1406.3,884.6C1407.4,884.6 1417.9,883.4 1419.6,883.8C1421.3,884.2 1425.6,888.6 1426.3,889.6C1426.9,890.7 1427.2,895.4 1427.9,896.3C1428.6,897.2 1433.6,899.1 1434.6,900.4C1435.5,901.7 1439.1,911.1 1439.6,912.1"/>
<path d="M1419.6,883.8C1419.9,883.3 1421.8,878.7 1422.9,878C1424,877.3 1431.8,875.8 1432.9,875.5C1434,875.1 1435.9,874 1436.2,873.8"/>
<path d="M1439.6,912.1C1439.8,911.4 1442.7,905.6 1442.9,904.6C1443,903.5 1440.5,900.8 1441.2,899.6C1441.9,898.3 1450.1,891 1451.2,889.6C1452.3,888.2 1453.8,884.3 1454.5,883C1455.2,881.6 1459.1,874.6 1459.5,873.8"/>
<path d="M1436.2,873.8C1436.5,874.2 1438.3,877.4 1439.6,878C1440.8,878.5 1449.6,880.6 1451.2,880.5C1452.8,880.3 1458,876.7 1458.7,876.3"/>
<path d="M1439.6,912.1C1440.7,912.3 1451.7,914.1 1452.9,914.6C1454,915 1454.1,917.7 1453.7,917.9C1453.3,918 1448.3,916.4 1447.9,916.2"/>
<path d="M1459.5,873.8C1459.9,874.2 1462.8,877.4 1464.5,878C1466.2,878.6 1477.9,881.3 1479.5,881.3C1481,881.3 1482.3,878.6 1482.8,878C1483.3,877.4 1485.1,874.2 1485.3,873.8"/>
<path d="M1458.7,886.3C1459.4,886.6 1465.3,889.2 1467.8,889.6C1470.4,890 1487.1,891.3 1489.4,891.3C1491.8,891.3 1493.7,889.5 1496.1,889.6C1498.4,889.8 1515.9,892.7 1517.7,892.9"/>
<path d="M1458.7,886.3C1458.6,887.1 1457.5,895 1457.8,896.3C1458.2,897.5 1463.1,900 1462.8,901.3C1462.5,902.5 1455.2,910.4 1454.5,911.2"/>
<path d="M1496.1,889.6C1496,891.6 1495,910.5 1495.2,912.9C1495.5,915.2 1498.9,917 1499.4,917.9C1499.9,918.7 1499.8,921.8 1501.1,922.9C1502.3,924 1513,930.5 1514.4,931.2C1515.7,931.9 1517.4,931.2 1517.7,931.2"/>
<path d="M1452.9,914.6C1454,914.3 1463.8,911.8 1466.2,911.2C1468.5,910.6 1478.7,906.9 1481.1,907.1C1483.5,907.2 1494.1,912.4 1495.2,912.9"/>
<path d="M1481.1,907.1C1480.7,908.1 1477.8,918.6 1476.1,919.5C1474.5,920.4 1462.8,917.3 1461.2,917.9C1459.5,918.4 1457,925.6 1456.2,926.2C1455.3,926.8 1451.9,925.5 1451.2,925.4C1450.5,925.2 1448.1,924.6 1447.9,924.5"/>
<path d="M1447.9,924.5C1448,925.1 1449.8,930.2 1449.5,931.2C1449.2,932.1 1444.7,935.1 1444.5,936.2C1444.4,937.3 1446.8,943 1447.9,944.5C1449,946 1457.3,953.3 1457.8,954.5C1458.4,955.6 1454.8,958.3 1454.5,958.6"/>
<path d="M1456.2,926.2C1456.3,926.9 1456.6,933.4 1457.8,934.5C1459.1,935.6 1469.8,938.5 1471.1,939.5C1472.5,940.5 1472.7,945.3 1474.5,946.1C1476.3,947 1489.1,948.8 1492.8,949.5C1496.4,950.1 1515.6,953.3 1517.7,953.6"/>
<path d="M1414.6,941.2C1415,941.7 1418.2,947 1419.6,947.8C1421,948.6 1429.3,950.4 1431.2,951.1C1433.2,951.8 1440.9,955.5 1442.9,956.1C1444.8,956.7 1453.6,956.3 1454.5,958.6C1455.4,961 1454,981.8 1453.7,984.4C1453.4,986.9 1451.4,988.9 1451.2,989.4"/>
<path d="M1416.3,934.5C1417.1,935.6 1424.6,945.6 1426.3,947.8C1427.9,950 1434.8,958.7 1436.2,961.1C1437.6,963.5 1442,973.8 1442.9,976.1C1443.7,978.3 1445.5,986.6 1446.2,987.7C1446.9,988.8 1450.8,989.2 1451.2,989.4"/>
<path d="M1414.6,941.2C1414.9,942.3 1417,952.5 1417.9,954.5C1418.9,956.4 1424.7,962.5 1426.3,964.4C1427.8,966.4 1435,976.1 1436.2,977.7C1437.5,979.4 1440.4,983.5 1441.2,984.4C1442,985.2 1445.8,987.4 1446.2,987.7"/>
<path d="M1517.7,953.6C1516.3,953.8 1503.8,955.6 1501.1,956.1C1498.3,956.6 1486.2,958.6 1484.4,959.4C1482.6,960.3 1480.8,965.4 1479.5,966.1C1478.1,966.8 1469.8,968 1467.8,967.8C1465.9,967.5 1457.3,963.5 1456.2,962.8C1455.1,962 1454.7,959 1454.5,958.6"/>
<path d="M1517.7,953.6C1516.7,954.5 1508.1,963.1 1506.1,964.4C1504,965.7 1494.8,968.6 1492.8,969.4C1490.7,970.2 1482.6,973.4 1481.1,974.4C1479.6,975.4 1476.3,980.2 1474.5,981.1C1472.7,981.9 1460.9,983.7 1459.5,984.4C1458.1,985.1 1457.4,988.5 1457.8,989.4C1458.3,990.2 1463.9,993.9 1464.5,994.4"/>
<path d="M1517.7,953.6C1517,954.8 1510.9,966.2 1509.4,967.8C1507.9,969.3 1501.2,972 1499.4,972.7C1497.6,973.4 1489.3,975.1 1487.8,976.1C1486.2,977 1482.4,983.1 1481.1,984.4C1479.9,985.6 1474.2,990.2 1472.8,991C1471.4,991.9 1465.2,994.1 1464.5,994.4"/>
<path d="M1517.7,979.4C1517,979.7 1510.8,981.7 1509.4,982.7C1508,983.7 1502.4,989.5 1501.1,991C1499.7,992.5 1494.3,999.8 1492.8,1001C1491.2,1002.2 1483.9,1004.6 1482.8,1006C1481.7,1007.4 1479.5,1016.6 1479.5,1017.6C1479.5,1018.7 1481.7,1018.7 1482.8,1018.5C1483.9,1018.2 1491.4,1015.5 1492.8,1014.3C1494.1,1013.1 1498.2,1006.4 1499.4,1004.3C1500.6,1002.2 1507,990.6 1507.7,989.4"/>
<path d="M1507.7,967.8C1508,968.4 1510.9,974.4 1511,976.1C1511.2,977.7 1509.8,985.6 1509.4,987.7C1509,989.8 1506.5,999.2 1506.1,1001C1505.6,1002.8 1505.4,1007.9 1504.4,1009.3C1503.4,1010.7 1495.2,1016.1 1494.4,1017.6C1493.6,1019.1 1494.4,1026.8 1494.4,1027.6"/>
<path d="M1451.2,989.4C1451.9,989.8 1458.1,993.1 1459.5,994.4C1460.9,995.6 1466.7,1002.9 1467.8,1004.3C1468.9,1005.7 1472.8,1009.9 1472.8,1011C1472.8,1012.1 1468.9,1016.8 1467.8,1017.6C1466.7,1018.5 1460.5,1020.5 1459.5,1021C1458.5,1021.4 1456.5,1022.5 1456.2,1022.6"/>
<path d="M1451.2,989.4C1451.3,990.3 1452.6,999.1 1452.9,1001C1453.1,1002.9 1454.1,1011 1454.5,1012.6C1454.9,1014.3 1457.6,1020.3 1457.8,1021"/>
<path d="M1439.6,1016.3C1439.8,1016.8 1441.5,1021.3 1442.9,1021.8C1444.3,1022.2 1454.2,1021.7 1456.2,1021.8C1458.1,1021.9 1464.5,1022.8 1466.2,1022.6C1467.8,1022.5 1473.8,1020.5 1476.1,1020.1C1478.5,1019.8 1492.9,1018.6 1494.4,1018.5"/>
<path d="M1442.9,1027.6C1445.2,1027.5 1468.4,1025.4 1471.1,1025.9C1473.9,1026.5 1475.2,1033.8 1476.1,1034.3C1477.1,1034.7 1481.1,1031.3 1482.8,1030.9C1484.4,1030.5 1493.2,1029.5 1496.1,1029.3C1499,1029 1515.9,1027.7 1517.7,1027.6"/>
<path d="M1442.9,1032.6C1444.3,1032.5 1457.3,1031.9 1459.5,1031.8C1461.7,1031.6 1468.6,1031 1469.5,1030.9"/>
<path d="M1442.9,1027.6C1442.8,1028.4 1442.3,1035.8 1442,1037.6C1441.8,1039.3 1439.8,1047.5 1439.6,1048.4"/>
<path d="M1442,1037.6C1443.5,1037.6 1457.6,1037 1459.5,1037.6C1461.4,1038.1 1464.2,1043.3 1464.5,1044.2C1464.8,1045.1 1463,1048 1462.8,1048.4"/>
<path d="M1494.4,1027.6C1494.6,1028.6 1496,1037.5 1496.1,1039.2C1496.1,1041 1495.3,1047.6 1495.2,1048.4"/>
<path d="M1476.1,1034.3C1476.3,1034.9 1476.7,1042 1477.8,1042.6C1478.9,1043.1 1487.9,1041.2 1489.4,1040.9C1491,1040.6 1495.5,1039.4 1496.1,1039.2"/>
<path d="M1517.7,1014.3C1517.4,1014.6 1514.5,1016.5 1514.4,1017.6C1514.2,1018.7 1516.4,1025 1516,1027.6C1515.6,1030.2 1509.9,1046.7 1509.4,1048.4"/>
<path d="M1499.4,917.9C1500.8,916.8 1514.5,905.8 1516,904.6C1517.6,903.4 1517.6,903.8 1517.7,903.7"/>
<path d="M1516,904.6C1516,906.4 1515.1,924 1515.2,926.2C1515.3,928.4 1517.5,930.8 1517.7,931.2"/>
<path d="M1489.4,891.3C1489.3,890.6 1488.1,884.4 1487.8,883C1487.4,881.5 1485.5,874.6 1485.3,873.8"/>
</g>
<rect x="1347.5" y="903.5" width="67.9" height="64.6" fill="none" stroke="#D9281E" stroke-width="1.7"/>
<path d="M1388.6,28.1C1391,28.1 1402.8,35.7 1405.1,37.3C1407.5,38.9 1419.6,48.6 1420.7,50.1C1421.8,51.5 1420.7,54 1419.8,56.8C1418.9,59.6 1410.8,85.5 1408.5,88C1406.3,90.5 1391.9,91.2 1389,91.2C1386.1,91.2 1371.3,90.5 1369.1,88C1366.8,85.5 1358.8,59.6 1357.9,56.8C1357.1,54.1 1355.9,51.9 1356.9,50.4C1357.9,49 1369.7,38.9 1372.1,37.3C1374.4,35.6 1386.2,28.1 1388.6,28.1Z" fill="#fff" stroke="#111" stroke-width="1"/>
<path d="M1388.6,30.4C1390.9,30.4 1401.8,37.4 1404,38.9C1406.2,40.4 1417.4,49.5 1418.4,50.8C1419.4,52.1 1418.4,54.5 1417.6,57.1C1416.8,59.7 1409.2,83.7 1407.1,86.1C1405,88.4 1391.6,89.1 1389,89.1C1386.3,89.1 1372.6,88.4 1370.4,86.1C1368.3,83.7 1360.9,59.6 1360.1,57.1C1359.3,54.5 1358.2,52.5 1359.1,51.1C1360.1,49.8 1371.1,40.4 1373.2,38.9C1375.4,37.4 1386.3,30.4 1388.6,30.4Z" fill="none" stroke="#444" stroke-width="0.35"/>
<g font-family="Liberation Serif, serif" font-size="4.7" font-weight="bold" fill="#2a2a3a"><text x="0" y="0" text-anchor="middle" transform="translate(1368.69,57.31) rotate(-69.9)">P</text><text x="0" y="0" text-anchor="middle" transform="translate(1370.14,54.17) rotate(-60.5)">O</text><text x="0" y="0" text-anchor="middle" transform="translate(1372.17,51.20) rotate(-50.8)">L</text><text x="0" y="0" text-anchor="middle" transform="translate(1373.99,49.24) rotate(-43.6)">I</text><text x="0" y="0" text-anchor="middle" transform="translate(1376.05,47.52) rotate(-36.3)">T</text><text x="0" y="0" text-anchor="middle" transform="translate(1378.88,45.76) rotate(-27.3)">E</text><text x="0" y="0" text-anchor="middle" transform="translate(1382.20,44.39) rotate(-17.6)">K</text><text x="0" y="0" text-anchor="middle" transform="translate(1385.83,43.58) rotate(-7.5)">N</text><text x="0" y="0" text-anchor="middle" transform="translate(1388.63,43.40) rotate(0.1)">I</text><text x="0" y="0" text-anchor="middle" transform="translate(1391.56,43.61) rotate(8.0)">K</text><text x="0" y="0" text-anchor="middle" transform="translate(1397.74,45.47) rotate(25.5)">N</text><text x="0" y="0" text-anchor="middle" transform="translate(1400.73,47.21) rotate(34.9)">E</text><text x="0" y="0" text-anchor="middle" transform="translate(1403.49,49.51) rotate(44.6)">G</text><text x="0" y="0" text-anchor="middle" transform="translate(1405.82,52.24) rotate(54.3)">E</text><text x="0" y="0" text-anchor="middle" transform="translate(1407.60,55.21) rotate(63.7)">R</text><text x="0" y="0" text-anchor="middle" transform="translate(1408.68,57.80) rotate(71.3)">I</text></g>
<path d="M1388.6,64 C1384,56.5 1374.5,57 1372.2,64 C1370,71 1374,78 1382.5,79.2 C1380,76 1378.5,72.5 1379.8,68.8 C1381,66 1385,65.5 1388.6,67.5 C1392.2,65.5 1396.2,66 1397.4,68.8 C1398.7,72.5 1397.2,76 1394.7,79.2 C1403.2,78 1407.2,71 1405,64 C1402.7,57 1393.2,56.5 1388.6,64Z" fill="#F2E400" stroke="#222" stroke-width="0.3"/>
<path d="M1385.3,54.8 C1386.5,56.5 1387.6,57.5 1388.6,57.5 C1389.6,57.5 1390.7,56.5 1391.9,54.8 L1392.6,56 C1391.3,58.5 1391,61 1391.6,65.5 L1385.6,65.5 C1386.2,61 1385.9,58.5 1384.6,56Z" fill="#F2E400" stroke="#222" stroke-width="0.3"/>
<path d="M1388.6,49.6 L1394.8,53.6 L1391.8,55 L1388.6,57 L1385.4,55 L1382.4,53.6Z" fill="#2B1C8A"/>
<circle cx="1388.6" cy="53.3" r="1.65" fill="#fff"/>
<path d="M1379.4,67.6 L1397.8,67.6 L1388.6,79.6Z" fill="#fff" stroke="#333" stroke-width="0.5"/>
<path d="M1382.4,69.2 L1394.8,69.2 L1388.6,77.4Z" fill="#e8eef0" stroke="#667" stroke-width="0.3"/>
<rect x="1382.9" y="79.4" width="11.4" height="2.2" fill="#555"/>
<rect x="1382.5" y="81.4" width="12.2" height="4.2" rx="1" fill="#fff" stroke="#555" stroke-width="0.4"/>
<rect x="1384" y="83.4" width="9.2" height="1.3" fill="#aaa"/>
<path d="M1375.2,77.6 L1380.4,82.6 L1381.2,84.6 L1378.2,83.4 L1376.2,80.6Z M1402,77.6 L1396.8,82.6 L1396,84.6 L1399,83.4 L1401,80.6Z" fill="#C8283C"/>
<path d="M1367.4,159.1L1391.7,176.4L1382.7,205L1352.4,205L1343.4,176.4Z" fill="#3D9FDB" stroke="#E07642" stroke-width="1.1" stroke-linejoin="round"/>
<ellipse cx="1367.4" cy="182.5" rx="9.5" ry="12" fill="#58ACE0"/>
<path d="M1361.6,168.4 C1351.6,174 1349.6,188 1358.4,196.4" fill="none" stroke="#E3C23C" stroke-width="2.6" stroke-linecap="round"/>
<path d="M1372.6,168.8 C1383.6,174 1385.6,187 1377.2,196.4" fill="none" stroke="#9A6A50" stroke-width="2.3" stroke-linecap="round" stroke-dasharray="1.2 0.6"/>
<path d="M1366.4,171 L1367.8,171 L1368.2,192 L1365.8,192Z" fill="#D6A078"/>
<path d="M1367,166 C1364,168.5 1360.5,170 1359.6,177 C1361.5,174 1363.5,173.4 1364.6,174.4 C1363.6,176.4 1363.2,178.6 1363.6,181 C1364.6,178 1366,175.6 1367.1,174.6 C1368.2,175.6 1369.6,178 1370.6,181 C1371,178.6 1370.6,176.4 1369.6,174.4 C1370.7,173.4 1372.7,174 1374.6,177 C1373.7,170 1370.2,168.5 1367,166Z" fill="#12A074"/>
<path d="M1367.1,162 L1367.6,168 L1366.6,168Z" fill="#12A074"/>
<ellipse cx="1367.1" cy="193" rx="4.6" ry="4.2" fill="#7DB48C" opacity="0.9"/>
<path d="M1360.6,189 L1362,192 M1373.4,189 L1372,192" stroke="#12A074" stroke-width="0.8"/>
<path d="M1356.4,199.2 C1362,198 1372,198 1378,199.2 L1378.6,201 C1372,200 1362,200 1355.8,201Z" fill="#eef" stroke="#c9c" stroke-width="0.2"/>
<path d="M1375.6,191 C1377.4,193.6 1377,196 1375.4,197.6" fill="none" stroke="#C83C46" stroke-width="1.2"/>
<clipPath id="shclip"><path d="M1403.3,161.1L1437.9,161.1L1437.9,198.4 L1420.4,206.6 L1403.3,198.4Z"/></clipPath>
<g clip-path="url(#shclip)"><rect x="1403.3" y="161.1" width="34.6" height="50" fill="#fff"/>
<rect x="1403.3" y="168.2" width="34.6" height="16.9" fill="#E3261E"/></g>
<path d="M1406,172.4 C1409,173.6 1412.6,176 1414,180 L1415.6,188.6 L1412.4,187.4 C1409.4,184 1407,178.6 1406,172.4Z" fill="#A8683E"/>
<path d="M1435.2,172.4 C1432.2,173.6 1428.6,176 1427.2,180 L1425.6,188.6 L1428.8,187.4 C1431.8,184 1434.2,178.6 1435.2,172.4Z" fill="#A8683E"/>
<path d="M1412.2,177.4 L1414.4,178 L1415.8,188.8 L1413.4,187.6Z M1429,177.4 L1426.8,178 L1425.4,188.8 L1427.8,187.6Z" fill="#2a1a10"/>
<ellipse cx="1420.6" cy="177.6" rx="2.6" ry="3" fill="#B8743E"/>
<path d="M1416,188 L1425.2,188 L1427,197 L1414.2,197Z" fill="#A05A30"/>
<path d="M1415.6,181.4 L1425.6,181.4 L1426.4,187 C1425,190.6 1422.6,191.4 1420.6,192 C1418.6,191.4 1416.2,190.6 1414.8,187Z" fill="#2C8FD2" stroke="#fff" stroke-width="0.4"/>
<path d="M1409,192.4 C1413,191.4 1416,193.4 1420.6,194.4 C1425.2,193.4 1428.2,191.4 1432.2,192.4 L1431.6,195 C1428,194.4 1425,196.6 1420.6,197.4 C1416.2,196.6 1413.2,194.4 1409.6,195Z" fill="#EFE422"/>
<path d="M1403.3,161.1L1437.9,161.1L1437.9,198.4 L1420.4,206.6 L1403.3,198.4Z" fill="none" stroke="#444" stroke-width="0.7"/>
<rect x="1403.7" y="161.5" width="33.8" height="6.8" fill="#fff" stroke="#555" stroke-width="0.3"/>
<text x="1420.6" y="166.6" font-family="Liberation Sans, sans-serif" font-size="4.3" font-weight="bold" text-anchor="middle" textLength="30.5" lengthAdjust="spacingAndGlyphs" fill="#111">MINAHASA SELATAN</text>
</svg>
<div class="tl">
<div class="t b" style="top:95.00px;font-size:16.5px;left:454.60px;transform:translateX(-50%);">Suluun Tareran</div>
<div class="t" style="top:527.00px;font-size:13.2px;left:564.50px;transform:translateX(-50%);">Wiau Lapi</div>
<div class="t" style="top:581.00px;font-size:13.2px;left:84.00px;transform:translateX(-50%);">Wiau Lapi Barat</div>
<div class="t b" style="top:761.00px;font-size:16.5px;left:418.00px;transform:translateX(-50%);">Tareran</div>
<div class="t" style="top:876.00px;font-size:13.2px;left:814.70px;transform:translateX(-50%);">Rumoong Atas</div>
<div class="t b" style="top:924.00px;font-size:18.85px;left:1092.90px;transform:translateX(-50%);">Kab. Minahasa</div>
<div class="t" style="top:946.00px;font-size:13.2px;left:95.20px;transform:translateX(-50%);">Rumoong Atas Dua</div>
<div class="t" style="top:949.00px;font-size:13.2px;left:231.20px;transform:translateX(-50%);">Rumoong Atas</div>
<div class="t" style="top:939.00px;font-size:13.2px;left:508.50px;transform:translateX(-50%);">Lansot Timur</div>
<div class="t" style="top:1015.00px;font-size:13.2px;left:295.60px;transform:translateX(-50%);">Lansot</div>
<div class="t b" style="top:101.00px;font-size:14.25px;left:1384.40px;transform:translateX(-50%);">POLITEKNIK NEGERI MANADO</div>
<div class="t b" style="top:118.00px;font-size:14.25px;left:1384.40px;transform:translateX(-50%);">JURUSAN  TEKNIK ELEKTRO</div>
<div class="t b" style="top:134.00px;font-size:14.25px;left:1384.40px;transform:translateX(-50%);">PRODI INFORMATIKA</div>
<div class="t b" style="top:211.00px;font-size:14.25px;left:1384.40px;transform:translateX(-50%);">PETA KELEMBAPAN DESA WIAU LAPI</div>
<div class="t b" style="top:227.00px;font-size:14.25px;left:1384.40px;transform:translateX(-50%);">KECAMATAN TARERAN</div>
<div class="t b" style="top:244.00px;font-size:14.25px;left:1384.40px;transform:translateX(-50%);">MINAHASA SELATAN</div>
<div class="t" style="top:269.00px;font-size:11.85px;left:1193.00px;">PROYEKSI</div>
<div class="t" style="top:268.00px;font-size:11.85px;left:1333.50px;">:</div>
<div class="t" style="top:268.00px;font-size:11.85px;left:1355.30px;">UNIVERSAL TRANSVERSE MERCATOR</div>
<div class="t" style="top:283.00px;font-size:11.85px;left:1193.00px;">SISTEM GRID</div>
<div class="t" style="top:281.00px;font-size:11.85px;left:1333.50px;">:</div>
<div class="t" style="top:281.00px;font-size:11.85px;left:1355.30px;">GRID GRATICULE</div>
<div class="t" style="top:296.00px;font-size:11.85px;left:1193.00px;">DATUM HORIZONTAL</div>
<div class="t" style="top:295.00px;font-size:11.85px;left:1333.50px;">:</div>
<div class="t" style="top:295.00px;font-size:11.85px;left:1355.30px;">WGS 1984 ZONA 51-N</div>
<div class="t" style="top:316.00px;font-size:13.5px;left:1229.10px;transform:translateX(-50%);">N</div>
<div class="t" style="top:344.00px;font-size:13.5px;left:1199.70px;transform:translateX(-50%);">W</div>
<div class="t" style="top:344.00px;font-size:13.5px;left:1257.30px;transform:translateX(-50%);">E</div>
<div class="t" style="top:374.00px;font-size:13.5px;left:1229.30px;transform:translateX(-50%);">S</div>
<div class="t" style="top:334.00px;font-size:14.15px;left:1331.80px;">SKALA :1:4,296</div>
<div class="t" style="top:353.00px;font-size:13.5px;left:1497.50px;">Kilometers</div>
<div class="t" style="top:369.00px;font-size:13px;left:1269.00px;transform:translateX(-50%);">0</div>
<div class="t" style="top:369.00px;font-size:13px;left:1296.00px;transform:translateX(-50%);">0.1</div>
<div class="t" style="top:369.00px;font-size:13px;left:1324.80px;transform:translateX(-50%);">0.2</div>
<div class="t" style="top:369.00px;font-size:13px;left:1381.00px;transform:translateX(-50%);">0.4</div>
<div class="t" style="top:369.00px;font-size:13px;left:1437.00px;transform:translateX(-50%);">0.6</div>
<div class="t" style="top:369.00px;font-size:13px;left:1493.40px;transform:translateX(-50%);">0.9</div>
<div class="t b" style="top:400.00px;font-size:11.83px;left:1193.40px;">KETERANGAN</div>
<div class="t b" style="top:419.00px;font-size:11.83px;left:1193.40px;">BATAS ADMINISTRASI</div>
<div class="t" style="top:433.00px;font-size:11.83px;left:1219.10px;">Batas Kabupaten/Kota</div>
<div class="t" style="top:447.00px;font-size:11.83px;left:1219.10px;">Batas Kecamatan</div>
<div class="t" style="top:461.00px;font-size:11.83px;left:1219.10px;">Batas Kelurahan</div>
<div class="t b" style="top:479.00px;font-size:11.83px;left:1193.40px;">JARINGAN JALAN</div>
<div class="t" style="top:493.00px;font-size:11.83px;left:1218.50px;">Jalan Arteri Primer</div>
<div class="t" style="top:506.00px;font-size:11.83px;left:1218.50px;">Jalan Kolektor Primer</div>
<div class="t" style="top:520.00px;font-size:11.83px;left:1218.50px;">Jalan Kolektor Sekunder</div>
<div class="t" style="top:533.00px;font-size:11.83px;left:1218.50px;">Jalan Lokal Primer</div>
<div class="t" style="top:547.00px;font-size:11.83px;left:1218.50px;">Jalan Lingkungan</div>
<div class="t b" style="top:564.00px;font-size:11.83px;left:1193.40px;">KEBASAHAN LAHAN</div>
<div class="t" style="top:579.00px;font-size:11.83px;left:1218.50px;">Kebasahan Tinggi</div>
<div class="t" style="top:593.00px;font-size:11.83px;left:1218.50px;">Kebasahan Sedang</div>
<div class="t" style="top:606.00px;font-size:11.83px;left:1218.50px;">Kebasahan Rendah</div>
<div class="t" style="top:620.00px;font-size:11.83px;left:1218.50px;">Kebasahan Sangat Rendah</div>
<div class="t" style="top:633.00px;font-size:11.83px;left:1218.50px;">Lahan Kering</div>
<div class="t b" style="top:675.00px;font-size:7.9px;left:1290.30px;transform:translateX(-50%);">Tingkat Kebasahan</div>
<div class="t b" style="top:675.00px;font-size:8.15px;left:1438.50px;transform:translateX(-50%);">Rekomendasi Utama</div>
<div class="t b" style="top:696.00px;font-size:7.05px;left:1290.20px;transform:translateX(-50%);color:#0a2a55;">Tinggi</div>
<div class="t" style="left:1345.6px;top:686.00px;font-size:7.0px;letter-spacing:0"><b>Tanaman:</b><span style="color:#333"> Padi, Sayuran air (Kangkung, Sawi)</span></div>
<div class="t" style="left:1345.6px;top:696.00px;font-size:7.0px;letter-spacing:0"><b>Infrastruktur:</b><span style="color:#333"> Irigasi &amp; Saluran</span></div>
<div class="t" style="left:1345.6px;top:706.00px;font-size:7.0px;letter-spacing:0"><b>Pariwisata:</b><span style="color:#333"> Ekowisata rawa/sungai</span></div>
<div class="t b" style="top:727.00px;font-size:7.05px;left:1290.20px;transform:translateX(-50%);color:#1f3300;">Sedang</div>
<div class="t" style="left:1345.6px;top:717.00px;font-size:7.0px;letter-spacing:0"><b>Tanaman:</b><span style="color:#333"> Jagung, Pisang, Sayur</span></div>
<div class="t" style="left:1345.6px;top:727.00px;font-size:7.0px;letter-spacing:0"><b>Infrastruktur:</b><span style="color:#333"></span></div>
<div class="t" style="left:1345.6px;top:737.00px;font-size:7.0px;letter-spacing:0"><b>Pariwisata:</b><span style="color:#333"> Wisata agro (buah)</span></div>
<div class="t b" style="top:758.00px;font-size:7.05px;left:1290.20px;transform:translateX(-50%);color:#2a2000;">Rendah</div>
<div class="t" style="left:1345.6px;top:748.00px;font-size:7.0px;letter-spacing:0"><b>Tanaman:</b><span style="color:#333"> Cengkeh, Pala, Kakao</span></div>
<div class="t" style="left:1345.6px;top:758.00px;font-size:7.0px;letter-spacing:0"><b>Infrastruktur:</b><span style="color:#333"> Penampungan air hujan</span></div>
<div class="t" style="left:1345.6px;top:769.00px;font-size:7.0px;letter-spacing:0"><b>Pariwisata:</b><span style="color:#333"> Wisata perkebunan</span></div>
<div class="t b" style="top:789.00px;font-size:7.05px;left:1290.20px;transform:translateX(-50%);color:#4a1500;">Sangat Rendah</div>
<div class="t" style="left:1345.6px;top:779.00px;font-size:7.0px;letter-spacing:0"><b>Tanaman:</b><span style="color:#333"> Jarak pagar, Sorgum</span></div>
<div class="t" style="left:1345.6px;top:789.00px;font-size:7.0px;letter-spacing:0"><b>Infrastruktur:</b><span style="color:#333"> Sumur resapan</span></div>
<div class="t" style="left:1345.6px;top:800.00px;font-size:7.0px;letter-spacing:0"><b>Pariwisata:</b><span style="color:#333"> Wisata savana</span></div>
<div class="t b" style="top:820.00px;font-size:7.05px;left:1290.20px;transform:translateX(-50%);color:#5a0000;">Lahan Kering</div>
<div class="t" style="left:1345.6px;top:810.00px;font-size:7.0px;letter-spacing:0"><b>Tanaman:</b><span style="color:#333"> Tanaman keras, Ternak</span></div>
<div class="t" style="left:1345.6px;top:820.00px;font-size:7.0px;letter-spacing:0"><b>Infrastruktur:</b><span style="color:#333"> Konservasi tanah</span></div>
<div class="t" style="left:1345.6px;top:831.00px;font-size:7.0px;letter-spacing:0"><b>Pariwisata:</b><span style="color:#333"> Trekking &amp; Camping</span></div>
<div class="t b" style="top:854.00px;font-size:11.75px;left:1384.40px;transform:translateX(-50%);">DIAGRAM LOKASI</div>
<div class="t" style="top:1060.00px;font-size:9.5px;left:1193.10px;">SUMBER DATA DAN RIWAYAT PETA :</div>
<div class="t" style="top:1072.00px;font-size:9.5px;left:1193.10px;">RTRW Minahasa Selatan 2014 - 2034</div>
<div class="t" style="top:1083.00px;font-size:9.48px;left:1193.10px;">Draft Revisi RTRW Provinsi Sulawesi Utara 2023</div>
<div class="t" style="top:1094.00px;font-size:9.48px;left:1193.10px;">Citra Drone 2025</div>
</div>
</body></html>
